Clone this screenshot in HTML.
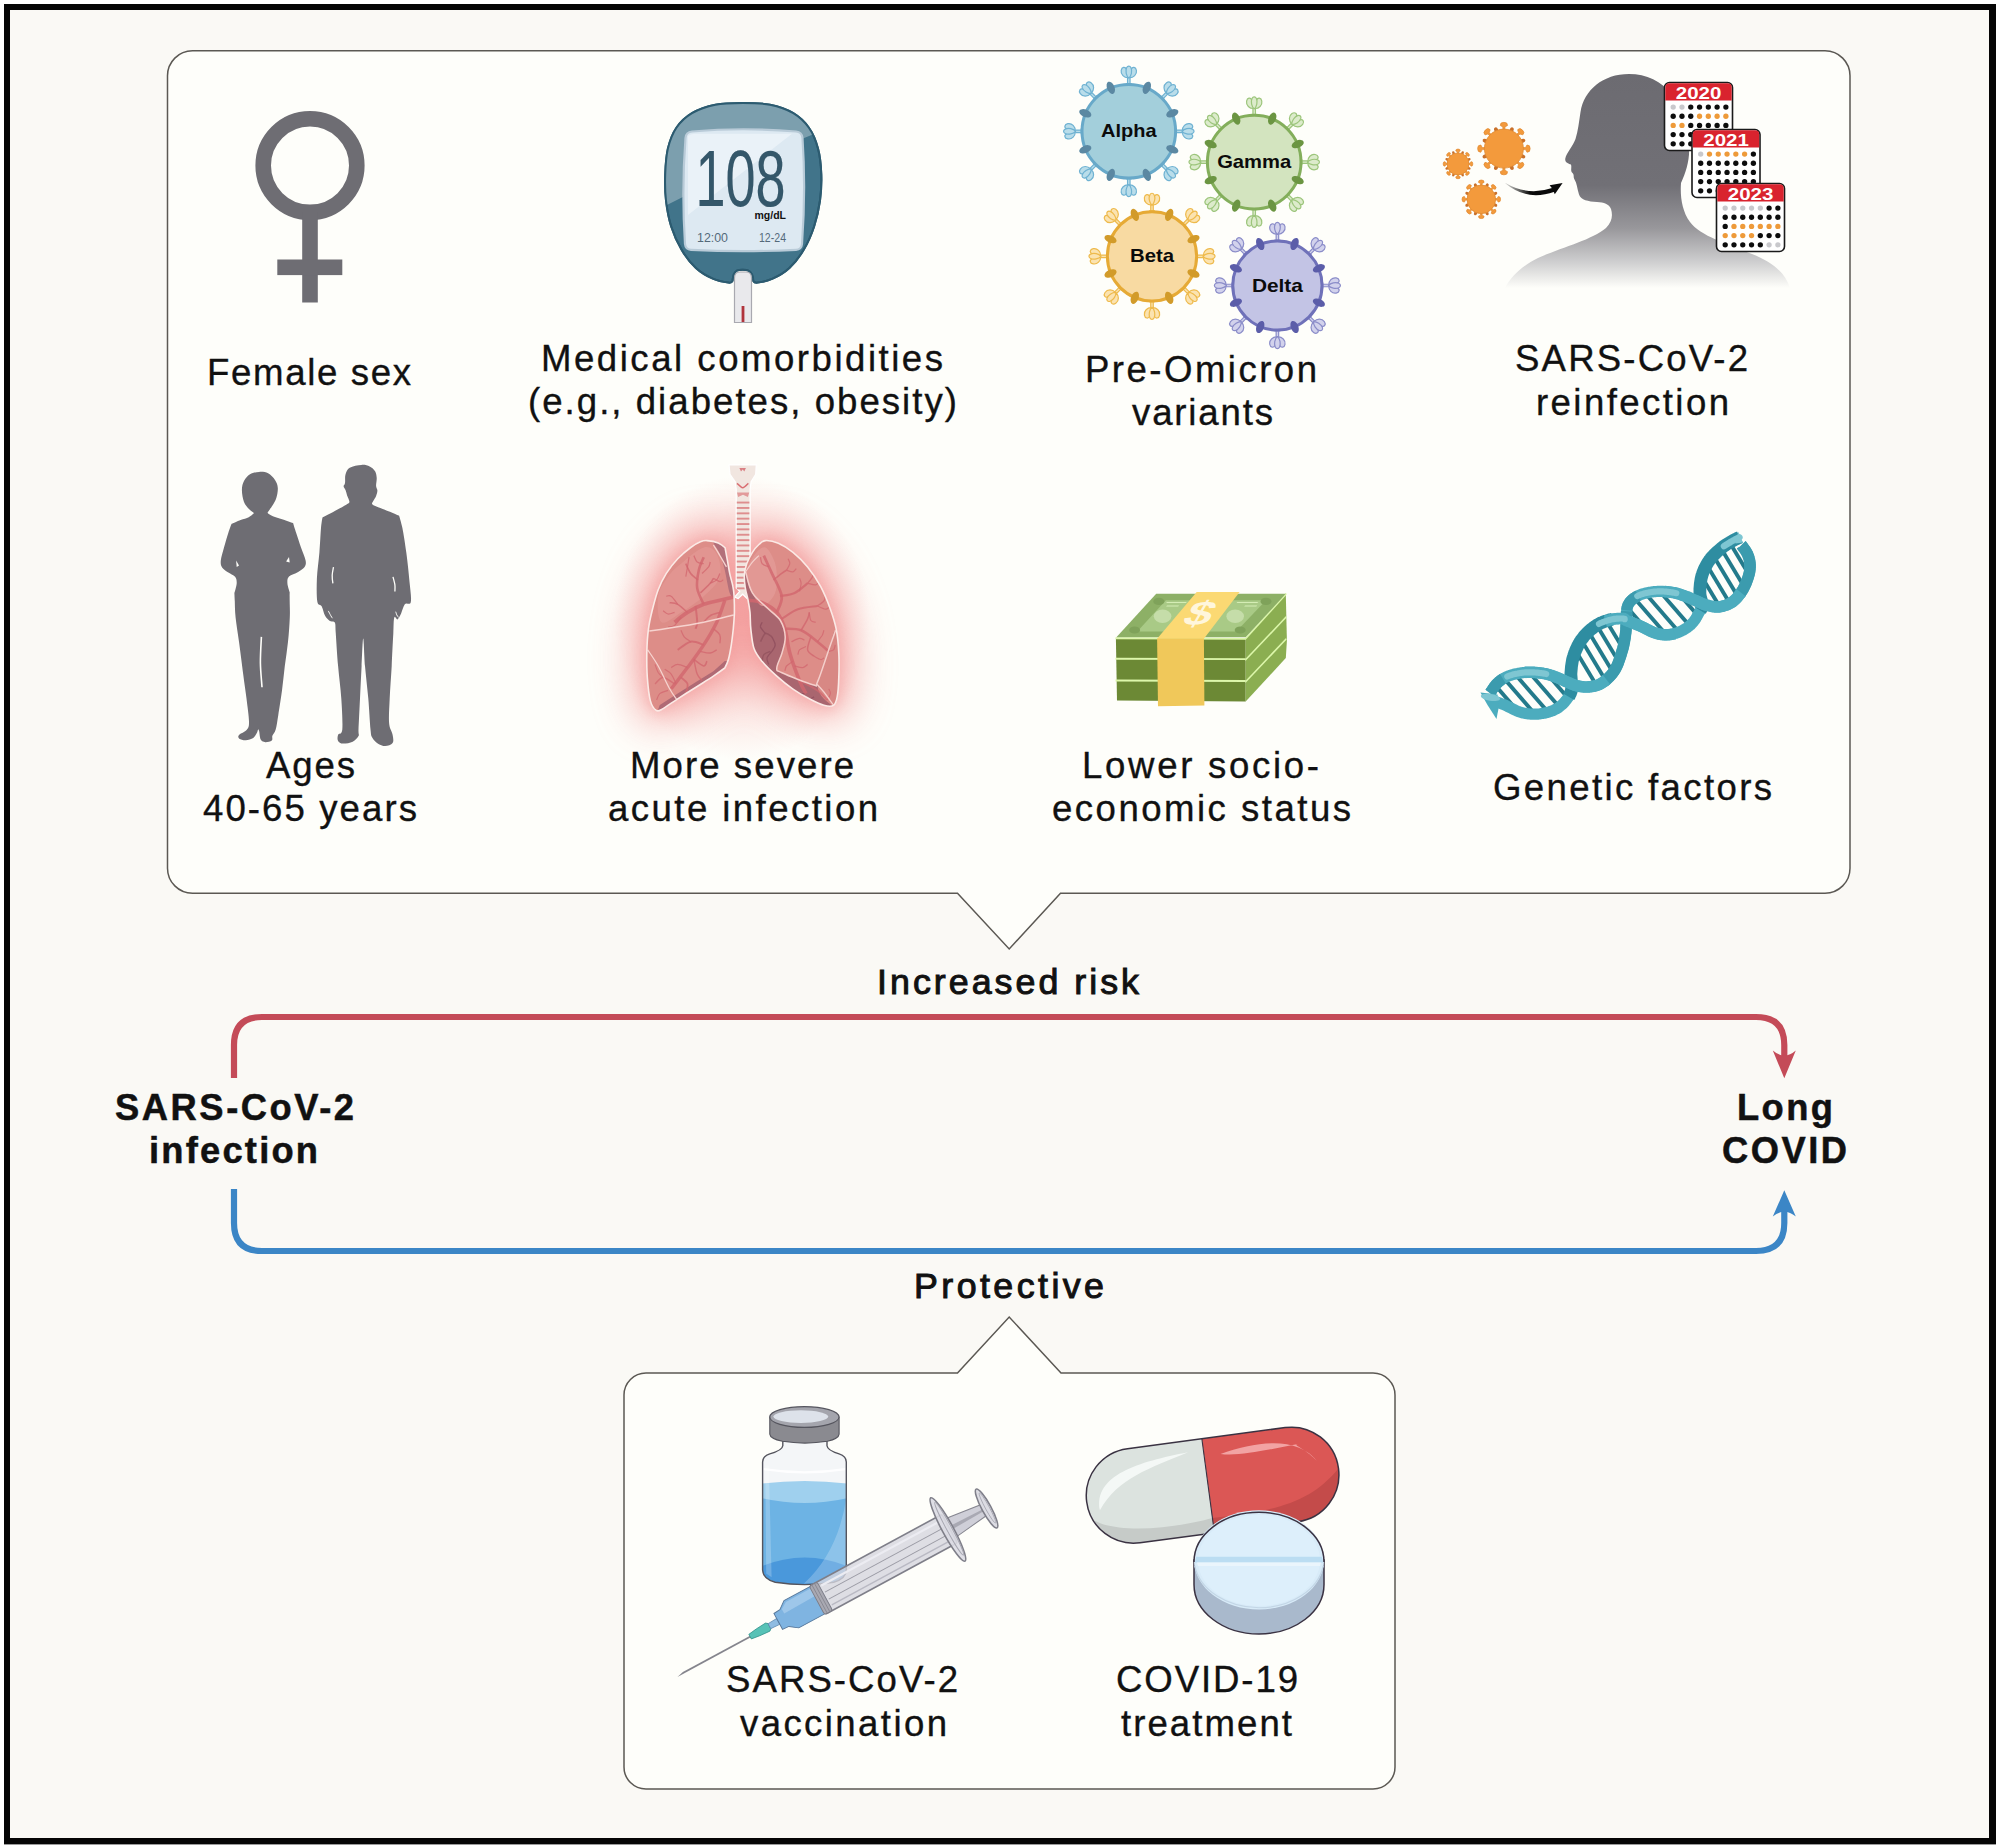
<!DOCTYPE html>
<html lang="en"><head><meta charset="utf-8"><title>Long COVID risk and protective factors</title>
<style>
html,body{margin:0;padding:0;background:#fff;}
body{width:2000px;height:1847px;overflow:hidden;}
svg{display:block;font-family:"Liberation Sans", sans-serif;}
text{white-space:pre;}
</style></head><body>
<svg width="2000" height="1847" viewBox="0 0 2000 1847">
<rect x="0" y="0" width="2000" height="1847" fill="#fff"/>
<rect x="4" y="4" width="1992" height="1840.4" fill="#050505"/>
<rect x="10" y="10" width="1979" height="1828" fill="#FAF9F5"/>
<path d="M192.5,50.8 H1825 A25,25 0 0 1 1850,75.8 V868.2 A25,25 0 0 1 1825,893.2 H1060.5 L1009.2,949 L957.5,893.2 H192.5 A25,25 0 0 1 167.5,868.2 V75.8 A25,25 0 0 1 192.5,50.8 Z" fill="#FEFEFA" stroke="#5b5853" stroke-width="1.5"/>
<path d="M646,1373 H957.5 L1009.2,1317 L1061,1373 H1373 A22,22 0 0 1 1395,1395 V1767 A22,22 0 0 1 1373,1789 H646 A22,22 0 0 1 624,1767 V1395 A22,22 0 0 1 646,1373 Z" fill="#FEFEFA" stroke="#5b5853" stroke-width="1.5"/>
<path d="M234,1078 V1045 Q234,1017 262,1017 H1756 Q1784.3,1017 1784.3,1045 V1060" fill="none" stroke="#C44B58" stroke-width="6.2"/>
<path d="M1784.3,1078.3 L1772.8,1050.5 Q1784.3,1060.5 1795.8,1050.5 Z" fill="#C44B58"/>
<path d="M234,1189 V1223 Q234,1251 262,1251 H1756 Q1784.3,1251 1784.3,1223 V1208" fill="none" stroke="#3B86C6" stroke-width="6.2"/>
<path d="M1784.3,1190.3 L1772.8,1216.5 Q1784.3,1207 1795.8,1216.5 Z" fill="#3B86C6"/>
<g id="female">
<circle cx="310" cy="165.6" r="46.8" fill="none" stroke="#6E6D73" stroke-width="15.6"/>
<rect x="302.2" y="212" width="15.6" height="90.5" fill="#6E6D73"/>
<rect x="277.3" y="259.5" width="65" height="15.6" fill="#6E6D73"/>
</g>
<g id="gluco">
<defs><clipPath id="gbody"><path d="M742.7,103.0 C751.8,103.0 761.5,103.0 770.0,104.7 C778.4,106.4 786.8,109.3 793.3,113.1 C799.8,117.0 804.8,121.8 808.9,127.7 C813.1,133.6 816.0,140.7 818.0,148.5 C820.1,156.3 821.0,165.8 821.3,174.5 C821.6,183.1 821.2,191.8 820.0,200.5 C818.8,209.1 816.8,218.2 814.1,226.5 C811.4,234.7 807.9,242.9 803.7,249.8 C799.6,256.8 794.6,263.2 789.4,268.0 C784.2,272.8 777.9,276.3 772.6,278.7 C767.2,281.1 760.8,282.2 757.6,282.6 C754.4,283.0 753.3,281.0 753.3,281.0 C753.3,281.0 752.8,276.3 752.0,274.5 C751.2,272.8 750.1,271.4 748.5,270.6 C747.0,269.8 744.6,269.7 742.7,269.7 C740.7,269.7 738.3,269.8 736.8,270.6 C735.3,271.4 734.5,272.8 733.8,274.5 C733.1,276.3 732.5,281.0 732.5,281.0 C732.5,281.0 731.7,283.0 728.4,282.6 C725.1,282.2 718.2,281.1 712.8,278.7 C707.4,276.3 701.1,272.8 695.9,268.0 C690.7,263.2 685.7,256.8 681.6,249.8 C677.5,242.9 673.8,234.7 671.2,226.5 C668.6,218.2 667.0,209.1 666.0,200.5 C665.0,191.8 664.9,183.1 665.2,174.5 C665.5,165.8 666.1,156.3 667.9,148.5 C669.8,140.7 672.4,133.6 676.4,127.7 C680.4,121.8 685.5,117.0 692.0,113.1 C698.5,109.3 706.9,106.4 715.4,104.7 C723.8,103.0 733.6,103.0 742.7,103.0 Z"/></clipPath></defs>
<path d="M742.7,103.0 C751.8,103.0 761.5,103.0 770.0,104.7 C778.4,106.4 786.8,109.3 793.3,113.1 C799.8,117.0 804.8,121.8 808.9,127.7 C813.1,133.6 816.0,140.7 818.0,148.5 C820.1,156.3 821.0,165.8 821.3,174.5 C821.6,183.1 821.2,191.8 820.0,200.5 C818.8,209.1 816.8,218.2 814.1,226.5 C811.4,234.7 807.9,242.9 803.7,249.8 C799.6,256.8 794.6,263.2 789.4,268.0 C784.2,272.8 777.9,276.3 772.6,278.7 C767.2,281.1 760.8,282.2 757.6,282.6 C754.4,283.0 753.3,281.0 753.3,281.0 C753.3,281.0 752.8,276.3 752.0,274.5 C751.2,272.8 750.1,271.4 748.5,270.6 C747.0,269.8 744.6,269.7 742.7,269.7 C740.7,269.7 738.3,269.8 736.8,270.6 C735.3,271.4 734.5,272.8 733.8,274.5 C733.1,276.3 732.5,281.0 732.5,281.0 C732.5,281.0 731.7,283.0 728.4,282.6 C725.1,282.2 718.2,281.1 712.8,278.7 C707.4,276.3 701.1,272.8 695.9,268.0 C690.7,263.2 685.7,256.8 681.6,249.8 C677.5,242.9 673.8,234.7 671.2,226.5 C668.6,218.2 667.0,209.1 666.0,200.5 C665.0,191.8 664.9,183.1 665.2,174.5 C665.5,165.8 666.1,156.3 667.9,148.5 C669.8,140.7 672.4,133.6 676.4,127.7 C680.4,121.8 685.5,117.0 692.0,113.1 C698.5,109.3 706.9,106.4 715.4,104.7 C723.8,103.0 733.6,103.0 742.7,103.0 Z" fill="#41748A" stroke="#2C5B70" stroke-width="2"/>
<g clip-path="url(#gbody)"><path d="M660,100 H830 V128 C800,138 740,168 663,207 Z" fill="#7C9FAE"/></g>
<path d="M742.7,103.0 C751.8,103.0 761.5,103.0 770.0,104.7 C778.4,106.4 786.8,109.3 793.3,113.1 C799.8,117.0 804.8,121.8 808.9,127.7 C813.1,133.6 816.0,140.7 818.0,148.5 C820.1,156.3 821.0,165.8 821.3,174.5 C821.6,183.1 821.2,191.8 820.0,200.5 C818.8,209.1 816.8,218.2 814.1,226.5 C811.4,234.7 807.9,242.9 803.7,249.8 C799.6,256.8 794.6,263.2 789.4,268.0 C784.2,272.8 777.9,276.3 772.6,278.7 C767.2,281.1 760.8,282.2 757.6,282.6 C754.4,283.0 753.3,281.0 753.3,281.0 C753.3,281.0 752.8,276.3 752.0,274.5 C751.2,272.8 750.1,271.4 748.5,270.6 C747.0,269.8 744.6,269.7 742.7,269.7 C740.7,269.7 738.3,269.8 736.8,270.6 C735.3,271.4 734.5,272.8 733.8,274.5 C733.1,276.3 732.5,281.0 732.5,281.0 C732.5,281.0 731.7,283.0 728.4,282.6 C725.1,282.2 718.2,281.1 712.8,278.7 C707.4,276.3 701.1,272.8 695.9,268.0 C690.7,263.2 685.7,256.8 681.6,249.8 C677.5,242.9 673.8,234.7 671.2,226.5 C668.6,218.2 667.0,209.1 666.0,200.5 C665.0,191.8 664.9,183.1 665.2,174.5 C665.5,165.8 666.1,156.3 667.9,148.5 C669.8,140.7 672.4,133.6 676.4,127.7 C680.4,121.8 685.5,117.0 692.0,113.1 C698.5,109.3 706.9,106.4 715.4,104.7 C723.8,103.0 733.6,103.0 742.7,103.0 Z" fill="none" stroke="#2C5B70" stroke-width="2"/>
<path d="M734.5,278 Q734.5,272 740,272 H746 Q751.5,272 751.5,278 V322.5 H734.5 Z" fill="#E9E9EC" stroke="#A9A9B0" stroke-width="1.2"/>
<rect x="741.6" y="306" width="2.8" height="16" fill="#B0343C"/>
<path d="M692,131.5 Q743,127 796,131.5 Q802,132 802.5,138 Q806,190 802,244 Q801.5,249.5 796,249.8 Q743,252.5 691,249.8 Q685.5,249.5 685,244 Q681.5,190 685.5,138 Q686,132 692,131.5 Z" fill="#DDE9F2" stroke="#B9CBD8" stroke-width="2.2"/>
<path d="M688,136 Q690,134 694,133.8 L792,133.8 L688,215 Z" fill="#EEF4F9" opacity="0.75"/>
<text x="695.5" y="205.5" font-size="79" fill="#34576A" textLength="90" lengthAdjust="spacingAndGlyphs" stroke="#2B4A5A" stroke-width="0.2">108</text>
<text x="754.5" y="219" font-size="10.5" font-weight="bold" fill="#111" textLength="31.5" lengthAdjust="spacingAndGlyphs">mg/dL</text>
<text x="697" y="241.5" font-size="13" fill="#54697a" textLength="31" lengthAdjust="spacingAndGlyphs">12:00</text>
<text x="759" y="241.5" font-size="13" fill="#54697a" textLength="27" lengthAdjust="spacingAndGlyphs">12-24</text>
</g>
<g id="viruses">
<g transform="translate(1128.8,131.3) rotate(0) translate(0,-46.8)" fill="#B9DDEA" stroke="#6FB2D2" stroke-width="1.2" stroke-linejoin="round"><path d="M-1.25,1.5 L-1.25,-8 L1.25,-8 L1.25,1.5 Z"/><path d="M-3,-0.6 L3,-0.6" stroke-width="1.6"/><path d="M-0.6,-6.8 C-4.5,-6.6 -8.4,-10 -7.6,-14.2 C-7,-17.6 -3.6,-18.2 -2.4,-15.2 C-1.6,-12.6 -1,-9.4 -0.6,-6.8 Z"/><path d="M0.6,-6.8 C4.5,-6.6 8.4,-10 7.6,-14.2 C7,-17.6 3.6,-18.2 2.4,-15.2 C1.6,-12.6 1,-9.4 0.6,-6.8 Z"/><path d="M0,-6.4 C-2.6,-8.6 -3.6,-13.6 -2.2,-16.8 C-1.2,-19 1.2,-19 2.2,-16.8 C3.6,-13.6 2.6,-8.6 0,-6.4 Z"/></g>
<g transform="translate(1128.8,131.3) rotate(45) translate(0,-46.8)" fill="#B9DDEA" stroke="#6FB2D2" stroke-width="1.2" stroke-linejoin="round"><path d="M-1.25,1.5 L-1.25,-8 L1.25,-8 L1.25,1.5 Z"/><path d="M-3,-0.6 L3,-0.6" stroke-width="1.6"/><path d="M-0.6,-6.8 C-4.5,-6.6 -8.4,-10 -7.6,-14.2 C-7,-17.6 -3.6,-18.2 -2.4,-15.2 C-1.6,-12.6 -1,-9.4 -0.6,-6.8 Z"/><path d="M0.6,-6.8 C4.5,-6.6 8.4,-10 7.6,-14.2 C7,-17.6 3.6,-18.2 2.4,-15.2 C1.6,-12.6 1,-9.4 0.6,-6.8 Z"/><path d="M0,-6.4 C-2.6,-8.6 -3.6,-13.6 -2.2,-16.8 C-1.2,-19 1.2,-19 2.2,-16.8 C3.6,-13.6 2.6,-8.6 0,-6.4 Z"/></g>
<g transform="translate(1128.8,131.3) rotate(90) translate(0,-46.8)" fill="#B9DDEA" stroke="#6FB2D2" stroke-width="1.2" stroke-linejoin="round"><path d="M-1.25,1.5 L-1.25,-8 L1.25,-8 L1.25,1.5 Z"/><path d="M-3,-0.6 L3,-0.6" stroke-width="1.6"/><path d="M-0.6,-6.8 C-4.5,-6.6 -8.4,-10 -7.6,-14.2 C-7,-17.6 -3.6,-18.2 -2.4,-15.2 C-1.6,-12.6 -1,-9.4 -0.6,-6.8 Z"/><path d="M0.6,-6.8 C4.5,-6.6 8.4,-10 7.6,-14.2 C7,-17.6 3.6,-18.2 2.4,-15.2 C1.6,-12.6 1,-9.4 0.6,-6.8 Z"/><path d="M0,-6.4 C-2.6,-8.6 -3.6,-13.6 -2.2,-16.8 C-1.2,-19 1.2,-19 2.2,-16.8 C3.6,-13.6 2.6,-8.6 0,-6.4 Z"/></g>
<g transform="translate(1128.8,131.3) rotate(135) translate(0,-46.8)" fill="#B9DDEA" stroke="#6FB2D2" stroke-width="1.2" stroke-linejoin="round"><path d="M-1.25,1.5 L-1.25,-8 L1.25,-8 L1.25,1.5 Z"/><path d="M-3,-0.6 L3,-0.6" stroke-width="1.6"/><path d="M-0.6,-6.8 C-4.5,-6.6 -8.4,-10 -7.6,-14.2 C-7,-17.6 -3.6,-18.2 -2.4,-15.2 C-1.6,-12.6 -1,-9.4 -0.6,-6.8 Z"/><path d="M0.6,-6.8 C4.5,-6.6 8.4,-10 7.6,-14.2 C7,-17.6 3.6,-18.2 2.4,-15.2 C1.6,-12.6 1,-9.4 0.6,-6.8 Z"/><path d="M0,-6.4 C-2.6,-8.6 -3.6,-13.6 -2.2,-16.8 C-1.2,-19 1.2,-19 2.2,-16.8 C3.6,-13.6 2.6,-8.6 0,-6.4 Z"/></g>
<g transform="translate(1128.8,131.3) rotate(180) translate(0,-46.8)" fill="#B9DDEA" stroke="#6FB2D2" stroke-width="1.2" stroke-linejoin="round"><path d="M-1.25,1.5 L-1.25,-8 L1.25,-8 L1.25,1.5 Z"/><path d="M-3,-0.6 L3,-0.6" stroke-width="1.6"/><path d="M-0.6,-6.8 C-4.5,-6.6 -8.4,-10 -7.6,-14.2 C-7,-17.6 -3.6,-18.2 -2.4,-15.2 C-1.6,-12.6 -1,-9.4 -0.6,-6.8 Z"/><path d="M0.6,-6.8 C4.5,-6.6 8.4,-10 7.6,-14.2 C7,-17.6 3.6,-18.2 2.4,-15.2 C1.6,-12.6 1,-9.4 0.6,-6.8 Z"/><path d="M0,-6.4 C-2.6,-8.6 -3.6,-13.6 -2.2,-16.8 C-1.2,-19 1.2,-19 2.2,-16.8 C3.6,-13.6 2.6,-8.6 0,-6.4 Z"/></g>
<g transform="translate(1128.8,131.3) rotate(225) translate(0,-46.8)" fill="#B9DDEA" stroke="#6FB2D2" stroke-width="1.2" stroke-linejoin="round"><path d="M-1.25,1.5 L-1.25,-8 L1.25,-8 L1.25,1.5 Z"/><path d="M-3,-0.6 L3,-0.6" stroke-width="1.6"/><path d="M-0.6,-6.8 C-4.5,-6.6 -8.4,-10 -7.6,-14.2 C-7,-17.6 -3.6,-18.2 -2.4,-15.2 C-1.6,-12.6 -1,-9.4 -0.6,-6.8 Z"/><path d="M0.6,-6.8 C4.5,-6.6 8.4,-10 7.6,-14.2 C7,-17.6 3.6,-18.2 2.4,-15.2 C1.6,-12.6 1,-9.4 0.6,-6.8 Z"/><path d="M0,-6.4 C-2.6,-8.6 -3.6,-13.6 -2.2,-16.8 C-1.2,-19 1.2,-19 2.2,-16.8 C3.6,-13.6 2.6,-8.6 0,-6.4 Z"/></g>
<g transform="translate(1128.8,131.3) rotate(270) translate(0,-46.8)" fill="#B9DDEA" stroke="#6FB2D2" stroke-width="1.2" stroke-linejoin="round"><path d="M-1.25,1.5 L-1.25,-8 L1.25,-8 L1.25,1.5 Z"/><path d="M-3,-0.6 L3,-0.6" stroke-width="1.6"/><path d="M-0.6,-6.8 C-4.5,-6.6 -8.4,-10 -7.6,-14.2 C-7,-17.6 -3.6,-18.2 -2.4,-15.2 C-1.6,-12.6 -1,-9.4 -0.6,-6.8 Z"/><path d="M0.6,-6.8 C4.5,-6.6 8.4,-10 7.6,-14.2 C7,-17.6 3.6,-18.2 2.4,-15.2 C1.6,-12.6 1,-9.4 0.6,-6.8 Z"/><path d="M0,-6.4 C-2.6,-8.6 -3.6,-13.6 -2.2,-16.8 C-1.2,-19 1.2,-19 2.2,-16.8 C3.6,-13.6 2.6,-8.6 0,-6.4 Z"/></g>
<g transform="translate(1128.8,131.3) rotate(315) translate(0,-46.8)" fill="#B9DDEA" stroke="#6FB2D2" stroke-width="1.2" stroke-linejoin="round"><path d="M-1.25,1.5 L-1.25,-8 L1.25,-8 L1.25,1.5 Z"/><path d="M-3,-0.6 L3,-0.6" stroke-width="1.6"/><path d="M-0.6,-6.8 C-4.5,-6.6 -8.4,-10 -7.6,-14.2 C-7,-17.6 -3.6,-18.2 -2.4,-15.2 C-1.6,-12.6 -1,-9.4 -0.6,-6.8 Z"/><path d="M0.6,-6.8 C4.5,-6.6 8.4,-10 7.6,-14.2 C7,-17.6 3.6,-18.2 2.4,-15.2 C1.6,-12.6 1,-9.4 0.6,-6.8 Z"/><path d="M0,-6.4 C-2.6,-8.6 -3.6,-13.6 -2.2,-16.8 C-1.2,-19 1.2,-19 2.2,-16.8 C3.6,-13.6 2.6,-8.6 0,-6.4 Z"/></g>
<circle cx="1128.8" cy="131.3" r="46.8" fill="#A3CFDB" stroke="#68A9C9" stroke-width="3"/>
<ellipse cx="0" cy="-47.099999999999994" rx="3.7" ry="6.4" fill="#5B88A2" transform="translate(1128.8,131.3) rotate(22.5)"/>
<ellipse cx="0" cy="-47.099999999999994" rx="3.7" ry="6.4" fill="#5B88A2" transform="translate(1128.8,131.3) rotate(67.5)"/>
<ellipse cx="0" cy="-47.099999999999994" rx="3.7" ry="6.4" fill="#5B88A2" transform="translate(1128.8,131.3) rotate(112.5)"/>
<ellipse cx="0" cy="-47.099999999999994" rx="3.7" ry="6.4" fill="#5B88A2" transform="translate(1128.8,131.3) rotate(157.5)"/>
<ellipse cx="0" cy="-47.099999999999994" rx="3.7" ry="6.4" fill="#5B88A2" transform="translate(1128.8,131.3) rotate(202.5)"/>
<ellipse cx="0" cy="-47.099999999999994" rx="3.7" ry="6.4" fill="#5B88A2" transform="translate(1128.8,131.3) rotate(247.5)"/>
<ellipse cx="0" cy="-47.099999999999994" rx="3.7" ry="6.4" fill="#5B88A2" transform="translate(1128.8,131.3) rotate(292.5)"/>
<ellipse cx="0" cy="-47.099999999999994" rx="3.7" ry="6.4" fill="#5B88A2" transform="translate(1128.8,131.3) rotate(337.5)"/>
<text x="1101.0" y="137.4" font-size="18.6" font-weight="bold" fill="#0b0b0b" textLength="55.5" lengthAdjust="spacingAndGlyphs">Alpha</text>
<g transform="translate(1254.2,162.1) rotate(0) translate(0,-46.8)" fill="#DCEBCB" stroke="#9CC57B" stroke-width="1.2" stroke-linejoin="round"><path d="M-1.25,1.5 L-1.25,-8 L1.25,-8 L1.25,1.5 Z"/><path d="M-3,-0.6 L3,-0.6" stroke-width="1.6"/><path d="M-0.6,-6.8 C-4.5,-6.6 -8.4,-10 -7.6,-14.2 C-7,-17.6 -3.6,-18.2 -2.4,-15.2 C-1.6,-12.6 -1,-9.4 -0.6,-6.8 Z"/><path d="M0.6,-6.8 C4.5,-6.6 8.4,-10 7.6,-14.2 C7,-17.6 3.6,-18.2 2.4,-15.2 C1.6,-12.6 1,-9.4 0.6,-6.8 Z"/><path d="M0,-6.4 C-2.6,-8.6 -3.6,-13.6 -2.2,-16.8 C-1.2,-19 1.2,-19 2.2,-16.8 C3.6,-13.6 2.6,-8.6 0,-6.4 Z"/></g>
<g transform="translate(1254.2,162.1) rotate(45) translate(0,-46.8)" fill="#DCEBCB" stroke="#9CC57B" stroke-width="1.2" stroke-linejoin="round"><path d="M-1.25,1.5 L-1.25,-8 L1.25,-8 L1.25,1.5 Z"/><path d="M-3,-0.6 L3,-0.6" stroke-width="1.6"/><path d="M-0.6,-6.8 C-4.5,-6.6 -8.4,-10 -7.6,-14.2 C-7,-17.6 -3.6,-18.2 -2.4,-15.2 C-1.6,-12.6 -1,-9.4 -0.6,-6.8 Z"/><path d="M0.6,-6.8 C4.5,-6.6 8.4,-10 7.6,-14.2 C7,-17.6 3.6,-18.2 2.4,-15.2 C1.6,-12.6 1,-9.4 0.6,-6.8 Z"/><path d="M0,-6.4 C-2.6,-8.6 -3.6,-13.6 -2.2,-16.8 C-1.2,-19 1.2,-19 2.2,-16.8 C3.6,-13.6 2.6,-8.6 0,-6.4 Z"/></g>
<g transform="translate(1254.2,162.1) rotate(90) translate(0,-46.8)" fill="#DCEBCB" stroke="#9CC57B" stroke-width="1.2" stroke-linejoin="round"><path d="M-1.25,1.5 L-1.25,-8 L1.25,-8 L1.25,1.5 Z"/><path d="M-3,-0.6 L3,-0.6" stroke-width="1.6"/><path d="M-0.6,-6.8 C-4.5,-6.6 -8.4,-10 -7.6,-14.2 C-7,-17.6 -3.6,-18.2 -2.4,-15.2 C-1.6,-12.6 -1,-9.4 -0.6,-6.8 Z"/><path d="M0.6,-6.8 C4.5,-6.6 8.4,-10 7.6,-14.2 C7,-17.6 3.6,-18.2 2.4,-15.2 C1.6,-12.6 1,-9.4 0.6,-6.8 Z"/><path d="M0,-6.4 C-2.6,-8.6 -3.6,-13.6 -2.2,-16.8 C-1.2,-19 1.2,-19 2.2,-16.8 C3.6,-13.6 2.6,-8.6 0,-6.4 Z"/></g>
<g transform="translate(1254.2,162.1) rotate(135) translate(0,-46.8)" fill="#DCEBCB" stroke="#9CC57B" stroke-width="1.2" stroke-linejoin="round"><path d="M-1.25,1.5 L-1.25,-8 L1.25,-8 L1.25,1.5 Z"/><path d="M-3,-0.6 L3,-0.6" stroke-width="1.6"/><path d="M-0.6,-6.8 C-4.5,-6.6 -8.4,-10 -7.6,-14.2 C-7,-17.6 -3.6,-18.2 -2.4,-15.2 C-1.6,-12.6 -1,-9.4 -0.6,-6.8 Z"/><path d="M0.6,-6.8 C4.5,-6.6 8.4,-10 7.6,-14.2 C7,-17.6 3.6,-18.2 2.4,-15.2 C1.6,-12.6 1,-9.4 0.6,-6.8 Z"/><path d="M0,-6.4 C-2.6,-8.6 -3.6,-13.6 -2.2,-16.8 C-1.2,-19 1.2,-19 2.2,-16.8 C3.6,-13.6 2.6,-8.6 0,-6.4 Z"/></g>
<g transform="translate(1254.2,162.1) rotate(180) translate(0,-46.8)" fill="#DCEBCB" stroke="#9CC57B" stroke-width="1.2" stroke-linejoin="round"><path d="M-1.25,1.5 L-1.25,-8 L1.25,-8 L1.25,1.5 Z"/><path d="M-3,-0.6 L3,-0.6" stroke-width="1.6"/><path d="M-0.6,-6.8 C-4.5,-6.6 -8.4,-10 -7.6,-14.2 C-7,-17.6 -3.6,-18.2 -2.4,-15.2 C-1.6,-12.6 -1,-9.4 -0.6,-6.8 Z"/><path d="M0.6,-6.8 C4.5,-6.6 8.4,-10 7.6,-14.2 C7,-17.6 3.6,-18.2 2.4,-15.2 C1.6,-12.6 1,-9.4 0.6,-6.8 Z"/><path d="M0,-6.4 C-2.6,-8.6 -3.6,-13.6 -2.2,-16.8 C-1.2,-19 1.2,-19 2.2,-16.8 C3.6,-13.6 2.6,-8.6 0,-6.4 Z"/></g>
<g transform="translate(1254.2,162.1) rotate(225) translate(0,-46.8)" fill="#DCEBCB" stroke="#9CC57B" stroke-width="1.2" stroke-linejoin="round"><path d="M-1.25,1.5 L-1.25,-8 L1.25,-8 L1.25,1.5 Z"/><path d="M-3,-0.6 L3,-0.6" stroke-width="1.6"/><path d="M-0.6,-6.8 C-4.5,-6.6 -8.4,-10 -7.6,-14.2 C-7,-17.6 -3.6,-18.2 -2.4,-15.2 C-1.6,-12.6 -1,-9.4 -0.6,-6.8 Z"/><path d="M0.6,-6.8 C4.5,-6.6 8.4,-10 7.6,-14.2 C7,-17.6 3.6,-18.2 2.4,-15.2 C1.6,-12.6 1,-9.4 0.6,-6.8 Z"/><path d="M0,-6.4 C-2.6,-8.6 -3.6,-13.6 -2.2,-16.8 C-1.2,-19 1.2,-19 2.2,-16.8 C3.6,-13.6 2.6,-8.6 0,-6.4 Z"/></g>
<g transform="translate(1254.2,162.1) rotate(270) translate(0,-46.8)" fill="#DCEBCB" stroke="#9CC57B" stroke-width="1.2" stroke-linejoin="round"><path d="M-1.25,1.5 L-1.25,-8 L1.25,-8 L1.25,1.5 Z"/><path d="M-3,-0.6 L3,-0.6" stroke-width="1.6"/><path d="M-0.6,-6.8 C-4.5,-6.6 -8.4,-10 -7.6,-14.2 C-7,-17.6 -3.6,-18.2 -2.4,-15.2 C-1.6,-12.6 -1,-9.4 -0.6,-6.8 Z"/><path d="M0.6,-6.8 C4.5,-6.6 8.4,-10 7.6,-14.2 C7,-17.6 3.6,-18.2 2.4,-15.2 C1.6,-12.6 1,-9.4 0.6,-6.8 Z"/><path d="M0,-6.4 C-2.6,-8.6 -3.6,-13.6 -2.2,-16.8 C-1.2,-19 1.2,-19 2.2,-16.8 C3.6,-13.6 2.6,-8.6 0,-6.4 Z"/></g>
<g transform="translate(1254.2,162.1) rotate(315) translate(0,-46.8)" fill="#DCEBCB" stroke="#9CC57B" stroke-width="1.2" stroke-linejoin="round"><path d="M-1.25,1.5 L-1.25,-8 L1.25,-8 L1.25,1.5 Z"/><path d="M-3,-0.6 L3,-0.6" stroke-width="1.6"/><path d="M-0.6,-6.8 C-4.5,-6.6 -8.4,-10 -7.6,-14.2 C-7,-17.6 -3.6,-18.2 -2.4,-15.2 C-1.6,-12.6 -1,-9.4 -0.6,-6.8 Z"/><path d="M0.6,-6.8 C4.5,-6.6 8.4,-10 7.6,-14.2 C7,-17.6 3.6,-18.2 2.4,-15.2 C1.6,-12.6 1,-9.4 0.6,-6.8 Z"/><path d="M0,-6.4 C-2.6,-8.6 -3.6,-13.6 -2.2,-16.8 C-1.2,-19 1.2,-19 2.2,-16.8 C3.6,-13.6 2.6,-8.6 0,-6.4 Z"/></g>
<circle cx="1254.2" cy="162.1" r="46.8" fill="#D3E4BF" stroke="#83AE5B" stroke-width="3"/>
<ellipse cx="0" cy="-47.099999999999994" rx="3.7" ry="6.4" fill="#6B9542" transform="translate(1254.2,162.1) rotate(22.5)"/>
<ellipse cx="0" cy="-47.099999999999994" rx="3.7" ry="6.4" fill="#6B9542" transform="translate(1254.2,162.1) rotate(67.5)"/>
<ellipse cx="0" cy="-47.099999999999994" rx="3.7" ry="6.4" fill="#6B9542" transform="translate(1254.2,162.1) rotate(112.5)"/>
<ellipse cx="0" cy="-47.099999999999994" rx="3.7" ry="6.4" fill="#6B9542" transform="translate(1254.2,162.1) rotate(157.5)"/>
<ellipse cx="0" cy="-47.099999999999994" rx="3.7" ry="6.4" fill="#6B9542" transform="translate(1254.2,162.1) rotate(202.5)"/>
<ellipse cx="0" cy="-47.099999999999994" rx="3.7" ry="6.4" fill="#6B9542" transform="translate(1254.2,162.1) rotate(247.5)"/>
<ellipse cx="0" cy="-47.099999999999994" rx="3.7" ry="6.4" fill="#6B9542" transform="translate(1254.2,162.1) rotate(292.5)"/>
<ellipse cx="0" cy="-47.099999999999994" rx="3.7" ry="6.4" fill="#6B9542" transform="translate(1254.2,162.1) rotate(337.5)"/>
<text x="1217.2" y="168.3" font-size="18.6" font-weight="bold" fill="#0b0b0b" textLength="74" lengthAdjust="spacingAndGlyphs">Gamma</text>
<g transform="translate(1152.0,256.3) rotate(0) translate(0,-44.6)" fill="#FBE3B0" stroke="#EEBA4C" stroke-width="1.2" stroke-linejoin="round"><path d="M-1.25,1.5 L-1.25,-8 L1.25,-8 L1.25,1.5 Z"/><path d="M-3,-0.6 L3,-0.6" stroke-width="1.6"/><path d="M-0.6,-6.8 C-4.5,-6.6 -8.4,-10 -7.6,-14.2 C-7,-17.6 -3.6,-18.2 -2.4,-15.2 C-1.6,-12.6 -1,-9.4 -0.6,-6.8 Z"/><path d="M0.6,-6.8 C4.5,-6.6 8.4,-10 7.6,-14.2 C7,-17.6 3.6,-18.2 2.4,-15.2 C1.6,-12.6 1,-9.4 0.6,-6.8 Z"/><path d="M0,-6.4 C-2.6,-8.6 -3.6,-13.6 -2.2,-16.8 C-1.2,-19 1.2,-19 2.2,-16.8 C3.6,-13.6 2.6,-8.6 0,-6.4 Z"/></g>
<g transform="translate(1152.0,256.3) rotate(45) translate(0,-44.6)" fill="#FBE3B0" stroke="#EEBA4C" stroke-width="1.2" stroke-linejoin="round"><path d="M-1.25,1.5 L-1.25,-8 L1.25,-8 L1.25,1.5 Z"/><path d="M-3,-0.6 L3,-0.6" stroke-width="1.6"/><path d="M-0.6,-6.8 C-4.5,-6.6 -8.4,-10 -7.6,-14.2 C-7,-17.6 -3.6,-18.2 -2.4,-15.2 C-1.6,-12.6 -1,-9.4 -0.6,-6.8 Z"/><path d="M0.6,-6.8 C4.5,-6.6 8.4,-10 7.6,-14.2 C7,-17.6 3.6,-18.2 2.4,-15.2 C1.6,-12.6 1,-9.4 0.6,-6.8 Z"/><path d="M0,-6.4 C-2.6,-8.6 -3.6,-13.6 -2.2,-16.8 C-1.2,-19 1.2,-19 2.2,-16.8 C3.6,-13.6 2.6,-8.6 0,-6.4 Z"/></g>
<g transform="translate(1152.0,256.3) rotate(90) translate(0,-44.6)" fill="#FBE3B0" stroke="#EEBA4C" stroke-width="1.2" stroke-linejoin="round"><path d="M-1.25,1.5 L-1.25,-8 L1.25,-8 L1.25,1.5 Z"/><path d="M-3,-0.6 L3,-0.6" stroke-width="1.6"/><path d="M-0.6,-6.8 C-4.5,-6.6 -8.4,-10 -7.6,-14.2 C-7,-17.6 -3.6,-18.2 -2.4,-15.2 C-1.6,-12.6 -1,-9.4 -0.6,-6.8 Z"/><path d="M0.6,-6.8 C4.5,-6.6 8.4,-10 7.6,-14.2 C7,-17.6 3.6,-18.2 2.4,-15.2 C1.6,-12.6 1,-9.4 0.6,-6.8 Z"/><path d="M0,-6.4 C-2.6,-8.6 -3.6,-13.6 -2.2,-16.8 C-1.2,-19 1.2,-19 2.2,-16.8 C3.6,-13.6 2.6,-8.6 0,-6.4 Z"/></g>
<g transform="translate(1152.0,256.3) rotate(135) translate(0,-44.6)" fill="#FBE3B0" stroke="#EEBA4C" stroke-width="1.2" stroke-linejoin="round"><path d="M-1.25,1.5 L-1.25,-8 L1.25,-8 L1.25,1.5 Z"/><path d="M-3,-0.6 L3,-0.6" stroke-width="1.6"/><path d="M-0.6,-6.8 C-4.5,-6.6 -8.4,-10 -7.6,-14.2 C-7,-17.6 -3.6,-18.2 -2.4,-15.2 C-1.6,-12.6 -1,-9.4 -0.6,-6.8 Z"/><path d="M0.6,-6.8 C4.5,-6.6 8.4,-10 7.6,-14.2 C7,-17.6 3.6,-18.2 2.4,-15.2 C1.6,-12.6 1,-9.4 0.6,-6.8 Z"/><path d="M0,-6.4 C-2.6,-8.6 -3.6,-13.6 -2.2,-16.8 C-1.2,-19 1.2,-19 2.2,-16.8 C3.6,-13.6 2.6,-8.6 0,-6.4 Z"/></g>
<g transform="translate(1152.0,256.3) rotate(180) translate(0,-44.6)" fill="#FBE3B0" stroke="#EEBA4C" stroke-width="1.2" stroke-linejoin="round"><path d="M-1.25,1.5 L-1.25,-8 L1.25,-8 L1.25,1.5 Z"/><path d="M-3,-0.6 L3,-0.6" stroke-width="1.6"/><path d="M-0.6,-6.8 C-4.5,-6.6 -8.4,-10 -7.6,-14.2 C-7,-17.6 -3.6,-18.2 -2.4,-15.2 C-1.6,-12.6 -1,-9.4 -0.6,-6.8 Z"/><path d="M0.6,-6.8 C4.5,-6.6 8.4,-10 7.6,-14.2 C7,-17.6 3.6,-18.2 2.4,-15.2 C1.6,-12.6 1,-9.4 0.6,-6.8 Z"/><path d="M0,-6.4 C-2.6,-8.6 -3.6,-13.6 -2.2,-16.8 C-1.2,-19 1.2,-19 2.2,-16.8 C3.6,-13.6 2.6,-8.6 0,-6.4 Z"/></g>
<g transform="translate(1152.0,256.3) rotate(225) translate(0,-44.6)" fill="#FBE3B0" stroke="#EEBA4C" stroke-width="1.2" stroke-linejoin="round"><path d="M-1.25,1.5 L-1.25,-8 L1.25,-8 L1.25,1.5 Z"/><path d="M-3,-0.6 L3,-0.6" stroke-width="1.6"/><path d="M-0.6,-6.8 C-4.5,-6.6 -8.4,-10 -7.6,-14.2 C-7,-17.6 -3.6,-18.2 -2.4,-15.2 C-1.6,-12.6 -1,-9.4 -0.6,-6.8 Z"/><path d="M0.6,-6.8 C4.5,-6.6 8.4,-10 7.6,-14.2 C7,-17.6 3.6,-18.2 2.4,-15.2 C1.6,-12.6 1,-9.4 0.6,-6.8 Z"/><path d="M0,-6.4 C-2.6,-8.6 -3.6,-13.6 -2.2,-16.8 C-1.2,-19 1.2,-19 2.2,-16.8 C3.6,-13.6 2.6,-8.6 0,-6.4 Z"/></g>
<g transform="translate(1152.0,256.3) rotate(270) translate(0,-44.6)" fill="#FBE3B0" stroke="#EEBA4C" stroke-width="1.2" stroke-linejoin="round"><path d="M-1.25,1.5 L-1.25,-8 L1.25,-8 L1.25,1.5 Z"/><path d="M-3,-0.6 L3,-0.6" stroke-width="1.6"/><path d="M-0.6,-6.8 C-4.5,-6.6 -8.4,-10 -7.6,-14.2 C-7,-17.6 -3.6,-18.2 -2.4,-15.2 C-1.6,-12.6 -1,-9.4 -0.6,-6.8 Z"/><path d="M0.6,-6.8 C4.5,-6.6 8.4,-10 7.6,-14.2 C7,-17.6 3.6,-18.2 2.4,-15.2 C1.6,-12.6 1,-9.4 0.6,-6.8 Z"/><path d="M0,-6.4 C-2.6,-8.6 -3.6,-13.6 -2.2,-16.8 C-1.2,-19 1.2,-19 2.2,-16.8 C3.6,-13.6 2.6,-8.6 0,-6.4 Z"/></g>
<g transform="translate(1152.0,256.3) rotate(315) translate(0,-44.6)" fill="#FBE3B0" stroke="#EEBA4C" stroke-width="1.2" stroke-linejoin="round"><path d="M-1.25,1.5 L-1.25,-8 L1.25,-8 L1.25,1.5 Z"/><path d="M-3,-0.6 L3,-0.6" stroke-width="1.6"/><path d="M-0.6,-6.8 C-4.5,-6.6 -8.4,-10 -7.6,-14.2 C-7,-17.6 -3.6,-18.2 -2.4,-15.2 C-1.6,-12.6 -1,-9.4 -0.6,-6.8 Z"/><path d="M0.6,-6.8 C4.5,-6.6 8.4,-10 7.6,-14.2 C7,-17.6 3.6,-18.2 2.4,-15.2 C1.6,-12.6 1,-9.4 0.6,-6.8 Z"/><path d="M0,-6.4 C-2.6,-8.6 -3.6,-13.6 -2.2,-16.8 C-1.2,-19 1.2,-19 2.2,-16.8 C3.6,-13.6 2.6,-8.6 0,-6.4 Z"/></g>
<circle cx="1152.0" cy="256.3" r="44.6" fill="#F8DAA2" stroke="#E6AA36" stroke-width="3"/>
<ellipse cx="0" cy="-44.9" rx="3.7" ry="6.4" fill="#D29B2A" transform="translate(1152.0,256.3) rotate(22.5)"/>
<ellipse cx="0" cy="-44.9" rx="3.7" ry="6.4" fill="#D29B2A" transform="translate(1152.0,256.3) rotate(67.5)"/>
<ellipse cx="0" cy="-44.9" rx="3.7" ry="6.4" fill="#D29B2A" transform="translate(1152.0,256.3) rotate(112.5)"/>
<ellipse cx="0" cy="-44.9" rx="3.7" ry="6.4" fill="#D29B2A" transform="translate(1152.0,256.3) rotate(157.5)"/>
<ellipse cx="0" cy="-44.9" rx="3.7" ry="6.4" fill="#D29B2A" transform="translate(1152.0,256.3) rotate(202.5)"/>
<ellipse cx="0" cy="-44.9" rx="3.7" ry="6.4" fill="#D29B2A" transform="translate(1152.0,256.3) rotate(247.5)"/>
<ellipse cx="0" cy="-44.9" rx="3.7" ry="6.4" fill="#D29B2A" transform="translate(1152.0,256.3) rotate(292.5)"/>
<ellipse cx="0" cy="-44.9" rx="3.7" ry="6.4" fill="#D29B2A" transform="translate(1152.0,256.3) rotate(337.5)"/>
<text x="1130.0" y="262.4" font-size="18.6" font-weight="bold" fill="#0b0b0b" textLength="44" lengthAdjust="spacingAndGlyphs">Beta</text>
<g transform="translate(1277.4,285.5) rotate(0) translate(0,-44.6)" fill="#D2D2EC" stroke="#8B8DC9" stroke-width="1.2" stroke-linejoin="round"><path d="M-1.25,1.5 L-1.25,-8 L1.25,-8 L1.25,1.5 Z"/><path d="M-3,-0.6 L3,-0.6" stroke-width="1.6"/><path d="M-0.6,-6.8 C-4.5,-6.6 -8.4,-10 -7.6,-14.2 C-7,-17.6 -3.6,-18.2 -2.4,-15.2 C-1.6,-12.6 -1,-9.4 -0.6,-6.8 Z"/><path d="M0.6,-6.8 C4.5,-6.6 8.4,-10 7.6,-14.2 C7,-17.6 3.6,-18.2 2.4,-15.2 C1.6,-12.6 1,-9.4 0.6,-6.8 Z"/><path d="M0,-6.4 C-2.6,-8.6 -3.6,-13.6 -2.2,-16.8 C-1.2,-19 1.2,-19 2.2,-16.8 C3.6,-13.6 2.6,-8.6 0,-6.4 Z"/></g>
<g transform="translate(1277.4,285.5) rotate(45) translate(0,-44.6)" fill="#D2D2EC" stroke="#8B8DC9" stroke-width="1.2" stroke-linejoin="round"><path d="M-1.25,1.5 L-1.25,-8 L1.25,-8 L1.25,1.5 Z"/><path d="M-3,-0.6 L3,-0.6" stroke-width="1.6"/><path d="M-0.6,-6.8 C-4.5,-6.6 -8.4,-10 -7.6,-14.2 C-7,-17.6 -3.6,-18.2 -2.4,-15.2 C-1.6,-12.6 -1,-9.4 -0.6,-6.8 Z"/><path d="M0.6,-6.8 C4.5,-6.6 8.4,-10 7.6,-14.2 C7,-17.6 3.6,-18.2 2.4,-15.2 C1.6,-12.6 1,-9.4 0.6,-6.8 Z"/><path d="M0,-6.4 C-2.6,-8.6 -3.6,-13.6 -2.2,-16.8 C-1.2,-19 1.2,-19 2.2,-16.8 C3.6,-13.6 2.6,-8.6 0,-6.4 Z"/></g>
<g transform="translate(1277.4,285.5) rotate(90) translate(0,-44.6)" fill="#D2D2EC" stroke="#8B8DC9" stroke-width="1.2" stroke-linejoin="round"><path d="M-1.25,1.5 L-1.25,-8 L1.25,-8 L1.25,1.5 Z"/><path d="M-3,-0.6 L3,-0.6" stroke-width="1.6"/><path d="M-0.6,-6.8 C-4.5,-6.6 -8.4,-10 -7.6,-14.2 C-7,-17.6 -3.6,-18.2 -2.4,-15.2 C-1.6,-12.6 -1,-9.4 -0.6,-6.8 Z"/><path d="M0.6,-6.8 C4.5,-6.6 8.4,-10 7.6,-14.2 C7,-17.6 3.6,-18.2 2.4,-15.2 C1.6,-12.6 1,-9.4 0.6,-6.8 Z"/><path d="M0,-6.4 C-2.6,-8.6 -3.6,-13.6 -2.2,-16.8 C-1.2,-19 1.2,-19 2.2,-16.8 C3.6,-13.6 2.6,-8.6 0,-6.4 Z"/></g>
<g transform="translate(1277.4,285.5) rotate(135) translate(0,-44.6)" fill="#D2D2EC" stroke="#8B8DC9" stroke-width="1.2" stroke-linejoin="round"><path d="M-1.25,1.5 L-1.25,-8 L1.25,-8 L1.25,1.5 Z"/><path d="M-3,-0.6 L3,-0.6" stroke-width="1.6"/><path d="M-0.6,-6.8 C-4.5,-6.6 -8.4,-10 -7.6,-14.2 C-7,-17.6 -3.6,-18.2 -2.4,-15.2 C-1.6,-12.6 -1,-9.4 -0.6,-6.8 Z"/><path d="M0.6,-6.8 C4.5,-6.6 8.4,-10 7.6,-14.2 C7,-17.6 3.6,-18.2 2.4,-15.2 C1.6,-12.6 1,-9.4 0.6,-6.8 Z"/><path d="M0,-6.4 C-2.6,-8.6 -3.6,-13.6 -2.2,-16.8 C-1.2,-19 1.2,-19 2.2,-16.8 C3.6,-13.6 2.6,-8.6 0,-6.4 Z"/></g>
<g transform="translate(1277.4,285.5) rotate(180) translate(0,-44.6)" fill="#D2D2EC" stroke="#8B8DC9" stroke-width="1.2" stroke-linejoin="round"><path d="M-1.25,1.5 L-1.25,-8 L1.25,-8 L1.25,1.5 Z"/><path d="M-3,-0.6 L3,-0.6" stroke-width="1.6"/><path d="M-0.6,-6.8 C-4.5,-6.6 -8.4,-10 -7.6,-14.2 C-7,-17.6 -3.6,-18.2 -2.4,-15.2 C-1.6,-12.6 -1,-9.4 -0.6,-6.8 Z"/><path d="M0.6,-6.8 C4.5,-6.6 8.4,-10 7.6,-14.2 C7,-17.6 3.6,-18.2 2.4,-15.2 C1.6,-12.6 1,-9.4 0.6,-6.8 Z"/><path d="M0,-6.4 C-2.6,-8.6 -3.6,-13.6 -2.2,-16.8 C-1.2,-19 1.2,-19 2.2,-16.8 C3.6,-13.6 2.6,-8.6 0,-6.4 Z"/></g>
<g transform="translate(1277.4,285.5) rotate(225) translate(0,-44.6)" fill="#D2D2EC" stroke="#8B8DC9" stroke-width="1.2" stroke-linejoin="round"><path d="M-1.25,1.5 L-1.25,-8 L1.25,-8 L1.25,1.5 Z"/><path d="M-3,-0.6 L3,-0.6" stroke-width="1.6"/><path d="M-0.6,-6.8 C-4.5,-6.6 -8.4,-10 -7.6,-14.2 C-7,-17.6 -3.6,-18.2 -2.4,-15.2 C-1.6,-12.6 -1,-9.4 -0.6,-6.8 Z"/><path d="M0.6,-6.8 C4.5,-6.6 8.4,-10 7.6,-14.2 C7,-17.6 3.6,-18.2 2.4,-15.2 C1.6,-12.6 1,-9.4 0.6,-6.8 Z"/><path d="M0,-6.4 C-2.6,-8.6 -3.6,-13.6 -2.2,-16.8 C-1.2,-19 1.2,-19 2.2,-16.8 C3.6,-13.6 2.6,-8.6 0,-6.4 Z"/></g>
<g transform="translate(1277.4,285.5) rotate(270) translate(0,-44.6)" fill="#D2D2EC" stroke="#8B8DC9" stroke-width="1.2" stroke-linejoin="round"><path d="M-1.25,1.5 L-1.25,-8 L1.25,-8 L1.25,1.5 Z"/><path d="M-3,-0.6 L3,-0.6" stroke-width="1.6"/><path d="M-0.6,-6.8 C-4.5,-6.6 -8.4,-10 -7.6,-14.2 C-7,-17.6 -3.6,-18.2 -2.4,-15.2 C-1.6,-12.6 -1,-9.4 -0.6,-6.8 Z"/><path d="M0.6,-6.8 C4.5,-6.6 8.4,-10 7.6,-14.2 C7,-17.6 3.6,-18.2 2.4,-15.2 C1.6,-12.6 1,-9.4 0.6,-6.8 Z"/><path d="M0,-6.4 C-2.6,-8.6 -3.6,-13.6 -2.2,-16.8 C-1.2,-19 1.2,-19 2.2,-16.8 C3.6,-13.6 2.6,-8.6 0,-6.4 Z"/></g>
<g transform="translate(1277.4,285.5) rotate(315) translate(0,-44.6)" fill="#D2D2EC" stroke="#8B8DC9" stroke-width="1.2" stroke-linejoin="round"><path d="M-1.25,1.5 L-1.25,-8 L1.25,-8 L1.25,1.5 Z"/><path d="M-3,-0.6 L3,-0.6" stroke-width="1.6"/><path d="M-0.6,-6.8 C-4.5,-6.6 -8.4,-10 -7.6,-14.2 C-7,-17.6 -3.6,-18.2 -2.4,-15.2 C-1.6,-12.6 -1,-9.4 -0.6,-6.8 Z"/><path d="M0.6,-6.8 C4.5,-6.6 8.4,-10 7.6,-14.2 C7,-17.6 3.6,-18.2 2.4,-15.2 C1.6,-12.6 1,-9.4 0.6,-6.8 Z"/><path d="M0,-6.4 C-2.6,-8.6 -3.6,-13.6 -2.2,-16.8 C-1.2,-19 1.2,-19 2.2,-16.8 C3.6,-13.6 2.6,-8.6 0,-6.4 Z"/></g>
<circle cx="1277.4" cy="285.5" r="44.6" fill="#C3C4E5" stroke="#6F71B9" stroke-width="3"/>
<ellipse cx="0" cy="-44.9" rx="3.7" ry="6.4" fill="#5B5DA9" transform="translate(1277.4,285.5) rotate(22.5)"/>
<ellipse cx="0" cy="-44.9" rx="3.7" ry="6.4" fill="#5B5DA9" transform="translate(1277.4,285.5) rotate(67.5)"/>
<ellipse cx="0" cy="-44.9" rx="3.7" ry="6.4" fill="#5B5DA9" transform="translate(1277.4,285.5) rotate(112.5)"/>
<ellipse cx="0" cy="-44.9" rx="3.7" ry="6.4" fill="#5B5DA9" transform="translate(1277.4,285.5) rotate(157.5)"/>
<ellipse cx="0" cy="-44.9" rx="3.7" ry="6.4" fill="#5B5DA9" transform="translate(1277.4,285.5) rotate(202.5)"/>
<ellipse cx="0" cy="-44.9" rx="3.7" ry="6.4" fill="#5B5DA9" transform="translate(1277.4,285.5) rotate(247.5)"/>
<ellipse cx="0" cy="-44.9" rx="3.7" ry="6.4" fill="#5B5DA9" transform="translate(1277.4,285.5) rotate(292.5)"/>
<ellipse cx="0" cy="-44.9" rx="3.7" ry="6.4" fill="#5B5DA9" transform="translate(1277.4,285.5) rotate(337.5)"/>
<text x="1251.9" y="291.6" font-size="18.6" font-weight="bold" fill="#0b0b0b" textLength="51" lengthAdjust="spacingAndGlyphs">Delta</text>
</g>
<g id="person">
<defs><linearGradient id="pgrad" x1="0" y1="0" x2="0" y2="1" gradientUnits="objectBoundingBox">
<stop offset="0" stop-color="#6C6B71"/><stop offset="0.52" stop-color="#717076"/><stop offset="0.72" stop-color="#98979b"/><stop offset="0.88" stop-color="#cfcfd0"/><stop offset="1" stop-color="#FEFEFA"/></linearGradient></defs>
<path d="M1629,74 C1603,74 1584,90 1580.5,112 C1579,122 1578,131 1575.5,139 C1573,146 1566.5,153 1565.3,158.5 C1564.6,162 1568,163.5 1571,164.5 C1572,168 1570,170.5 1572.5,173 C1574.5,175 1573,177 1574.5,179.5 C1577,183 1577,188 1579,194.5 C1581,200 1588,201.5 1597,202 C1604,202.5 1609,204 1611,209 C1613,216 1612,222 1606,228 C1592,240 1560,248 1538,258 C1522,266 1511,276 1505,288 L1790,288 C1785,272 1772,262 1752,254 C1728,244 1700,236 1690,222 C1682,211 1680,196 1681,183 C1686,172 1690,160 1689,146 C1689,104 1664,74 1629,74 Z" fill="url(#pgrad)"/>
<g transform="translate(1503.9,148.6) rotate(0) translate(0,-19.20)"><path d="M-1.01,0.6 L-1.01,-2.46 L-3.62,-3.87 Q-3.80,-7.17 0,-7.03 Q3.80,-7.17 3.62,-3.87 L1.01,-2.46 L1.01,0.6 Z" fill="#F39A3C" stroke="#E08A32" stroke-width="0.7" stroke-linejoin="round"/></g>
<g transform="translate(1503.9,148.6) rotate(45) translate(0,-19.20)"><path d="M-1.01,0.6 L-1.01,-2.46 L-3.62,-3.87 Q-3.80,-7.17 0,-7.03 Q3.80,-7.17 3.62,-3.87 L1.01,-2.46 L1.01,0.6 Z" fill="#F39A3C" stroke="#E08A32" stroke-width="0.7" stroke-linejoin="round"/></g>
<g transform="translate(1503.9,148.6) rotate(90) translate(0,-19.20)"><path d="M-1.01,0.6 L-1.01,-2.46 L-3.62,-3.87 Q-3.80,-7.17 0,-7.03 Q3.80,-7.17 3.62,-3.87 L1.01,-2.46 L1.01,0.6 Z" fill="#F39A3C" stroke="#E08A32" stroke-width="0.7" stroke-linejoin="round"/></g>
<g transform="translate(1503.9,148.6) rotate(135) translate(0,-19.20)"><path d="M-1.01,0.6 L-1.01,-2.46 L-3.62,-3.87 Q-3.80,-7.17 0,-7.03 Q3.80,-7.17 3.62,-3.87 L1.01,-2.46 L1.01,0.6 Z" fill="#F39A3C" stroke="#E08A32" stroke-width="0.7" stroke-linejoin="round"/></g>
<g transform="translate(1503.9,148.6) rotate(180) translate(0,-19.20)"><path d="M-1.01,0.6 L-1.01,-2.46 L-3.62,-3.87 Q-3.80,-7.17 0,-7.03 Q3.80,-7.17 3.62,-3.87 L1.01,-2.46 L1.01,0.6 Z" fill="#F39A3C" stroke="#E08A32" stroke-width="0.7" stroke-linejoin="round"/></g>
<g transform="translate(1503.9,148.6) rotate(225) translate(0,-19.20)"><path d="M-1.01,0.6 L-1.01,-2.46 L-3.62,-3.87 Q-3.80,-7.17 0,-7.03 Q3.80,-7.17 3.62,-3.87 L1.01,-2.46 L1.01,0.6 Z" fill="#F39A3C" stroke="#E08A32" stroke-width="0.7" stroke-linejoin="round"/></g>
<g transform="translate(1503.9,148.6) rotate(270) translate(0,-19.20)"><path d="M-1.01,0.6 L-1.01,-2.46 L-3.62,-3.87 Q-3.80,-7.17 0,-7.03 Q3.80,-7.17 3.62,-3.87 L1.01,-2.46 L1.01,0.6 Z" fill="#F39A3C" stroke="#E08A32" stroke-width="0.7" stroke-linejoin="round"/></g>
<g transform="translate(1503.9,148.6) rotate(315) translate(0,-19.20)"><path d="M-1.01,0.6 L-1.01,-2.46 L-3.62,-3.87 Q-3.80,-7.17 0,-7.03 Q3.80,-7.17 3.62,-3.87 L1.01,-2.46 L1.01,0.6 Z" fill="#F39A3C" stroke="#E08A32" stroke-width="0.7" stroke-linejoin="round"/></g>
<ellipse cx="0" cy="-20.10" rx="1.96" ry="2.85" fill="#C9702A" transform="translate(1503.9,148.6) rotate(22.5)"/>
<ellipse cx="0" cy="-20.10" rx="1.96" ry="2.85" fill="#C9702A" transform="translate(1503.9,148.6) rotate(67.5)"/>
<ellipse cx="0" cy="-20.10" rx="1.96" ry="2.85" fill="#C9702A" transform="translate(1503.9,148.6) rotate(112.5)"/>
<ellipse cx="0" cy="-20.10" rx="1.96" ry="2.85" fill="#C9702A" transform="translate(1503.9,148.6) rotate(157.5)"/>
<ellipse cx="0" cy="-20.10" rx="1.96" ry="2.85" fill="#C9702A" transform="translate(1503.9,148.6) rotate(202.5)"/>
<ellipse cx="0" cy="-20.10" rx="1.96" ry="2.85" fill="#C9702A" transform="translate(1503.9,148.6) rotate(247.5)"/>
<ellipse cx="0" cy="-20.10" rx="1.96" ry="2.85" fill="#C9702A" transform="translate(1503.9,148.6) rotate(292.5)"/>
<ellipse cx="0" cy="-20.10" rx="1.96" ry="2.85" fill="#C9702A" transform="translate(1503.9,148.6) rotate(337.5)"/>
<circle cx="1503.9" cy="148.6" r="19.5" fill="#F39A3C" stroke="#E08A32" stroke-width="0.8"/>
<g transform="translate(1458.0,163.9) rotate(0) translate(0,-10.70)"><path d="M-0.63,0.6 L-0.63,-1.45 L-2.26,-2.28 Q-2.37,-4.22 0,-4.14 Q2.37,-4.22 2.26,-2.28 L0.63,-1.45 L0.63,0.6 Z" fill="#F39A3C" stroke="#E08A32" stroke-width="0.7" stroke-linejoin="round"/></g>
<g transform="translate(1458.0,163.9) rotate(45) translate(0,-10.70)"><path d="M-0.63,0.6 L-0.63,-1.45 L-2.26,-2.28 Q-2.37,-4.22 0,-4.14 Q2.37,-4.22 2.26,-2.28 L0.63,-1.45 L0.63,0.6 Z" fill="#F39A3C" stroke="#E08A32" stroke-width="0.7" stroke-linejoin="round"/></g>
<g transform="translate(1458.0,163.9) rotate(90) translate(0,-10.70)"><path d="M-0.63,0.6 L-0.63,-1.45 L-2.26,-2.28 Q-2.37,-4.22 0,-4.14 Q2.37,-4.22 2.26,-2.28 L0.63,-1.45 L0.63,0.6 Z" fill="#F39A3C" stroke="#E08A32" stroke-width="0.7" stroke-linejoin="round"/></g>
<g transform="translate(1458.0,163.9) rotate(135) translate(0,-10.70)"><path d="M-0.63,0.6 L-0.63,-1.45 L-2.26,-2.28 Q-2.37,-4.22 0,-4.14 Q2.37,-4.22 2.26,-2.28 L0.63,-1.45 L0.63,0.6 Z" fill="#F39A3C" stroke="#E08A32" stroke-width="0.7" stroke-linejoin="round"/></g>
<g transform="translate(1458.0,163.9) rotate(180) translate(0,-10.70)"><path d="M-0.63,0.6 L-0.63,-1.45 L-2.26,-2.28 Q-2.37,-4.22 0,-4.14 Q2.37,-4.22 2.26,-2.28 L0.63,-1.45 L0.63,0.6 Z" fill="#F39A3C" stroke="#E08A32" stroke-width="0.7" stroke-linejoin="round"/></g>
<g transform="translate(1458.0,163.9) rotate(225) translate(0,-10.70)"><path d="M-0.63,0.6 L-0.63,-1.45 L-2.26,-2.28 Q-2.37,-4.22 0,-4.14 Q2.37,-4.22 2.26,-2.28 L0.63,-1.45 L0.63,0.6 Z" fill="#F39A3C" stroke="#E08A32" stroke-width="0.7" stroke-linejoin="round"/></g>
<g transform="translate(1458.0,163.9) rotate(270) translate(0,-10.70)"><path d="M-0.63,0.6 L-0.63,-1.45 L-2.26,-2.28 Q-2.37,-4.22 0,-4.14 Q2.37,-4.22 2.26,-2.28 L0.63,-1.45 L0.63,0.6 Z" fill="#F39A3C" stroke="#E08A32" stroke-width="0.7" stroke-linejoin="round"/></g>
<g transform="translate(1458.0,163.9) rotate(315) translate(0,-10.70)"><path d="M-0.63,0.6 L-0.63,-1.45 L-2.26,-2.28 Q-2.37,-4.22 0,-4.14 Q2.37,-4.22 2.26,-2.28 L0.63,-1.45 L0.63,0.6 Z" fill="#F39A3C" stroke="#E08A32" stroke-width="0.7" stroke-linejoin="round"/></g>
<ellipse cx="0" cy="-11.60" rx="1.32" ry="2.00" fill="#C9702A" transform="translate(1458.0,163.9) rotate(22.5)"/>
<ellipse cx="0" cy="-11.60" rx="1.32" ry="2.00" fill="#C9702A" transform="translate(1458.0,163.9) rotate(67.5)"/>
<ellipse cx="0" cy="-11.60" rx="1.32" ry="2.00" fill="#C9702A" transform="translate(1458.0,163.9) rotate(112.5)"/>
<ellipse cx="0" cy="-11.60" rx="1.32" ry="2.00" fill="#C9702A" transform="translate(1458.0,163.9) rotate(157.5)"/>
<ellipse cx="0" cy="-11.60" rx="1.32" ry="2.00" fill="#C9702A" transform="translate(1458.0,163.9) rotate(202.5)"/>
<ellipse cx="0" cy="-11.60" rx="1.32" ry="2.00" fill="#C9702A" transform="translate(1458.0,163.9) rotate(247.5)"/>
<ellipse cx="0" cy="-11.60" rx="1.32" ry="2.00" fill="#C9702A" transform="translate(1458.0,163.9) rotate(292.5)"/>
<ellipse cx="0" cy="-11.60" rx="1.32" ry="2.00" fill="#C9702A" transform="translate(1458.0,163.9) rotate(337.5)"/>
<circle cx="1458.0" cy="163.9" r="11.0" fill="#F39A3C" stroke="#E08A32" stroke-width="0.8"/>
<g transform="translate(1481.3,199.3) rotate(0) translate(0,-14.00)"><path d="M-0.78,0.6 L-0.78,-1.84 L-2.79,-2.89 Q-2.93,-5.37 0,-5.26 Q2.93,-5.37 2.79,-2.89 L0.78,-1.84 L0.78,0.6 Z" fill="#F39A3C" stroke="#E08A32" stroke-width="0.7" stroke-linejoin="round"/></g>
<g transform="translate(1481.3,199.3) rotate(45) translate(0,-14.00)"><path d="M-0.78,0.6 L-0.78,-1.84 L-2.79,-2.89 Q-2.93,-5.37 0,-5.26 Q2.93,-5.37 2.79,-2.89 L0.78,-1.84 L0.78,0.6 Z" fill="#F39A3C" stroke="#E08A32" stroke-width="0.7" stroke-linejoin="round"/></g>
<g transform="translate(1481.3,199.3) rotate(90) translate(0,-14.00)"><path d="M-0.78,0.6 L-0.78,-1.84 L-2.79,-2.89 Q-2.93,-5.37 0,-5.26 Q2.93,-5.37 2.79,-2.89 L0.78,-1.84 L0.78,0.6 Z" fill="#F39A3C" stroke="#E08A32" stroke-width="0.7" stroke-linejoin="round"/></g>
<g transform="translate(1481.3,199.3) rotate(135) translate(0,-14.00)"><path d="M-0.78,0.6 L-0.78,-1.84 L-2.79,-2.89 Q-2.93,-5.37 0,-5.26 Q2.93,-5.37 2.79,-2.89 L0.78,-1.84 L0.78,0.6 Z" fill="#F39A3C" stroke="#E08A32" stroke-width="0.7" stroke-linejoin="round"/></g>
<g transform="translate(1481.3,199.3) rotate(180) translate(0,-14.00)"><path d="M-0.78,0.6 L-0.78,-1.84 L-2.79,-2.89 Q-2.93,-5.37 0,-5.26 Q2.93,-5.37 2.79,-2.89 L0.78,-1.84 L0.78,0.6 Z" fill="#F39A3C" stroke="#E08A32" stroke-width="0.7" stroke-linejoin="round"/></g>
<g transform="translate(1481.3,199.3) rotate(225) translate(0,-14.00)"><path d="M-0.78,0.6 L-0.78,-1.84 L-2.79,-2.89 Q-2.93,-5.37 0,-5.26 Q2.93,-5.37 2.79,-2.89 L0.78,-1.84 L0.78,0.6 Z" fill="#F39A3C" stroke="#E08A32" stroke-width="0.7" stroke-linejoin="round"/></g>
<g transform="translate(1481.3,199.3) rotate(270) translate(0,-14.00)"><path d="M-0.78,0.6 L-0.78,-1.84 L-2.79,-2.89 Q-2.93,-5.37 0,-5.26 Q2.93,-5.37 2.79,-2.89 L0.78,-1.84 L0.78,0.6 Z" fill="#F39A3C" stroke="#E08A32" stroke-width="0.7" stroke-linejoin="round"/></g>
<g transform="translate(1481.3,199.3) rotate(315) translate(0,-14.00)"><path d="M-0.78,0.6 L-0.78,-1.84 L-2.79,-2.89 Q-2.93,-5.37 0,-5.26 Q2.93,-5.37 2.79,-2.89 L0.78,-1.84 L0.78,0.6 Z" fill="#F39A3C" stroke="#E08A32" stroke-width="0.7" stroke-linejoin="round"/></g>
<ellipse cx="0" cy="-14.90" rx="1.57" ry="2.33" fill="#C9702A" transform="translate(1481.3,199.3) rotate(22.5)"/>
<ellipse cx="0" cy="-14.90" rx="1.57" ry="2.33" fill="#C9702A" transform="translate(1481.3,199.3) rotate(67.5)"/>
<ellipse cx="0" cy="-14.90" rx="1.57" ry="2.33" fill="#C9702A" transform="translate(1481.3,199.3) rotate(112.5)"/>
<ellipse cx="0" cy="-14.90" rx="1.57" ry="2.33" fill="#C9702A" transform="translate(1481.3,199.3) rotate(157.5)"/>
<ellipse cx="0" cy="-14.90" rx="1.57" ry="2.33" fill="#C9702A" transform="translate(1481.3,199.3) rotate(202.5)"/>
<ellipse cx="0" cy="-14.90" rx="1.57" ry="2.33" fill="#C9702A" transform="translate(1481.3,199.3) rotate(247.5)"/>
<ellipse cx="0" cy="-14.90" rx="1.57" ry="2.33" fill="#C9702A" transform="translate(1481.3,199.3) rotate(292.5)"/>
<ellipse cx="0" cy="-14.90" rx="1.57" ry="2.33" fill="#C9702A" transform="translate(1481.3,199.3) rotate(337.5)"/>
<circle cx="1481.3" cy="199.3" r="14.3" fill="#F39A3C" stroke="#E08A32" stroke-width="0.8"/>
<defs><linearGradient id="arrg" x1="1505" y1="0" x2="1530" y2="0" gradientUnits="userSpaceOnUse"><stop offset="0" stop-color="#0a0a0a" stop-opacity="0.15"/><stop offset="1" stop-color="#0a0a0a"/></linearGradient></defs>
<path d="M1505.5,183 Q1528,196.5 1553,187.8 L1554.5,191.8 Q1527,201.5 1505.5,183.6 Z" fill="url(#arrg)"/>
<path d="M1562.6,183 L1549.6,185.2 Q1553.6,189 1554.8,194.2 Z" fill="#0a0a0a"/>
<rect x="1664.5" y="82.5" width="68" height="68" rx="5" fill="#fff" stroke="#1a1a1a" stroke-width="1.6"/>
<path d="M1665.3,100.5 V87.5 Q1665.3,83.3 1669.5,83.3 H1727.5 Q1731.7,83.3 1731.7,87.5 V100.5 Z" fill="#D9232E"/>
<text x="1675.8" y="98.5" font-size="17.2" font-weight="bold" fill="#fff" textLength="45.6" lengthAdjust="spacingAndGlyphs">2020</text>
<circle cx="1673.20" cy="107.10" r="2.65" fill="#C8C8CC"/>
<circle cx="1681.98" cy="107.10" r="2.65" fill="#C8C8CC"/>
<circle cx="1690.76" cy="107.10" r="2.65" fill="#0d0d0d"/>
<circle cx="1699.54" cy="107.10" r="2.65" fill="#0d0d0d"/>
<circle cx="1708.32" cy="107.10" r="2.65" fill="#0d0d0d"/>
<circle cx="1717.10" cy="107.10" r="2.65" fill="#0d0d0d"/>
<circle cx="1725.88" cy="107.10" r="2.65" fill="#0d0d0d"/>
<circle cx="1673.20" cy="116.27" r="2.65" fill="#0d0d0d"/>
<circle cx="1681.98" cy="116.27" r="2.65" fill="#0d0d0d"/>
<circle cx="1690.76" cy="116.27" r="2.65" fill="#0d0d0d"/>
<circle cx="1699.54" cy="116.27" r="2.65" fill="#EE9A3A"/>
<circle cx="1708.32" cy="116.27" r="2.65" fill="#EE9A3A"/>
<circle cx="1717.10" cy="116.27" r="2.65" fill="#EE9A3A"/>
<circle cx="1725.88" cy="116.27" r="2.65" fill="#EE9A3A"/>
<circle cx="1673.20" cy="125.44" r="2.65" fill="#EE9A3A"/>
<circle cx="1681.98" cy="125.44" r="2.65" fill="#EE9A3A"/>
<circle cx="1690.76" cy="125.44" r="2.65" fill="#0d0d0d"/>
<circle cx="1699.54" cy="125.44" r="2.65" fill="#0d0d0d"/>
<circle cx="1708.32" cy="125.44" r="2.65" fill="#0d0d0d"/>
<circle cx="1717.10" cy="125.44" r="2.65" fill="#0d0d0d"/>
<circle cx="1725.88" cy="125.44" r="2.65" fill="#0d0d0d"/>
<circle cx="1673.20" cy="134.61" r="2.65" fill="#0d0d0d"/>
<circle cx="1681.98" cy="134.61" r="2.65" fill="#0d0d0d"/>
<circle cx="1690.76" cy="134.61" r="2.65" fill="#0d0d0d"/>
<circle cx="1699.54" cy="134.61" r="2.65" fill="#0d0d0d"/>
<circle cx="1708.32" cy="134.61" r="2.65" fill="#0d0d0d"/>
<circle cx="1717.10" cy="134.61" r="2.65" fill="#0d0d0d"/>
<circle cx="1725.88" cy="134.61" r="2.65" fill="#0d0d0d"/>
<circle cx="1673.20" cy="143.78" r="2.65" fill="#0d0d0d"/>
<circle cx="1681.98" cy="143.78" r="2.65" fill="#0d0d0d"/>
<circle cx="1690.76" cy="143.78" r="2.65" fill="#0d0d0d"/>
<circle cx="1699.54" cy="143.78" r="2.65" fill="#0d0d0d"/>
<circle cx="1708.32" cy="143.78" r="2.65" fill="#0d0d0d"/>
<circle cx="1717.10" cy="143.78" r="2.65" fill="#0d0d0d"/>
<circle cx="1725.88" cy="143.78" r="2.65" fill="#0d0d0d"/>
<rect x="1692" y="129.5" width="68" height="68" rx="5" fill="#fff" stroke="#1a1a1a" stroke-width="1.6"/>
<path d="M1692.8,147.5 V134.5 Q1692.8,130.3 1697,130.3 H1755 Q1759.2,130.3 1759.2,134.5 V147.5 Z" fill="#D9232E"/>
<text x="1703.3" y="145.5" font-size="17.2" font-weight="bold" fill="#fff" textLength="45.6" lengthAdjust="spacingAndGlyphs">2021</text>
<circle cx="1700.70" cy="154.10" r="2.65" fill="#C8C8CC"/>
<circle cx="1709.48" cy="154.10" r="2.65" fill="#EE9A3A"/>
<circle cx="1718.26" cy="154.10" r="2.65" fill="#EE9A3A"/>
<circle cx="1727.04" cy="154.10" r="2.65" fill="#EE9A3A"/>
<circle cx="1735.82" cy="154.10" r="2.65" fill="#EE9A3A"/>
<circle cx="1744.60" cy="154.10" r="2.65" fill="#EE9A3A"/>
<circle cx="1753.38" cy="154.10" r="2.65" fill="#0d0d0d"/>
<circle cx="1700.70" cy="163.27" r="2.65" fill="#0d0d0d"/>
<circle cx="1709.48" cy="163.27" r="2.65" fill="#0d0d0d"/>
<circle cx="1718.26" cy="163.27" r="2.65" fill="#0d0d0d"/>
<circle cx="1727.04" cy="163.27" r="2.65" fill="#0d0d0d"/>
<circle cx="1735.82" cy="163.27" r="2.65" fill="#0d0d0d"/>
<circle cx="1744.60" cy="163.27" r="2.65" fill="#0d0d0d"/>
<circle cx="1753.38" cy="163.27" r="2.65" fill="#0d0d0d"/>
<circle cx="1700.70" cy="172.44" r="2.65" fill="#0d0d0d"/>
<circle cx="1709.48" cy="172.44" r="2.65" fill="#0d0d0d"/>
<circle cx="1718.26" cy="172.44" r="2.65" fill="#0d0d0d"/>
<circle cx="1727.04" cy="172.44" r="2.65" fill="#0d0d0d"/>
<circle cx="1735.82" cy="172.44" r="2.65" fill="#0d0d0d"/>
<circle cx="1744.60" cy="172.44" r="2.65" fill="#0d0d0d"/>
<circle cx="1753.38" cy="172.44" r="2.65" fill="#0d0d0d"/>
<circle cx="1700.70" cy="181.61" r="2.65" fill="#0d0d0d"/>
<circle cx="1709.48" cy="181.61" r="2.65" fill="#0d0d0d"/>
<circle cx="1718.26" cy="181.61" r="2.65" fill="#0d0d0d"/>
<circle cx="1727.04" cy="181.61" r="2.65" fill="#0d0d0d"/>
<circle cx="1735.82" cy="181.61" r="2.65" fill="#0d0d0d"/>
<circle cx="1744.60" cy="181.61" r="2.65" fill="#0d0d0d"/>
<circle cx="1753.38" cy="181.61" r="2.65" fill="#0d0d0d"/>
<circle cx="1700.70" cy="190.78" r="2.65" fill="#0d0d0d"/>
<circle cx="1709.48" cy="190.78" r="2.65" fill="#0d0d0d"/>
<circle cx="1718.26" cy="190.78" r="2.65" fill="#0d0d0d"/>
<circle cx="1727.04" cy="190.78" r="2.65" fill="#0d0d0d"/>
<circle cx="1735.82" cy="190.78" r="2.65" fill="#0d0d0d"/>
<circle cx="1744.60" cy="190.78" r="2.65" fill="#0d0d0d"/>
<circle cx="1753.38" cy="190.78" r="2.65" fill="#0d0d0d"/>
<rect x="1716.5" y="183.5" width="68" height="68" rx="5" fill="#fff" stroke="#1a1a1a" stroke-width="1.6"/>
<path d="M1717.3,201.5 V188.5 Q1717.3,184.3 1721.5,184.3 H1779.5 Q1783.7,184.3 1783.7,188.5 V201.5 Z" fill="#D9232E"/>
<text x="1727.8" y="199.5" font-size="17.2" font-weight="bold" fill="#fff" textLength="45.6" lengthAdjust="spacingAndGlyphs">2023</text>
<circle cx="1725.20" cy="208.10" r="2.65" fill="#C8C8CC"/>
<circle cx="1733.98" cy="208.10" r="2.65" fill="#C8C8CC"/>
<circle cx="1742.76" cy="208.10" r="2.65" fill="#C8C8CC"/>
<circle cx="1751.54" cy="208.10" r="2.65" fill="#C8C8CC"/>
<circle cx="1760.32" cy="208.10" r="2.65" fill="#C8C8CC"/>
<circle cx="1769.10" cy="208.10" r="2.65" fill="#0d0d0d"/>
<circle cx="1777.88" cy="208.10" r="2.65" fill="#0d0d0d"/>
<circle cx="1725.20" cy="217.27" r="2.65" fill="#0d0d0d"/>
<circle cx="1733.98" cy="217.27" r="2.65" fill="#0d0d0d"/>
<circle cx="1742.76" cy="217.27" r="2.65" fill="#0d0d0d"/>
<circle cx="1751.54" cy="217.27" r="2.65" fill="#0d0d0d"/>
<circle cx="1760.32" cy="217.27" r="2.65" fill="#0d0d0d"/>
<circle cx="1769.10" cy="217.27" r="2.65" fill="#0d0d0d"/>
<circle cx="1777.88" cy="217.27" r="2.65" fill="#0d0d0d"/>
<circle cx="1725.20" cy="226.44" r="2.65" fill="#0d0d0d"/>
<circle cx="1733.98" cy="226.44" r="2.65" fill="#EE9A3A"/>
<circle cx="1742.76" cy="226.44" r="2.65" fill="#EE9A3A"/>
<circle cx="1751.54" cy="226.44" r="2.65" fill="#EE9A3A"/>
<circle cx="1760.32" cy="226.44" r="2.65" fill="#EE9A3A"/>
<circle cx="1769.10" cy="226.44" r="2.65" fill="#EE9A3A"/>
<circle cx="1777.88" cy="226.44" r="2.65" fill="#EE9A3A"/>
<circle cx="1725.20" cy="235.61" r="2.65" fill="#EE9A3A"/>
<circle cx="1733.98" cy="235.61" r="2.65" fill="#EE9A3A"/>
<circle cx="1742.76" cy="235.61" r="2.65" fill="#EE9A3A"/>
<circle cx="1751.54" cy="235.61" r="2.65" fill="#EE9A3A"/>
<circle cx="1760.32" cy="235.61" r="2.65" fill="#0d0d0d"/>
<circle cx="1769.10" cy="235.61" r="2.65" fill="#0d0d0d"/>
<circle cx="1777.88" cy="235.61" r="2.65" fill="#0d0d0d"/>
<circle cx="1725.20" cy="244.78" r="2.65" fill="#0d0d0d"/>
<circle cx="1733.98" cy="244.78" r="2.65" fill="#0d0d0d"/>
<circle cx="1742.76" cy="244.78" r="2.65" fill="#0d0d0d"/>
<circle cx="1751.54" cy="244.78" r="2.65" fill="#0d0d0d"/>
<circle cx="1760.32" cy="244.78" r="2.65" fill="#0d0d0d"/>
<circle cx="1769.10" cy="244.78" r="2.65" fill="#C8C8CC"/>
<circle cx="1777.88" cy="244.78" r="2.65" fill="#C8C8CC"/>
</g>
<g id="people">
<path d="M259.0,471.9 C262.0,471.7 265.4,471.8 268.1,473.2 C270.7,474.5 273.4,477.5 275.0,480.0 C276.7,482.5 277.6,485.0 277.8,488.0 C278.0,491.0 277.2,495.2 276.3,498.0 C275.5,500.9 274.0,502.9 272.8,505.0 C271.5,507.2 269.5,509.6 268.7,511.0 C267.9,512.4 267.0,512.5 268.1,513.5 C269.1,514.5 272.3,516.0 275.0,517.0 C277.8,518.1 281.5,519.0 284.5,520.0 C287.5,521.0 293.1,523.1 293.1,523.1 C293.1,523.1 294.8,528.9 296.2,533.0 C297.5,537.0 299.5,543.0 301.0,547.6 C302.6,552.2 305.0,557.3 305.6,560.6 C306.2,563.8 305.8,565.2 304.6,567.1 C303.4,569.0 300.7,570.4 298.1,571.9 C295.5,573.5 290.8,574.6 289.0,576.5 C287.2,578.4 287.3,580.7 287.4,583.3 C287.5,585.9 289.7,592.2 289.7,592.2 C289.7,592.2 289.6,597.0 289.7,601.2 C289.7,605.4 290.1,610.6 289.8,617.4 C289.5,624.2 288.9,633.7 288.0,641.8 C287.2,649.9 285.8,658.0 284.8,666.1 C283.8,674.3 283.1,682.4 282.0,690.5 C280.9,698.6 279.3,708.4 278.3,714.9 C277.2,721.4 276.7,726.0 275.7,729.5 C274.7,732.9 273.1,733.8 272.4,735.7 C271.8,737.5 273.0,739.4 271.8,740.5 C270.6,741.6 267.1,742.3 265.3,742.2 C263.5,742.0 261.8,741.4 260.7,739.6 C259.7,737.7 259.6,732.8 259.1,731.1 C258.7,729.4 258.5,729.2 258.1,729.5 C257.8,729.8 257.7,731.6 256.8,733.1 C256.0,734.5 255.1,736.7 253.3,737.9 C251.4,739.1 248.1,740.1 245.8,740.2 C243.5,740.3 240.4,739.6 239.3,738.7 C238.2,737.9 237.7,736.5 239.0,735.0 C240.2,733.5 245.1,732.1 246.8,729.8 C248.5,727.5 249.1,726.6 249.0,721.4 C249.0,716.2 247.4,706.5 246.5,698.6 C245.5,690.8 244.4,683.7 243.2,674.3 C242.0,664.8 240.3,651.3 239.0,641.8 C237.7,632.3 236.3,624.2 235.6,617.4 C234.9,610.6 234.9,605.2 234.8,601.2 C234.6,597.1 234.4,593.1 234.4,593.1 C234.4,593.1 236.6,586.0 236.7,583.3 C236.8,580.6 236.5,578.7 235.1,576.8 C233.6,575.0 230.1,573.8 227.9,572.3 C225.8,570.7 223.3,569.3 222.1,567.4 C220.9,565.4 220.5,563.9 220.8,560.6 C221.1,557.3 222.8,552.2 224.0,547.6 C225.3,543.0 227.0,536.9 228.3,533.0 C229.5,529.0 231.5,524.0 231.5,524.0 C231.5,524.0 237.7,521.3 240.6,520.1 C243.5,519.0 246.7,518.2 248.7,517.2 C250.8,516.2 252.2,514.9 252.9,514.1 C253.7,513.3 254.1,513.4 253.4,512.5 C252.8,511.6 250.6,510.7 249.0,508.9 C247.5,507.2 245.2,505.1 244.0,501.9 C242.8,498.8 241.9,493.4 241.9,489.9 C241.9,486.4 242.7,483.6 244.0,481.0 C245.4,478.4 247.5,475.8 250.0,474.3 C252.5,472.8 256.0,472.1 259.0,471.9 Z" fill="#6E6D73"/>
<path d="M361.4,464.9 C364.8,464.7 367.5,465.3 369.7,466.4 C372.0,467.4 373.9,469.3 375.1,471.2 C376.2,473.1 376.5,475.3 376.7,477.7 C376.9,480.2 376.0,483.7 376.1,485.9 C376.2,488.0 377.4,488.7 377.4,490.4 C377.4,492.1 376.8,494.1 376.1,495.9 C375.4,497.7 373.8,499.9 373.1,501.3 C372.5,502.6 371.6,503.2 372.2,504.0 C372.7,504.9 373.7,505.5 376.4,506.6 C379.1,507.8 384.6,509.7 388.4,511.2 C392.2,512.7 399.1,515.7 399.1,515.7 C399.1,515.7 401.2,522.0 402.4,528.1 C403.6,534.2 405.1,543.5 406.3,552.5 C407.5,561.4 408.8,573.4 409.5,581.7 C410.3,589.9 411.6,598.3 410.8,602.0 C410.1,605.7 406.6,602.2 405.0,604.1 C403.3,606.0 402.3,610.8 401.1,613.4 C399.8,615.9 398.6,618.7 397.5,619.4 C396.4,620.0 395.0,615.0 394.3,617.4 C393.5,619.8 393.7,625.5 393.3,633.7 C392.8,641.8 392.2,655.3 391.7,666.1 C391.1,677.0 390.1,689.2 389.7,698.6 C389.3,708.1 388.6,717.0 389.1,723.0 C389.5,729.0 392.0,731.3 392.6,734.7 C393.2,738.0 393.9,741.2 392.6,743.1 C391.4,745.0 387.6,746.0 385.2,746.1 C382.7,746.1 379.8,744.9 377.7,743.5 C375.5,742.0 373.4,739.9 372.2,737.6 C371.0,735.3 371.2,736.0 370.5,729.5 C369.9,723.0 369.2,709.2 368.3,698.6 C367.3,688.1 365.9,676.2 365.0,666.1 C364.2,656.1 363.8,638.5 363.2,638.5 C362.7,638.5 362.1,656.1 361.6,666.1 C361.1,676.2 360.5,688.1 360.0,698.6 C359.5,709.2 358.8,723.3 358.5,729.5 C358.3,735.7 359.5,734.0 358.5,736.0 C357.5,738.0 355.3,740.4 352.7,741.7 C350.1,742.9 345.4,743.7 342.9,743.6 C340.5,743.5 338.9,742.3 338.1,740.9 C337.2,739.4 337.4,736.6 338.1,734.7 C338.8,732.8 341.7,735.5 342.3,729.5 C342.8,723.5 342.0,709.2 341.3,698.6 C340.6,688.1 339.0,677.0 338.1,666.1 C337.1,655.3 336.3,640.9 335.8,633.7 C335.2,626.4 335.8,624.7 334.8,622.6 C333.8,620.5 331.6,622.1 329.9,621.0 C328.3,619.9 326.4,618.2 325.1,615.8 C323.7,613.4 323.1,608.8 321.8,606.4 C320.5,604.0 318.1,606.2 317.3,601.5 C316.5,596.8 316.6,586.6 316.9,578.4 C317.3,570.3 318.7,560.8 319.4,552.5 C320.1,544.1 320.5,533.9 321.0,528.1 C321.5,522.3 322.5,517.5 322.5,517.5 C322.5,517.5 330.9,513.2 334.8,511.0 C338.8,508.9 343.7,506.2 346.2,504.7 C348.6,503.2 349.3,503.6 349.4,502.1 C349.6,500.6 347.8,497.6 347.1,495.6 C346.5,493.6 346.1,491.7 345.5,490.1 C344.9,488.5 343.7,487.4 343.6,486.2 C343.5,485.0 344.7,484.9 345.0,482.9 C345.4,481.0 344.7,477.0 345.5,474.5 C346.3,471.9 347.1,469.3 349.7,467.7 C352.4,466.1 358.1,465.1 361.4,464.9 Z" fill="#6E6D73"/>
<path d="M236.1,560.6 L239.0,565.4 L236.7,567.1 Z" fill="#FEFEFA"/>
<path d="M289.0,557.0 L289.7,562.5 L286.1,561.4 Z" fill="#FEFEFA"/>
<path d="M261.4,636.9 C261.2,641.2 260.3,654.5 260.4,662.9 C260.5,671.3 261.8,683.2 262.0,687.3" fill="none" stroke="#FEFEFA" stroke-width="1.6"/>
<path d="M333.5,567.1 C333.3,568.4 332.3,572.5 332.2,575.2 C332.1,577.9 332.7,582.0 332.9,583.3" fill="none" stroke="#FEFEFA" stroke-width="1.3"/>
<path d="M393.0,576.8 C393.3,578.2 394.6,582.5 394.9,584.9 C395.2,587.4 394.9,590.3 394.9,591.4" fill="none" stroke="#FEFEFA" stroke-width="1.3"/>
<path d="M328.3,610.9 C328.7,611.7 330.2,614.6 330.9,615.8 C331.6,617.0 332.1,617.8 332.4,618.2" fill="none" stroke="#FEFEFA" stroke-width="1.0"/>
<path d="M395.7,611.7 C395.9,612.3 396.4,614.0 396.8,615.0 C397.3,615.9 398.2,617.0 398.5,617.4" fill="none" stroke="#FEFEFA" stroke-width="1.0"/>
</g>
<g id="lungs">
<defs><filter id="lglow" x="-40%" y="-40%" width="180%" height="180%"><feGaussianBlur stdDeviation="20"/></filter><filter id="lglow2" x="-40%" y="-40%" width="180%" height="180%"><feGaussianBlur stdDeviation="7"/></filter><clipPath id="clipL"><path d="M706.9,540.6 C709.9,540.8 715.3,541.7 718.3,542.9 C721.3,544.1 725.1,547.8 725.1,547.8 C725.1,547.8 726.6,556.2 727.4,560.4 C728.2,564.7 728.8,569.1 729.7,573.4 C730.6,577.8 732.2,582.6 732.9,586.4 C733.7,590.2 733.8,591.8 734.1,596.2 C734.3,600.5 734.5,607.0 734.4,612.4 C734.3,617.8 733.8,623.2 733.3,628.7 C732.7,634.1 732.1,639.8 731.3,644.9 C730.5,650.0 729.5,655.7 728.4,659.5 C727.3,663.4 724.8,668.0 724.8,668.0 C724.8,668.0 718.3,672.8 713.4,676.1 C708.6,679.3 701.5,683.7 695.6,687.5 C689.6,691.2 683.1,695.3 677.7,698.8 C672.3,702.3 666.7,706.6 663.1,708.6 C659.5,710.5 658.4,711.8 656.3,710.5 C654.2,709.2 651.9,706.5 650.4,700.9 C648.9,695.4 647.9,685.4 647.3,677.4 C646.7,669.4 646.7,661.1 646.8,653.0 C647.0,644.9 647.5,636.0 648.5,628.7 C649.4,621.3 650.9,615.7 652.5,609.2 C654.2,602.7 655.9,595.6 658.2,589.7 C660.5,583.7 663.1,578.6 666.3,573.4 C669.6,568.3 673.6,563.2 677.7,558.8 C681.8,554.5 686.9,550.3 690.7,547.5 C694.5,544.6 697.7,542.9 700.4,541.8 C703.2,540.6 704.0,540.4 706.9,540.6 Z"/></clipPath><clipPath id="clipR"><path d="M765.4,540.6 C768.7,540.4 773.8,541.3 778.4,543.2 C783.0,545.2 788.1,548.4 793.0,552.3 C797.9,556.3 803.0,561.3 807.6,566.9 C812.2,572.6 816.8,579.4 820.6,586.4 C824.4,593.5 827.8,602.1 830.4,609.2 C832.9,616.2 834.7,621.3 836.1,628.7 C837.5,636.0 838.4,644.9 838.8,653.0 C839.3,661.1 839.1,670.1 838.8,677.4 C838.6,684.7 838.1,692.2 837.2,696.9 C836.3,701.5 835.8,703.9 833.6,705.3 C831.4,706.7 827.9,706.4 823.9,705.3 C819.8,704.2 814.4,701.5 809.3,698.8 C804.1,696.1 798.4,692.9 793.0,689.1 C787.6,685.3 781.9,680.7 776.8,676.1 C771.6,671.5 766.0,666.1 762.2,661.5 C758.4,656.9 755.9,653.9 754.0,648.5 C752.1,643.0 751.5,634.7 750.8,628.7 C750.1,622.6 750.5,617.3 750.0,612.4 C749.5,607.5 748.7,603.5 747.9,599.4 C747.1,595.4 745.9,592.1 745.3,588.1 C744.7,584.0 744.1,579.1 744.3,575.1 C744.5,571.0 745.4,567.5 746.7,563.7 C748.1,559.9 750.4,555.5 752.4,552.3 C754.4,549.1 756.7,546.5 758.9,544.5 C761.1,542.6 762.2,540.8 765.4,540.6 Z"/></clipPath></defs>
<defs><radialGradient id="lrad" cx="0.5" cy="0.5" r="0.5"><stop offset="0" stop-color="#F29090" stop-opacity="0.42"/><stop offset="0.55" stop-color="#F29090" stop-opacity="0.26"/><stop offset="1" stop-color="#F29090" stop-opacity="0"/></radialGradient></defs>
<ellipse cx="742" cy="618" rx="128" ry="142" fill="url(#lrad)"/>
<g filter="url(#lglow)" opacity="0.62"><path d="M706.9,540.6 C709.9,540.8 715.3,541.7 718.3,542.9 C721.3,544.1 725.1,547.8 725.1,547.8 C725.1,547.8 726.6,556.2 727.4,560.4 C728.2,564.7 728.8,569.1 729.7,573.4 C730.6,577.8 732.2,582.6 732.9,586.4 C733.7,590.2 733.8,591.8 734.1,596.2 C734.3,600.5 734.5,607.0 734.4,612.4 C734.3,617.8 733.8,623.2 733.3,628.7 C732.7,634.1 732.1,639.8 731.3,644.9 C730.5,650.0 729.5,655.7 728.4,659.5 C727.3,663.4 724.8,668.0 724.8,668.0 C724.8,668.0 718.3,672.8 713.4,676.1 C708.6,679.3 701.5,683.7 695.6,687.5 C689.6,691.2 683.1,695.3 677.7,698.8 C672.3,702.3 666.7,706.6 663.1,708.6 C659.5,710.5 658.4,711.8 656.3,710.5 C654.2,709.2 651.9,706.5 650.4,700.9 C648.9,695.4 647.9,685.4 647.3,677.4 C646.7,669.4 646.7,661.1 646.8,653.0 C647.0,644.9 647.5,636.0 648.5,628.7 C649.4,621.3 650.9,615.7 652.5,609.2 C654.2,602.7 655.9,595.6 658.2,589.7 C660.5,583.7 663.1,578.6 666.3,573.4 C669.6,568.3 673.6,563.2 677.7,558.8 C681.8,554.5 686.9,550.3 690.7,547.5 C694.5,544.6 697.7,542.9 700.4,541.8 C703.2,540.6 704.0,540.4 706.9,540.6 Z" fill="#F28888" stroke="#F28888" stroke-width="30"/><path d="M765.4,540.6 C768.7,540.4 773.8,541.3 778.4,543.2 C783.0,545.2 788.1,548.4 793.0,552.3 C797.9,556.3 803.0,561.3 807.6,566.9 C812.2,572.6 816.8,579.4 820.6,586.4 C824.4,593.5 827.8,602.1 830.4,609.2 C832.9,616.2 834.7,621.3 836.1,628.7 C837.5,636.0 838.4,644.9 838.8,653.0 C839.3,661.1 839.1,670.1 838.8,677.4 C838.6,684.7 838.1,692.2 837.2,696.9 C836.3,701.5 835.8,703.9 833.6,705.3 C831.4,706.7 827.9,706.4 823.9,705.3 C819.8,704.2 814.4,701.5 809.3,698.8 C804.1,696.1 798.4,692.9 793.0,689.1 C787.6,685.3 781.9,680.7 776.8,676.1 C771.6,671.5 766.0,666.1 762.2,661.5 C758.4,656.9 755.9,653.9 754.0,648.5 C752.1,643.0 751.5,634.7 750.8,628.7 C750.1,622.6 750.5,617.3 750.0,612.4 C749.5,607.5 748.7,603.5 747.9,599.4 C747.1,595.4 745.9,592.1 745.3,588.1 C744.7,584.0 744.1,579.1 744.3,575.1 C744.5,571.0 745.4,567.5 746.7,563.7 C748.1,559.9 750.4,555.5 752.4,552.3 C754.4,549.1 756.7,546.5 758.9,544.5 C761.1,542.6 762.2,540.8 765.4,540.6 Z" fill="#F28888" stroke="#F28888" stroke-width="30"/><rect x="728" y="540" width="30" height="130" fill="#F28C8C"/></g>
<g filter="url(#lglow2)" opacity="0.32"><path d="M706.9,540.6 C709.9,540.8 715.3,541.7 718.3,542.9 C721.3,544.1 725.1,547.8 725.1,547.8 C725.1,547.8 726.6,556.2 727.4,560.4 C728.2,564.7 728.8,569.1 729.7,573.4 C730.6,577.8 732.2,582.6 732.9,586.4 C733.7,590.2 733.8,591.8 734.1,596.2 C734.3,600.5 734.5,607.0 734.4,612.4 C734.3,617.8 733.8,623.2 733.3,628.7 C732.7,634.1 732.1,639.8 731.3,644.9 C730.5,650.0 729.5,655.7 728.4,659.5 C727.3,663.4 724.8,668.0 724.8,668.0 C724.8,668.0 718.3,672.8 713.4,676.1 C708.6,679.3 701.5,683.7 695.6,687.5 C689.6,691.2 683.1,695.3 677.7,698.8 C672.3,702.3 666.7,706.6 663.1,708.6 C659.5,710.5 658.4,711.8 656.3,710.5 C654.2,709.2 651.9,706.5 650.4,700.9 C648.9,695.4 647.9,685.4 647.3,677.4 C646.7,669.4 646.7,661.1 646.8,653.0 C647.0,644.9 647.5,636.0 648.5,628.7 C649.4,621.3 650.9,615.7 652.5,609.2 C654.2,602.7 655.9,595.6 658.2,589.7 C660.5,583.7 663.1,578.6 666.3,573.4 C669.6,568.3 673.6,563.2 677.7,558.8 C681.8,554.5 686.9,550.3 690.7,547.5 C694.5,544.6 697.7,542.9 700.4,541.8 C703.2,540.6 704.0,540.4 706.9,540.6 Z" fill="#F08A8A" stroke="#F08A8A" stroke-width="5"/><path d="M765.4,540.6 C768.7,540.4 773.8,541.3 778.4,543.2 C783.0,545.2 788.1,548.4 793.0,552.3 C797.9,556.3 803.0,561.3 807.6,566.9 C812.2,572.6 816.8,579.4 820.6,586.4 C824.4,593.5 827.8,602.1 830.4,609.2 C832.9,616.2 834.7,621.3 836.1,628.7 C837.5,636.0 838.4,644.9 838.8,653.0 C839.3,661.1 839.1,670.1 838.8,677.4 C838.6,684.7 838.1,692.2 837.2,696.9 C836.3,701.5 835.8,703.9 833.6,705.3 C831.4,706.7 827.9,706.4 823.9,705.3 C819.8,704.2 814.4,701.5 809.3,698.8 C804.1,696.1 798.4,692.9 793.0,689.1 C787.6,685.3 781.9,680.7 776.8,676.1 C771.6,671.5 766.0,666.1 762.2,661.5 C758.4,656.9 755.9,653.9 754.0,648.5 C752.1,643.0 751.5,634.7 750.8,628.7 C750.1,622.6 750.5,617.3 750.0,612.4 C749.5,607.5 748.7,603.5 747.9,599.4 C747.1,595.4 745.9,592.1 745.3,588.1 C744.7,584.0 744.1,579.1 744.3,575.1 C744.5,571.0 745.4,567.5 746.7,563.7 C748.1,559.9 750.4,555.5 752.4,552.3 C754.4,549.1 756.7,546.5 758.9,544.5 C761.1,542.6 762.2,540.8 765.4,540.6 Z" fill="#F08A8A" stroke="#F08A8A" stroke-width="5"/></g>
<path d="M729.0,464.9 L756.3,464.9 L755.7,474.4 L751.1,481.8 L750.1,489.0 L750.1,588.1 L746.2,593.9 L748.8,597.0 L747.2,598.6 L742.7,594.2 L738.1,598.6 L734.6,597.0 L739.7,591.3 L736.2,588.1 L736.2,489.0 L735.2,481.8 L730.0,474.4 Z" fill="#F1E6E0" stroke="#fff" stroke-width="1.2"/>
<path d="M737.0,483.3 C737.9,484.0 740.8,487.7 742.7,487.7 C744.6,487.7 747.4,484.0 748.4,483.3" fill="none" stroke="#D96E72" stroke-width="1.6"/>
<path d="M739.4,467.9 L745.9,467.9 L744.3,471.4 L742.7,469.5 L741.0,471.4 Z" fill="#D98084"/>
<path d="M737.0,492.6 L749.2,492.6 L747.9,497.1 L743.0,494.8 L738.1,497.1 Z" fill="#E29A9A"/>
<rect x="736.8" y="501.6" width="12.6" height="1.9" fill="#DE8E8E"/>
<rect x="736.8" y="507.0" width="12.6" height="1.9" fill="#DE8E8E"/>
<rect x="736.8" y="512.4" width="12.6" height="1.9" fill="#DE8E8E"/>
<rect x="736.8" y="517.7" width="12.6" height="1.9" fill="#DE8E8E"/>
<rect x="736.8" y="523.1" width="12.6" height="1.9" fill="#DE8E8E"/>
<rect x="736.8" y="528.4" width="12.6" height="1.9" fill="#DE8E8E"/>
<rect x="736.8" y="533.8" width="12.6" height="1.9" fill="#DE8E8E"/>
<rect x="736.8" y="539.2" width="12.6" height="1.9" fill="#DE8E8E"/>
<rect x="736.8" y="544.5" width="12.6" height="1.9" fill="#DE8E8E"/>
<rect x="736.8" y="549.9" width="12.6" height="1.9" fill="#DE8E8E"/>
<rect x="736.8" y="555.2" width="12.6" height="1.9" fill="#DE8E8E"/>
<rect x="736.8" y="560.6" width="12.6" height="1.9" fill="#DE8E8E"/>
<rect x="736.8" y="566.0" width="12.6" height="1.9" fill="#DE8E8E"/>
<rect x="736.8" y="571.3" width="12.6" height="1.9" fill="#DE8E8E"/>
<rect x="736.8" y="576.7" width="12.6" height="1.9" fill="#DE8E8E"/>
<rect x="736.8" y="582.0" width="12.6" height="1.9" fill="#DE8E8E"/>
<rect x="736.8" y="587.4" width="12.6" height="1.9" fill="#DE8E8E"/>
<path d="M706.9,540.6 C709.9,540.8 715.3,541.7 718.3,542.9 C721.3,544.1 725.1,547.8 725.1,547.8 C725.1,547.8 726.6,556.2 727.4,560.4 C728.2,564.7 728.8,569.1 729.7,573.4 C730.6,577.8 732.2,582.6 732.9,586.4 C733.7,590.2 733.8,591.8 734.1,596.2 C734.3,600.5 734.5,607.0 734.4,612.4 C734.3,617.8 733.8,623.2 733.3,628.7 C732.7,634.1 732.1,639.8 731.3,644.9 C730.5,650.0 729.5,655.7 728.4,659.5 C727.3,663.4 724.8,668.0 724.8,668.0 C724.8,668.0 718.3,672.8 713.4,676.1 C708.6,679.3 701.5,683.7 695.6,687.5 C689.6,691.2 683.1,695.3 677.7,698.8 C672.3,702.3 666.7,706.6 663.1,708.6 C659.5,710.5 658.4,711.8 656.3,710.5 C654.2,709.2 651.9,706.5 650.4,700.9 C648.9,695.4 647.9,685.4 647.3,677.4 C646.7,669.4 646.7,661.1 646.8,653.0 C647.0,644.9 647.5,636.0 648.5,628.7 C649.4,621.3 650.9,615.7 652.5,609.2 C654.2,602.7 655.9,595.6 658.2,589.7 C660.5,583.7 663.1,578.6 666.3,573.4 C669.6,568.3 673.6,563.2 677.7,558.8 C681.8,554.5 686.9,550.3 690.7,547.5 C694.5,544.6 697.7,542.9 700.4,541.8 C703.2,540.6 704.0,540.4 706.9,540.6 Z" fill="#DD8D88"/>
<g clip-path="url(#clipL)">
<path d="M724.8,661.1 L736.2,661.1 L736.2,726.1 L651.7,726.1 L659.8,705.0 L677.7,693.6 L695.6,682.3 L713.4,671.2 Z" fill="#B06A74"/>
<path d="M713.4,541.8 C714.5,540.4 723.5,540.5 726.4,545.8 C729.4,551.1 729.9,565.0 731.3,573.4 C732.7,581.8 734.8,592.9 734.6,596.2 C734.3,599.4 731.3,597.3 729.7,592.9 C728.1,588.6 726.4,576.7 724.8,570.2 C723.2,563.7 721.8,558.7 719.9,553.9 C718.0,549.2 712.4,543.1 713.4,541.8 Z" fill="#B3707A"/>
<path d="M681.0,563.7 C686.9,558.8 697.7,549.1 703.7,547.5 C709.6,545.8 714.0,549.1 716.7,553.9 C719.4,558.8 722.1,569.6 719.9,576.7 C717.8,583.7 710.2,590.2 703.7,596.2 C697.2,602.1 688.0,608.1 681.0,612.4 C673.9,616.7 665.3,624.9 661.5,622.2 C657.7,619.5 657.1,603.8 658.2,596.2 C659.3,588.6 664.2,582.1 668.0,576.7 C671.7,571.3 675.0,568.6 681.0,563.7 Z" fill="#E39894" opacity="0.75"/>
<path d="M733.7,597.0 C731.4,597.5 724.9,599.0 719.9,600.2 C714.9,601.5 709.1,602.3 703.7,604.3 C698.3,606.3 692.3,609.4 687.5,612.4 C682.6,615.4 676.6,620.5 674.5,622.2" fill="none" stroke="#D2666E" stroke-width="3.6" opacity="0.8"/>
<path d="M724.8,600.2 C723.5,603.9 720.2,614.7 716.7,622.2 C713.2,629.6 708.6,637.3 703.7,644.9 C698.8,652.5 692.9,660.3 687.5,667.6 C682.0,674.9 673.9,685.2 671.2,688.8" fill="none" stroke="#D2666E" stroke-width="3.4" opacity="0.8"/>
<path d="M703.7,604.3 C702.6,601.6 698.0,593.7 697.2,588.1 C696.4,582.4 697.7,575.3 698.8,570.2 C699.9,565.0 702.9,559.4 703.7,557.2" fill="none" stroke="#D2666E" stroke-width="2.6" opacity="0.8"/>
<path d="M698.0,579.9 C696.8,578.9 692.7,576.1 690.7,573.4 C688.7,570.7 686.6,565.3 685.8,563.7" fill="none" stroke="#D2666E" stroke-width="1.6" opacity="0.8"/>
<path d="M700.4,592.9 C702.1,591.3 708.0,585.6 710.2,583.2 C712.4,580.7 712.9,579.1 713.4,578.3" fill="none" stroke="#D2666E" stroke-width="1.6" opacity="0.8"/>
<path d="M695.6,605.9 C695.8,608.6 697.2,618.4 697.2,622.2 C697.2,626.0 695.8,627.6 695.6,628.7" fill="none" stroke="#D2666E" stroke-width="2.0" opacity="0.8"/>
<path d="M687.5,612.4 C685.8,611.1 680.7,605.9 677.7,604.3 C674.7,602.7 670.9,602.9 669.6,602.7" fill="none" stroke="#D2666E" stroke-width="1.5" opacity="0.8"/>
<path d="M703.7,644.9 C701.5,644.4 695.0,640.8 690.7,641.7 C686.4,642.5 679.9,648.4 677.7,649.8" fill="none" stroke="#D2666E" stroke-width="2.0" opacity="0.8"/>
<path d="M693.9,659.5 C695.6,660.6 701.5,665.7 703.7,666.0 C705.9,666.3 706.4,662.0 706.9,661.1" fill="none" stroke="#D2666E" stroke-width="1.5" opacity="0.8"/>
<path d="M681.0,677.4 C682.0,678.5 686.6,681.2 687.5,683.9 C688.3,686.6 686.1,692.0 685.8,693.6" fill="none" stroke="#D2666E" stroke-width="1.8" opacity="0.8"/>
<path d="M674.5,683.9 C672.6,682.8 666.3,677.4 663.1,677.4 C659.8,677.4 656.3,682.8 655.0,683.9" fill="none" stroke="#D2666E" stroke-width="1.5" opacity="0.7"/>
<path d="M703.7,563.7 C702.6,563.4 698.8,563.4 697.2,562.1 C695.6,560.7 694.5,556.7 693.9,555.6" fill="none" stroke="#D2666E" stroke-width="1.3" opacity="0.75"/>
<path d="M702.1,573.4 C703.2,572.4 707.2,568.8 708.6,566.9 C709.9,565.0 709.9,562.9 710.2,562.1" fill="none" stroke="#D2666E" stroke-width="1.3" opacity="0.75"/>
<path d="M710.2,583.2 C711.3,582.6 715.1,581.6 716.7,579.9 C718.3,578.3 719.4,574.5 719.9,573.4" fill="none" stroke="#D2666E" stroke-width="1.3" opacity="0.75"/>
<path d="M713.4,578.3 C714.5,578.9 718.3,581.3 719.9,581.6 C721.6,581.8 722.6,580.2 723.2,579.9" fill="none" stroke="#D2666E" stroke-width="1.2" opacity="0.75"/>
<path d="M677.7,604.3 C676.6,602.9 673.1,597.5 671.2,596.2 C669.3,594.8 667.1,596.2 666.3,596.2" fill="none" stroke="#D2666E" stroke-width="1.2" opacity="0.75"/>
<path d="M674.5,612.4 C673.4,612.7 669.9,614.3 668.0,614.0 C666.1,613.8 663.9,611.3 663.1,610.8" fill="none" stroke="#D2666E" stroke-width="1.2" opacity="0.75"/>
<path d="M681.0,617.3 C679.9,618.6 676.6,623.8 674.5,625.4 C672.3,627.0 669.0,626.8 668.0,627.0" fill="none" stroke="#D2666E" stroke-width="1.2" opacity="0.75"/>
<path d="M713.4,628.7 C714.5,629.7 718.9,632.7 719.9,635.2 C721.0,637.6 719.9,641.9 719.9,643.3" fill="none" stroke="#D2666E" stroke-width="1.4" opacity="0.75"/>
<path d="M690.7,641.7 C689.6,640.8 685.8,638.7 684.2,636.8 C682.6,634.9 681.5,631.4 681.0,630.3" fill="none" stroke="#D2666E" stroke-width="1.3" opacity="0.75"/>
<path d="M700.4,651.4 C702.1,651.7 707.5,653.3 710.2,653.0 C712.9,652.8 715.6,650.3 716.7,649.8" fill="none" stroke="#D2666E" stroke-width="1.4" opacity="0.75"/>
<path d="M687.5,667.6 C685.8,667.1 680.4,664.4 677.7,664.4 C675.0,664.4 672.3,667.1 671.2,667.6" fill="none" stroke="#D2666E" stroke-width="1.3" opacity="0.75"/>
<path d="M693.9,659.5 C694.5,662.0 695.8,670.6 697.2,674.1 C698.5,677.7 701.3,679.5 702.1,680.6" fill="none" stroke="#D2666E" stroke-width="1.4" opacity="0.75"/>
<path d="M668.0,690.4 C666.6,690.9 661.7,692.0 659.8,693.6 C657.9,695.2 657.1,699.0 656.6,700.1" fill="none" stroke="#D2666E" stroke-width="1.2" opacity="0.75"/>
<path d="M676.1,683.9 C675.3,682.3 673.1,676.6 671.2,674.1 C669.3,671.7 665.8,670.1 664.7,669.3" fill="none" stroke="#D2666E" stroke-width="1.2" opacity="0.75"/>
<path d="M663.1,677.4 C662.3,676.6 659.6,674.7 658.2,672.5 C656.9,670.3 655.5,665.7 655.0,664.4" fill="none" stroke="#D2666E" stroke-width="1.1" opacity="0.75"/>
<path d="M685.8,693.6 C687.2,693.9 691.8,695.8 693.9,695.2 C696.1,694.7 698.0,691.2 698.8,690.4" fill="none" stroke="#D2666E" stroke-width="1.2" opacity="0.75"/>
<path d="M689.1,557.2 C688.8,558.8 688.0,563.7 687.5,566.9 C686.9,570.2 686.1,575.1 685.8,576.7" fill="none" stroke="#D2666E" stroke-width="1.2" opacity="0.75"/>
<path d="M703.7,622.2 C704.8,621.1 707.5,617.3 710.2,615.7 C712.9,614.0 718.3,613.0 719.9,612.4" fill="none" stroke="#D2666E" stroke-width="1.6" opacity="0.75"/>
<path d="M649.3,631.1 C652.9,630.6 662.1,629.3 671.2,627.8 C680.3,626.4 693.3,624.3 703.7,622.2 C714.1,620.0 728.7,616.1 733.7,614.9" fill="none" stroke="#F6D3CF" stroke-width="1.5"/>
<path d="M647.7,649.8 C649.4,652.5 654.6,659.5 658.2,666.0 C661.9,672.5 666.3,682.9 669.6,688.8 C672.8,694.6 676.4,698.9 677.7,700.9" fill="none" stroke="#F6D3CF" stroke-width="1.3"/>
<path d="M713.4,545.0 C714.5,546.8 717.8,551.9 719.9,555.6 C722.1,559.2 725.3,565.0 726.4,566.9" fill="none" stroke="#F6D3CF" stroke-width="1.3"/>
</g>
<path d="M706.9,540.6 C709.9,540.8 715.3,541.7 718.3,542.9 C721.3,544.1 725.1,547.8 725.1,547.8 C725.1,547.8 726.6,556.2 727.4,560.4 C728.2,564.7 728.8,569.1 729.7,573.4 C730.6,577.8 732.2,582.6 732.9,586.4 C733.7,590.2 733.8,591.8 734.1,596.2 C734.3,600.5 734.5,607.0 734.4,612.4 C734.3,617.8 733.8,623.2 733.3,628.7 C732.7,634.1 732.1,639.8 731.3,644.9 C730.5,650.0 729.5,655.7 728.4,659.5 C727.3,663.4 724.8,668.0 724.8,668.0 C724.8,668.0 718.3,672.8 713.4,676.1 C708.6,679.3 701.5,683.7 695.6,687.5 C689.6,691.2 683.1,695.3 677.7,698.8 C672.3,702.3 666.7,706.6 663.1,708.6 C659.5,710.5 658.4,711.8 656.3,710.5 C654.2,709.2 651.9,706.5 650.4,700.9 C648.9,695.4 647.9,685.4 647.3,677.4 C646.7,669.4 646.7,661.1 646.8,653.0 C647.0,644.9 647.5,636.0 648.5,628.7 C649.4,621.3 650.9,615.7 652.5,609.2 C654.2,602.7 655.9,595.6 658.2,589.7 C660.5,583.7 663.1,578.6 666.3,573.4 C669.6,568.3 673.6,563.2 677.7,558.8 C681.8,554.5 686.9,550.3 690.7,547.5 C694.5,544.6 697.7,542.9 700.4,541.8 C703.2,540.6 704.0,540.4 706.9,540.6 Z" fill="none" stroke="#FBEAE6" stroke-width="1.6"/>
<path d="M765.4,540.6 C768.7,540.4 773.8,541.3 778.4,543.2 C783.0,545.2 788.1,548.4 793.0,552.3 C797.9,556.3 803.0,561.3 807.6,566.9 C812.2,572.6 816.8,579.4 820.6,586.4 C824.4,593.5 827.8,602.1 830.4,609.2 C832.9,616.2 834.7,621.3 836.1,628.7 C837.5,636.0 838.4,644.9 838.8,653.0 C839.3,661.1 839.1,670.1 838.8,677.4 C838.6,684.7 838.1,692.2 837.2,696.9 C836.3,701.5 835.8,703.9 833.6,705.3 C831.4,706.7 827.9,706.4 823.9,705.3 C819.8,704.2 814.4,701.5 809.3,698.8 C804.1,696.1 798.4,692.9 793.0,689.1 C787.6,685.3 781.9,680.7 776.8,676.1 C771.6,671.5 766.0,666.1 762.2,661.5 C758.4,656.9 755.9,653.9 754.0,648.5 C752.1,643.0 751.5,634.7 750.8,628.7 C750.1,622.6 750.5,617.3 750.0,612.4 C749.5,607.5 748.7,603.5 747.9,599.4 C747.1,595.4 745.9,592.1 745.3,588.1 C744.7,584.0 744.1,579.1 744.3,575.1 C744.5,571.0 745.4,567.5 746.7,563.7 C748.1,559.9 750.4,555.5 752.4,552.3 C754.4,549.1 756.7,546.5 758.9,544.5 C761.1,542.6 762.2,540.8 765.4,540.6 Z" fill="#A9666F"/>
<g clip-path="url(#clipR)">
<path d="M742.7,541.0 C760.1,535.8 832.0,526.3 849.9,541.0 C867.7,555.6 852.2,613.8 849.9,628.7 C847.5,643.5 838.8,627.6 835.6,630.3 C832.3,633.0 833.4,636.4 830.4,644.9 C827.4,653.4 820.6,674.8 817.7,681.4 C814.8,688.1 818.8,686.1 812.8,684.7 C806.9,683.3 788.0,675.6 782.0,672.8 C776.0,670.0 776.8,671.3 776.8,668.0 C776.8,664.7 780.6,658.2 782.0,653.0 C783.4,647.8 785.5,642.2 785.2,636.8 C785.0,631.4 783.1,625.1 780.4,620.5 C777.6,615.9 773.3,613.8 768.7,609.2 C764.0,604.6 756.3,599.2 752.4,592.9 C748.6,586.7 747.2,580.5 745.6,571.8 C744.0,563.2 725.3,546.1 742.7,541.0 Z" fill="#DD8D88"/>
<path d="M835.6,630.3 C838.8,627.6 847.5,615.4 849.9,628.7 C852.2,641.9 852.6,696.9 849.9,709.9 C847.2,722.9 839.0,710.7 833.6,706.6 C828.2,702.6 817.9,695.8 817.4,685.5 C816.8,675.2 827.3,654.1 830.4,644.9 C833.4,635.7 832.3,633.0 835.6,630.3 Z" fill="#D88884"/>
<path d="M746.7,573.4 C747.0,567.2 750.9,559.9 754.0,555.6 C757.2,551.2 761.9,546.1 765.4,547.5 C768.9,548.8 773.3,557.7 775.2,563.7 C777.0,569.6 777.0,577.8 776.8,583.2 C776.5,588.6 776.0,592.4 773.5,596.2 C771.1,600.0 765.7,606.5 762.2,605.9 C758.6,605.4 755.0,598.3 752.4,592.9 C749.8,587.5 746.5,579.7 746.7,573.4 Z" fill="#E39B97" opacity="0.8"/>
<path d="M748.4,600.2 C750.7,600.6 757.4,600.6 762.2,602.7 C766.9,604.7 773.0,608.1 776.8,612.4 C780.6,616.7 782.7,621.9 784.9,628.7 C787.1,635.4 787.3,644.4 789.8,653.0 C792.2,661.7 796.8,673.9 799.5,680.6 C802.2,687.4 804.9,691.5 806.0,693.6" fill="none" stroke="#D2666E" stroke-width="3.6" opacity="0.8"/>
<path d="M776.8,612.4 C777.6,609.7 782.5,602.7 781.7,596.2 C780.8,589.7 774.9,580.2 771.9,573.4 C768.9,566.7 765.1,558.5 763.8,555.6" fill="none" stroke="#D2666E" stroke-width="2.8" opacity="0.8"/>
<path d="M780.0,596.2 C782.5,595.6 790.0,595.1 794.6,592.9 C799.2,590.8 805.5,584.8 807.6,583.2" fill="none" stroke="#D2666E" stroke-width="2.2" opacity="0.8"/>
<path d="M773.5,579.9 C774.9,578.9 779.5,575.1 781.7,573.4 C783.8,571.8 785.7,570.7 786.5,570.2" fill="none" stroke="#D2666E" stroke-width="1.5" opacity="0.8"/>
<path d="M784.9,628.7 C787.6,628.9 795.7,628.1 801.1,630.3 C806.6,632.4 812.8,638.1 817.4,641.7 C822.0,645.2 826.9,649.8 828.8,651.4" fill="none" stroke="#D2666E" stroke-width="2.6" opacity="0.8"/>
<path d="M781.7,618.9 C784.4,617.3 791.9,611.3 797.9,609.2 C803.8,607.0 814.1,606.5 817.4,605.9" fill="none" stroke="#D2666E" stroke-width="2.0" opacity="0.8"/>
<path d="M801.1,630.3 C802.2,628.4 806.3,621.9 807.6,618.9 C809.0,615.9 809.0,613.5 809.3,612.4" fill="none" stroke="#D2666E" stroke-width="1.5" opacity="0.8"/>
<path d="M810.9,636.8 C810.3,638.9 807.1,646.5 807.6,649.8 C808.2,653.0 813.1,655.2 814.1,656.3" fill="none" stroke="#D2666E" stroke-width="1.5" opacity="0.8"/>
<path d="M799.5,680.6 C802.5,682.3 812.8,687.1 817.4,690.4 C822.0,693.6 825.5,698.5 827.1,700.1" fill="none" stroke="#D2666E" stroke-width="1.8" opacity="0.7"/>
<path d="M771.9,636.8 C770.8,636.2 767.3,632.7 765.4,633.5 C763.5,634.3 761.3,640.3 760.5,641.7" fill="none" stroke="#92525E" stroke-width="1.6" opacity="0.8"/>
<path d="M770.3,651.4 C769.2,651.9 765.1,653.0 763.8,654.6 C762.4,656.3 762.4,660.1 762.2,661.1" fill="none" stroke="#92525E" stroke-width="1.4" opacity="0.8"/>
<path d="M768.7,566.9 C767.6,566.4 763.5,565.3 762.2,563.7 C760.8,562.1 760.8,558.3 760.5,557.2" fill="none" stroke="#D2666E" stroke-width="1.3" opacity="0.75"/>
<path d="M786.5,570.2 C787.1,569.1 789.5,565.6 789.8,563.7 C790.0,561.8 788.4,559.6 788.1,558.8" fill="none" stroke="#D2666E" stroke-width="1.2" opacity="0.75"/>
<path d="M786.5,570.2 C787.6,570.5 791.4,572.1 793.0,571.8 C794.6,571.5 795.7,569.1 796.3,568.6" fill="none" stroke="#D2666E" stroke-width="1.2" opacity="0.75"/>
<path d="M807.6,583.2 C808.5,582.1 811.7,578.6 812.5,576.7 C813.3,574.8 812.5,572.6 812.5,571.8" fill="none" stroke="#D2666E" stroke-width="1.3" opacity="0.75"/>
<path d="M807.6,583.2 C809.0,583.5 813.9,585.1 815.8,584.8 C817.7,584.5 818.5,582.1 819.0,581.6" fill="none" stroke="#D2666E" stroke-width="1.2" opacity="0.75"/>
<path d="M799.5,591.3 C799.8,589.9 801.1,585.3 801.1,583.2 C801.1,581.0 799.8,579.1 799.5,578.3" fill="none" stroke="#D2666E" stroke-width="1.2" opacity="0.75"/>
<path d="M817.4,605.9 C818.5,605.1 822.5,602.7 823.9,601.0 C825.2,599.4 825.2,597.0 825.5,596.2" fill="none" stroke="#D2666E" stroke-width="1.2" opacity="0.75"/>
<path d="M817.4,605.9 C818.7,606.5 823.6,608.9 825.5,609.2 C827.4,609.4 828.2,607.8 828.8,607.5" fill="none" stroke="#D2666E" stroke-width="1.2" opacity="0.75"/>
<path d="M809.3,612.4 C809.5,613.8 809.8,618.9 810.9,620.5 C812.0,622.2 814.9,621.9 815.8,622.2" fill="none" stroke="#D2666E" stroke-width="1.2" opacity="0.75"/>
<path d="M828.8,651.4 C829.6,651.1 832.5,650.9 833.6,649.8 C834.7,648.7 835.0,645.7 835.2,644.9" fill="none" stroke="#D2666E" stroke-width="1.2" opacity="0.75"/>
<path d="M817.4,641.7 C818.2,640.6 821.2,637.0 822.3,635.2 C823.3,633.3 823.6,631.1 823.9,630.3" fill="none" stroke="#D2666E" stroke-width="1.2" opacity="0.75"/>
<path d="M814.1,656.3 C815.2,656.8 819.0,659.2 820.6,659.5 C822.3,659.8 823.3,658.2 823.9,657.9" fill="none" stroke="#D2666E" stroke-width="1.2" opacity="0.75"/>
<path d="M806.0,646.5 C804.9,647.1 800.9,648.4 799.5,649.8 C798.2,651.1 798.2,653.8 797.9,654.6" fill="none" stroke="#D2666E" stroke-width="1.2" opacity="0.75"/>
<path d="M794.6,666.0 C796.0,666.3 800.6,667.9 802.8,667.6 C804.9,667.4 806.8,664.9 807.6,664.4" fill="none" stroke="#D2666E" stroke-width="1.3" opacity="0.75"/>
<path d="M793.0,661.1 C791.9,662.0 787.9,664.4 786.5,666.0 C785.2,667.6 785.2,670.1 784.9,670.9" fill="none" stroke="#D2666E" stroke-width="1.2" opacity="0.75"/>
<path d="M827.1,700.1 C827.7,699.0 830.1,695.5 830.4,693.6 C830.6,691.7 829.0,689.6 828.8,688.8" fill="none" stroke="#D2666E" stroke-width="1.1" opacity="0.75"/>
<path d="M791.4,641.7 C792.8,641.1 797.4,638.7 799.5,638.4 C801.7,638.1 803.6,639.8 804.4,640.0" fill="none" stroke="#D2666E" stroke-width="1.4" opacity="0.75"/>
<path d="M765.4,633.5 C764.6,632.4 761.1,628.9 760.5,627.0 C760.0,625.1 761.9,623.0 762.2,622.2" fill="none" stroke="#8E4E5C" stroke-width="1.3" opacity="0.8"/>
<path d="M771.9,636.8 C772.4,638.1 775.2,642.5 775.2,644.9 C775.2,647.3 772.4,650.3 771.9,651.4" fill="none" stroke="#8E4E5C" stroke-width="1.4" opacity="0.8"/>
<path d="M771.9,651.4 C771.1,652.5 767.6,655.7 767.0,657.9 C766.5,660.1 768.4,663.3 768.7,664.4" fill="none" stroke="#8E4E5C" stroke-width="1.2" opacity="0.8"/>
<path d="M793.0,690.4 C793.8,690.9 796.0,693.1 797.9,693.6 C799.8,694.2 803.3,693.6 804.4,693.6" fill="none" stroke="#8E4E5C" stroke-width="1.2" opacity="0.8"/>
<path d="M801.1,698.5 C802.2,698.8 805.5,700.4 807.6,700.1 C809.8,699.9 813.1,697.4 814.1,696.9" fill="none" stroke="#8E4E5C" stroke-width="1.2" opacity="0.8"/>
<path d="M745.6,571.8 C746.7,575.3 748.6,586.7 752.4,592.9 C756.3,599.2 764.0,604.6 768.7,609.2 C773.3,613.8 777.6,615.9 780.4,620.5 C783.1,625.1 785.0,631.4 785.2,636.8 C785.5,642.2 783.4,647.8 782.0,653.0 C780.6,658.2 776.8,664.7 776.8,668.0 C776.8,671.3 776.0,670.0 782.0,672.8 C788.0,675.6 806.9,683.3 812.8,684.7 C818.8,686.1 814.8,688.1 817.7,681.4 C820.6,674.8 827.4,653.4 830.4,644.9 C833.4,636.4 834.7,632.7 835.6,630.3" fill="none" stroke="#F4CFCB" stroke-width="1.5"/>
<path d="M816.6,683.9 C817.8,685.2 821.0,688.4 823.9,692.0 C826.7,695.6 832.0,703.1 833.6,705.3" fill="none" stroke="#F4CFCB" stroke-width="1.3"/>
<path d="M745.6,571.8 C746.7,570.2 750.2,564.8 752.4,562.1 C754.6,559.4 757.8,556.7 758.9,555.6" fill="none" stroke="#F4CFCB" stroke-width="1.2"/>
</g>
<path d="M765.4,540.6 C768.7,540.4 773.8,541.3 778.4,543.2 C783.0,545.2 788.1,548.4 793.0,552.3 C797.9,556.3 803.0,561.3 807.6,566.9 C812.2,572.6 816.8,579.4 820.6,586.4 C824.4,593.5 827.8,602.1 830.4,609.2 C832.9,616.2 834.7,621.3 836.1,628.7 C837.5,636.0 838.4,644.9 838.8,653.0 C839.3,661.1 839.1,670.1 838.8,677.4 C838.6,684.7 838.1,692.2 837.2,696.9 C836.3,701.5 835.8,703.9 833.6,705.3 C831.4,706.7 827.9,706.4 823.9,705.3 C819.8,704.2 814.4,701.5 809.3,698.8 C804.1,696.1 798.4,692.9 793.0,689.1 C787.6,685.3 781.9,680.7 776.8,676.1 C771.6,671.5 766.0,666.1 762.2,661.5 C758.4,656.9 755.9,653.9 754.0,648.5 C752.1,643.0 751.5,634.7 750.8,628.7 C750.1,622.6 750.5,617.3 750.0,612.4 C749.5,607.5 748.7,603.5 747.9,599.4 C747.1,595.4 745.9,592.1 745.3,588.1 C744.7,584.0 744.1,579.1 744.3,575.1 C744.5,571.0 745.4,567.5 746.7,563.7 C748.1,559.9 750.4,555.5 752.4,552.3 C754.4,549.1 756.7,546.5 758.9,544.5 C761.1,542.6 762.2,540.8 765.4,540.6 Z" fill="none" stroke="#FBEAE6" stroke-width="1.6"/>
</g>
<g id="cash">
<path d="M1115.9,638.2 L1245.7,638.2 L1245.7,701.5 L1117.0,700.4 Z" fill="#6C8935"/>
<path d="M1245.7,638.2 L1285.8,593.7 L1286.9,640.4 L1285.8,658.0 L1245.7,701.5 Z" fill="#8BAE51"/>
<path d="M1115.5,637.3 L1245.7,638.0 L1245.7,639.7 L1115.5,639.3 Z" fill="#DDF7AB"/>
<path d="M1115.5,657.7 L1245.7,658.3 L1245.7,660.1 L1115.5,659.7 Z" fill="#DDF7AB"/>
<path d="M1115.5,679.5 L1245.7,680.1 L1245.7,681.9 L1115.5,681.4 Z" fill="#DDF7AB"/>
<path d="M1245.3,638.0 L1286.0,592.8 L1286.7,594.5 L1245.5,640.0 Z" fill="#DDF7AB"/>
<path d="M1245.3,659.1 L1286.0,615.9 L1286.7,617.6 L1245.5,661.1 Z" fill="#DDF7AB"/>
<path d="M1245.3,680.9 L1286.0,637.9 L1286.7,639.6 L1245.5,682.9 Z" fill="#DDF7AB"/>
<path d="M1116.4,637.3 L1156.2,593.7 L1285.8,593.7 L1245.7,637.3 Z" fill="#8DB066"/>
<path d="M1137.3,631.6 L1165.9,600.3 L1266.0,600.3 L1236.3,631.6 Z" fill="#A9CA86"/>
<ellipse cx="1158.8" cy="601.4" rx="5.5" ry="3.6" fill="#7FA25A"/>
<ellipse cx="1134.6" cy="630.0" rx="5.5" ry="3.6" fill="#7FA25A"/>
<ellipse cx="1240.2" cy="630.0" rx="5.5" ry="3.6" fill="#7FA25A"/>
<ellipse cx="1266.0" cy="601.4" rx="5.5" ry="3.6" fill="#7FA25A"/>
<ellipse cx="1162.6" cy="616.2" rx="8.8" ry="6.8" fill="#C5DDA9"/>
<ellipse cx="1235.2" cy="616.2" rx="8.8" ry="6.8" fill="#C5DDA9"/>
<path d="M1167.0,601.9 L1186.8,601.9 L1185.9,603.0 L1166.1,603.0 Z" fill="#D5EDB5"/>
<path d="M1167.0,605.4 L1179.1,605.4 L1178.2,606.5 L1166.1,606.5 Z" fill="#D5EDB5"/>
<path d="M1237.4,601.9 L1258.3,601.9 L1257.4,603.0 L1236.5,603.0 Z" fill="#D5EDB5"/>
<path d="M1245.1,605.4 L1257.2,605.4 L1256.3,606.5 L1244.2,606.5 Z" fill="#D5EDB5"/>
<path d="M1157.1,638.8 L1196.7,592.0 L1239.6,592.0 L1203.9,638.8 Z" fill="#FBD973"/>
<path d="M1157.1,638.4 L1203.9,638.4 L1204.4,705.5 L1158.0,706.2 Z" fill="#F0C85A"/>
<text transform="translate(1200.3,613.1) skewX(-30) scale(1.28,0.9)" x="0" y="13.2" text-anchor="middle" font-size="38" font-weight="bold" fill="#FFF6DC">$</text>
</g>
<g id="dna">
<defs>
<clipPath id="lens0"><path d="M1490.0,693.1 L1490.3,692.7 L1490.6,692.2 L1491.0,691.6 L1491.4,690.9 L1491.9,690.2 L1492.4,689.4 L1492.9,688.6 L1493.5,687.8 L1494.0,687.0 L1494.6,686.2 L1495.3,685.4 L1495.9,684.6 L1496.5,683.9 L1497.2,683.3 L1497.9,682.7 L1498.5,682.1 L1499.2,681.5 L1499.9,680.9 L1500.6,680.4 L1501.4,679.8 L1502.1,679.3 L1502.9,678.8 L1503.7,678.3 L1504.5,677.8 L1505.4,677.3 L1506.3,676.9 L1507.3,676.5 L1508.2,676.1 L1509.3,675.7 L1510.4,675.3 L1511.5,675.0 L1512.7,674.6 L1513.9,674.3 L1515.1,674.0 L1516.4,673.7 L1517.7,673.5 L1518.9,673.2 L1520.2,673.0 L1521.5,672.8 L1522.8,672.7 L1524.0,672.5 L1525.2,672.4 L1526.5,672.3 L1527.7,672.3 L1529.0,672.3 L1530.2,672.3 L1531.5,672.3 L1532.8,672.3 L1534.0,672.4 L1535.3,672.5 L1536.5,672.6 L1537.7,672.7 L1538.9,672.8 L1540.0,673.0 L1541.2,673.1 L1542.2,673.3 L1543.3,673.4 L1544.3,673.6 L1545.3,673.8 L1546.2,674.0 L1547.1,674.2 L1548.0,674.4 L1548.9,674.7 L1549.8,674.9 L1550.6,675.2 L1551.5,675.5 L1552.3,675.7 L1553.2,676.0 L1554.1,676.4 L1555.0,676.7 L1555.9,677.0 L1556.8,677.4 L1557.8,677.8 L1558.7,678.2 L1559.7,678.6 L1560.6,679.0 L1561.6,679.5 L1562.5,679.9 L1563.4,680.3 L1564.4,680.8 L1565.2,681.2 L1566.1,681.6 L1566.9,681.9 L1567.7,682.3 L1568.5,682.6 L1569.2,682.9 L1569.9,683.2 L1570.6,683.5 L1571.2,683.8 L1571.9,684.1 L1572.5,684.3 L1573.1,684.6 L1573.7,684.8 L1574.3,685.1 L1575.0,685.3 L1575.7,685.5 L1571.8,687.1 L1571.7,688.2 L1571.6,689.2 L1571.4,690.2 L1571.2,691.2 L1570.9,692.0 L1570.6,692.9 L1570.3,693.7 L1569.9,694.5 L1569.5,695.3 L1569.1,696.0 L1568.7,696.7 L1568.2,697.4 L1567.7,698.1 L1567.2,698.9 L1566.6,699.6 L1566.0,700.3 L1565.4,701.0 L1564.8,701.8 L1564.2,702.5 L1563.5,703.2 L1562.8,704.0 L1562.0,704.7 L1561.2,705.4 L1560.4,706.1 L1559.6,706.7 L1558.7,707.4 L1557.9,708.0 L1556.9,708.6 L1556.0,709.1 L1555.0,709.6 L1554.0,710.1 L1552.9,710.6 L1551.7,711.0 L1550.6,711.4 L1549.4,711.8 L1548.1,712.2 L1546.9,712.5 L1545.6,712.9 L1544.3,713.1 L1543.0,713.4 L1541.7,713.6 L1540.5,713.8 L1539.2,714.0 L1538.0,714.1 L1536.8,714.1 L1535.6,714.2 L1534.4,714.2 L1533.1,714.2 L1531.9,714.2 L1530.7,714.1 L1529.5,714.0 L1528.3,713.8 L1527.1,713.7 L1525.9,713.5 L1524.6,713.2 L1523.4,713.0 L1522.2,712.7 L1521.0,712.4 L1519.8,712.0 L1518.5,711.6 L1517.3,711.1 L1516.0,710.5 L1514.8,709.9 L1513.5,709.3 L1512.2,708.7 L1511.0,708.1 L1509.8,707.5 L1508.5,706.8 L1507.4,706.3 L1506.2,705.7 L1505.1,705.2 L1504.0,704.7 L1502.9,704.3 L1501.8,703.9 L1500.8,703.5 L1499.7,703.1 L1498.6,702.7 L1497.6,702.4 L1496.6,702.0 L1495.6,701.7 L1494.7,701.4 L1493.8,701.1 L1493.1,700.9 L1492.4,700.7 L1491.8,700.5 L1491.2,700.3 Z"/></clipPath>
<clipPath id="lens1"><path d="M1576.4,685.7 L1577.1,685.8 L1577.9,686.0 L1578.7,686.2 L1579.5,686.3 L1580.3,686.5 L1581.1,686.6 L1582.0,686.7 L1582.8,686.8 L1583.7,686.9 L1584.6,687.0 L1585.5,687.0 L1586.3,687.0 L1587.2,687.0 L1588.1,686.9 L1589.0,686.9 L1589.9,686.8 L1590.8,686.7 L1591.7,686.5 L1592.6,686.4 L1593.5,686.2 L1594.4,686.1 L1595.3,685.8 L1596.2,685.6 L1597.2,685.3 L1598.1,685.0 L1599.0,684.6 L1599.9,684.2 L1600.8,683.7 L1601.7,683.1 L1602.7,682.5 L1603.6,681.9 L1604.6,681.1 L1605.5,680.4 L1606.5,679.6 L1607.5,678.7 L1608.4,677.8 L1609.4,676.9 L1610.3,675.9 L1611.2,674.9 L1612.1,673.9 L1612.9,672.8 L1613.7,671.7 L1614.5,670.5 L1615.2,669.4 L1615.9,668.1 L1616.5,666.8 L1617.2,665.4 L1617.8,664.0 L1618.4,662.5 L1618.9,661.0 L1619.4,659.6 L1619.9,658.1 L1620.4,656.6 L1620.9,655.1 L1621.3,653.7 L1621.7,652.3 L1622.1,651.0 L1622.5,649.7 L1622.9,648.4 L1623.2,647.1 L1623.5,645.9 L1623.8,644.6 L1624.0,643.4 L1624.3,642.1 L1624.5,640.9 L1624.7,639.7 L1624.9,638.5 L1625.1,637.4 L1625.2,636.2 L1625.4,635.1 L1625.5,634.0 L1625.7,632.9 L1625.8,631.9 L1625.9,630.9 L1626.0,629.9 L1626.0,629.0 L1626.0,628.1 L1626.1,627.2 L1626.1,626.2 L1626.1,625.3 L1626.2,624.4 L1626.2,623.5 L1626.3,622.5 L1626.3,621.5 L1626.4,620.5 L1626.4,620.5 L1625.8,620.2 L1625.4,620.0 L1625.1,619.8 L1624.9,619.6 L1624.8,619.4 L1624.7,619.2 L1624.7,619.1 L1624.6,619.0 L1624.6,618.8 L1624.5,618.8 L1624.3,618.7 L1624.0,618.6 L1623.7,618.6 L1623.2,618.5 L1622.6,618.5 L1621.9,618.5 L1621.1,618.5 L1620.3,618.5 L1619.4,618.5 L1618.5,618.6 L1617.5,618.6 L1616.5,618.7 L1615.5,618.8 L1614.5,618.9 L1613.4,619.1 L1612.4,619.3 L1611.4,619.5 L1610.4,619.7 L1609.4,620.0 L1608.4,620.3 L1607.4,620.6 L1606.4,620.9 L1605.3,621.2 L1604.3,621.6 L1603.2,622.0 L1602.2,622.4 L1601.1,622.8 L1600.1,623.3 L1599.0,623.9 L1598.0,624.4 L1597.0,625.0 L1596.0,625.7 L1595.0,626.4 L1593.9,627.1 L1592.9,627.9 L1591.9,628.7 L1590.8,629.6 L1589.8,630.4 L1588.8,631.4 L1587.8,632.3 L1586.8,633.3 L1585.9,634.3 L1584.9,635.3 L1584.0,636.3 L1583.2,637.4 L1582.4,638.4 L1581.6,639.5 L1580.8,640.6 L1580.1,641.8 L1579.4,642.9 L1578.7,644.1 L1578.1,645.3 L1577.4,646.6 L1576.9,647.8 L1576.3,649.1 L1575.7,650.3 L1575.2,651.6 L1574.7,652.8 L1574.3,654.0 L1573.9,655.2 L1573.5,656.5 L1573.1,657.7 L1572.8,658.9 L1572.5,660.1 L1572.3,661.3 L1572.1,662.5 L1571.9,663.7 L1571.7,665.0 L1571.5,666.2 L1571.4,667.4 L1571.3,668.6 L1571.2,669.8 L1571.1,671.0 L1571.0,672.2 L1570.9,673.5 L1570.9,674.7 L1571.0,676.0 L1571.1,677.3 L1571.2,678.6 L1571.3,679.8 L1571.4,681.1 L1571.6,682.4 L1571.7,683.6 L1571.7,684.8 L1571.8,686.0 Z"/></clipPath>
<clipPath id="lens2"><path d="M1626.4,620.5 L1626.5,619.4 L1626.5,618.3 L1626.5,617.2 L1626.6,616.0 L1626.6,614.9 L1626.6,613.7 L1626.6,612.5 L1626.7,611.3 L1626.8,610.2 L1626.9,609.0 L1627.1,607.9 L1627.4,606.9 L1627.7,605.9 L1628.0,605.0 L1628.5,604.1 L1629.0,603.3 L1629.5,602.5 L1630.1,601.7 L1630.8,601.0 L1631.5,600.3 L1632.2,599.6 L1633.0,599.0 L1633.8,598.3 L1634.6,597.8 L1635.5,597.2 L1636.4,596.7 L1637.3,596.1 L1638.2,595.6 L1639.3,595.2 L1640.3,594.7 L1641.4,594.3 L1642.6,594.0 L1643.8,593.6 L1645.1,593.3 L1646.3,593.0 L1647.6,592.7 L1648.9,592.4 L1650.2,592.2 L1651.5,592.0 L1652.8,591.8 L1654.0,591.7 L1655.2,591.6 L1656.5,591.5 L1657.7,591.4 L1659.0,591.4 L1660.2,591.4 L1661.5,591.4 L1662.8,591.4 L1664.0,591.5 L1665.3,591.6 L1666.5,591.7 L1667.7,591.8 L1668.9,592.0 L1670.0,592.1 L1671.2,592.3 L1672.2,592.4 L1673.3,592.6 L1674.3,592.8 L1675.3,593.0 L1676.3,593.2 L1677.2,593.5 L1678.1,593.7 L1679.0,594.0 L1679.9,594.3 L1680.7,594.6 L1681.6,594.9 L1682.5,595.2 L1683.3,595.5 L1684.1,595.8 L1685.0,596.1 L1685.8,596.4 L1686.7,596.7 L1687.5,597.0 L1688.3,597.3 L1689.1,597.7 L1689.9,598.0 L1690.7,598.4 L1691.5,598.7 L1692.2,599.1 L1693.0,599.4 L1693.8,599.8 L1694.5,600.1 L1695.3,600.4 L1696.0,600.7 L1696.8,601.1 L1697.5,601.4 L1698.2,601.7 L1698.9,602.1 L1699.6,602.4 L1700.3,602.7 L1701.0,603.0 L1701.7,603.4 L1702.5,603.7 L1703.2,604.0 L1703.9,604.3 L1704.7,604.5 L1705.4,604.8 L1706.2,605.0 L1707.1,605.2 L1707.9,605.5 L1702.0,604.2 L1702.0,605.0 L1701.9,605.7 L1701.8,606.4 L1701.7,607.1 L1701.5,607.7 L1701.3,608.3 L1701.1,608.8 L1700.9,609.4 L1700.6,610.0 L1700.3,610.5 L1700.0,611.1 L1699.7,611.6 L1699.3,612.2 L1699.0,612.8 L1698.6,613.5 L1698.2,614.2 L1697.8,614.9 L1697.4,615.6 L1697.0,616.4 L1696.6,617.1 L1696.1,617.9 L1695.7,618.7 L1695.2,619.4 L1694.7,620.2 L1694.1,620.9 L1693.6,621.6 L1693.0,622.4 L1692.4,623.0 L1691.8,623.7 L1691.1,624.3 L1690.5,625.0 L1689.7,625.6 L1689.0,626.2 L1688.2,626.8 L1687.4,627.4 L1686.6,627.9 L1685.8,628.5 L1685.0,629.0 L1684.2,629.5 L1683.3,630.0 L1682.5,630.5 L1681.6,630.9 L1680.7,631.3 L1679.9,631.7 L1679.0,632.1 L1678.1,632.4 L1677.2,632.8 L1676.3,633.1 L1675.4,633.4 L1674.5,633.6 L1673.6,633.9 L1672.6,634.1 L1671.7,634.3 L1670.8,634.4 L1669.8,634.6 L1668.9,634.7 L1668.0,634.7 L1667.1,634.8 L1666.2,634.8 L1665.3,634.8 L1664.4,634.8 L1663.5,634.7 L1662.6,634.6 L1661.7,634.5 L1660.8,634.4 L1659.9,634.2 L1659.0,634.1 L1658.1,633.8 L1657.2,633.6 L1656.2,633.3 L1655.2,633.0 L1654.3,632.7 L1653.3,632.3 L1652.3,631.9 L1651.2,631.4 L1650.2,631.0 L1649.2,630.4 L1648.1,629.9 L1647.1,629.4 L1646.0,628.8 L1645.0,628.3 L1643.9,627.7 L1642.9,627.2 L1641.8,626.7 L1640.8,626.2 L1639.7,625.8 L1638.6,625.3 L1637.5,624.9 L1636.4,624.4 L1635.2,624.0 L1634.0,623.5 L1632.9,623.1 L1631.8,622.6 L1630.7,622.2 L1629.7,621.8 L1628.7,621.5 L1627.9,621.1 L1627.1,620.8 L1626.4,620.5 Z"/></clipPath>
<clipPath id="lens3"><path d="M1708.8,605.7 L1709.7,605.9 L1710.6,606.1 L1711.5,606.3 L1712.4,606.5 L1713.3,606.7 L1714.3,606.8 L1715.2,606.9 L1716.2,607.0 L1717.1,607.0 L1718.1,607.0 L1719.0,606.9 L1720.0,606.7 L1720.9,606.6 L1721.9,606.4 L1722.9,606.1 L1723.9,605.8 L1724.9,605.5 L1726.0,605.2 L1727.0,604.8 L1728.0,604.4 L1728.9,603.9 L1729.9,603.4 L1730.8,602.9 L1731.7,602.4 L1732.6,601.8 L1733.4,601.1 L1734.3,600.4 L1735.1,599.7 L1735.9,598.9 L1736.7,598.1 L1737.4,597.2 L1738.2,596.3 L1738.9,595.4 L1739.6,594.5 L1740.3,593.5 L1741.0,592.6 L1741.6,591.6 L1742.2,590.7 L1742.8,589.7 L1743.4,588.7 L1743.9,587.7 L1744.4,586.7 L1744.9,585.6 L1745.4,584.6 L1745.9,583.5 L1746.3,582.4 L1746.7,581.3 L1747.1,580.3 L1747.5,579.2 L1747.9,578.2 L1748.2,577.2 L1748.5,576.2 L1748.7,575.2 L1749.0,574.4 L1749.2,573.5 L1749.4,572.6 L1749.6,571.8 L1749.7,571.0 L1749.8,570.2 L1749.9,569.5 L1750.0,568.7 L1750.0,567.9 L1750.1,567.2 L1750.1,566.4 L1750.1,565.7 L1750.1,565.0 L1750.0,564.2 L1750.0,563.4 L1749.9,562.7 L1749.8,561.9 L1749.7,561.2 L1749.5,560.4 L1749.4,559.7 L1749.2,559.0 L1749.0,558.2 L1748.8,557.5 L1748.6,556.8 L1748.3,556.1 L1748.0,555.4 L1747.8,554.7 L1747.5,554.0 L1747.1,553.3 L1746.7,552.6 L1746.3,551.8 L1745.8,551.1 L1745.4,550.4 L1744.8,549.6 L1744.3,548.9 L1743.8,548.2 L1743.3,547.6 L1742.9,546.9 L1742.5,546.4 L1742.1,545.9 L1741.8,545.4 L1741.5,545.1 L1739.4,537.4 L1739.1,537.6 L1738.8,537.7 L1738.5,537.9 L1738.1,538.0 L1737.6,538.2 L1737.2,538.4 L1736.7,538.7 L1736.2,538.9 L1735.6,539.2 L1735.0,539.5 L1734.5,539.8 L1733.9,540.1 L1733.2,540.5 L1732.6,540.8 L1731.9,541.2 L1731.2,541.6 L1730.5,542.0 L1729.8,542.5 L1729.0,542.9 L1728.2,543.4 L1727.4,543.9 L1726.6,544.4 L1725.7,545.0 L1724.9,545.5 L1724.0,546.1 L1723.2,546.7 L1722.4,547.4 L1721.5,548.0 L1720.7,548.7 L1719.9,549.5 L1719.0,550.2 L1718.1,551.0 L1717.2,551.8 L1716.3,552.6 L1715.4,553.5 L1714.5,554.4 L1713.6,555.3 L1712.8,556.2 L1711.9,557.1 L1711.1,558.0 L1710.4,559.0 L1709.6,559.9 L1709.0,560.9 L1708.3,561.9 L1707.6,563.0 L1707.0,564.0 L1706.4,565.1 L1705.8,566.2 L1705.2,567.3 L1704.7,568.4 L1704.1,569.5 L1703.7,570.7 L1703.2,571.8 L1702.8,572.9 L1702.4,574.1 L1702.0,575.2 L1701.7,576.4 L1701.4,577.6 L1701.1,578.9 L1700.9,580.1 L1700.7,581.4 L1700.5,582.6 L1700.3,583.9 L1700.2,585.2 L1700.1,586.4 L1700.0,587.7 L1699.9,588.9 L1699.9,590.0 L1699.9,591.2 L1699.9,592.2 L1699.9,593.3 L1700.0,594.3 L1700.1,595.3 L1700.3,596.3 L1700.5,597.3 L1700.8,598.2 L1701.0,599.2 L1701.3,600.1 L1701.5,600.9 L1701.7,601.8 L1701.8,602.6 L1701.9,603.4 Z"/></clipPath>
</defs>
<g clip-path="url(#lens0)" stroke="#237A8B" stroke-width="3.9">
<line x1="1471.6" y1="658.1" x2="1530.6" y2="726.0"/>
<line x1="1485.3" y1="656.9" x2="1544.3" y2="724.8"/>
<line x1="1499.0" y1="655.7" x2="1558.1" y2="723.6"/>
<line x1="1513.6" y1="654.4" x2="1572.6" y2="722.3"/>
<line x1="1529.0" y1="653.0" x2="1588.0" y2="721.0"/>
</g>
<g clip-path="url(#lens1)" stroke="#237A8B" stroke-width="3.9">
<line x1="1560.4" y1="625.2" x2="1606.7" y2="702.4"/>
<line x1="1569.3" y1="619.9" x2="1615.6" y2="697.0"/>
<line x1="1578.2" y1="614.5" x2="1624.6" y2="691.7"/>
<line x1="1587.1" y1="609.2" x2="1633.5" y2="686.3"/>
<line x1="1596.0" y1="603.8" x2="1642.4" y2="680.9"/>
</g>
<g clip-path="url(#lens2)" stroke="#237A8B" stroke-width="3.9">
<line x1="1607.5" y1="584.6" x2="1666.5" y2="652.5"/>
<line x1="1620.5" y1="582.2" x2="1679.6" y2="650.1"/>
<line x1="1633.6" y1="579.8" x2="1692.6" y2="647.7"/>
<line x1="1647.4" y1="577.2" x2="1706.5" y2="645.1"/>
<line x1="1662.1" y1="574.5" x2="1721.1" y2="642.4"/>
</g>
<g clip-path="url(#lens3)" stroke="#237A8B" stroke-width="3.9">
<line x1="1684.2" y1="547.5" x2="1730.5" y2="624.7"/>
<line x1="1693.1" y1="542.2" x2="1739.4" y2="619.3"/>
<line x1="1702.0" y1="536.8" x2="1748.3" y2="614.0"/>
<line x1="1710.9" y1="531.4" x2="1757.2" y2="608.6"/>
<line x1="1719.8" y1="526.1" x2="1766.2" y2="603.2"/>
</g>
<path d="M1491.2,700.3 L1491.8,700.5 L1492.4,700.7 L1493.1,700.9 L1493.8,701.1 L1494.7,701.4 L1495.6,701.7 L1496.6,702.0 L1497.6,702.4 L1498.6,702.7 L1499.7,703.1 L1500.8,703.5 L1501.8,703.9 L1502.9,704.3 L1504.0,704.7 L1505.1,705.2 L1506.2,705.7 L1507.4,706.3 L1508.5,706.8 L1509.8,707.5 L1511.0,708.1 L1512.2,708.7 L1513.5,709.3 L1514.8,709.9 L1516.0,710.5 L1517.3,711.1 L1518.5,711.6 L1519.8,712.0 L1521.0,712.4 L1522.2,712.7 L1523.4,713.0 L1524.6,713.2 L1525.9,713.5 L1527.1,713.7 L1528.3,713.8 L1529.5,714.0 L1530.7,714.1 L1531.9,714.2 L1533.1,714.2 L1534.4,714.2 L1535.6,714.2 L1536.8,714.1 L1538.0,714.1 L1539.2,714.0 L1540.5,713.8 L1541.7,713.6 L1543.0,713.4 L1544.3,713.1 L1545.6,712.9 L1546.9,712.5 L1548.1,712.2 L1549.4,711.8 L1550.6,711.4 L1551.7,711.0 L1552.9,710.6 L1554.0,710.1 L1555.0,709.6 L1556.0,709.1 L1556.9,708.6 L1557.9,708.0 L1558.7,707.4 L1559.6,706.7 L1560.4,706.1 L1561.2,705.4 L1562.0,704.7 L1562.8,704.0 L1563.5,703.2 L1564.2,702.5 L1564.8,701.8 L1565.4,701.0 L1566.0,700.3 L1566.6,699.6 L1567.2,698.9 L1567.7,698.1 L1568.2,697.4 L1568.7,696.7 L1569.1,696.0 L1569.5,695.3 L1569.9,694.5 L1570.3,693.7 L1570.6,692.9 L1570.9,692.0 L1571.2,691.2 L1571.4,690.2 L1571.6,689.2 L1571.7,688.2 L1571.8,687.1 L1571.8,686.0 L1571.7,684.8 L1571.7,683.6 L1571.6,682.4 L1571.4,681.1 L1571.3,679.8 L1571.2,678.6 L1571.1,677.3 L1571.0,676.0 L1570.9,674.7 L1570.9,673.5 L1571.0,672.2 L1571.1,671.0 L1571.2,669.8 L1571.3,668.6 L1571.4,667.4 L1571.5,666.2 L1571.7,665.0 L1571.9,663.7 L1572.1,662.5 L1572.3,661.3 L1572.5,660.1 L1572.8,658.9 L1573.1,657.7 L1573.5,656.5 L1573.9,655.2 L1574.3,654.0 L1574.7,652.8 L1575.2,651.6 L1575.7,650.3 L1576.3,649.1 L1576.9,647.8 L1577.4,646.6 L1578.1,645.3 L1578.7,644.1 L1579.4,642.9 L1580.1,641.8 L1580.8,640.6 L1581.6,639.5 L1582.4,638.4 L1583.2,637.4 L1584.0,636.3 L1584.9,635.3 L1585.9,634.3 L1586.8,633.3 L1587.8,632.3 L1588.8,631.4 L1589.8,630.4 L1590.8,629.6 L1591.9,628.7 L1592.9,627.9 L1593.9,627.1 L1595.0,626.4 L1596.0,625.7 L1597.0,625.0 L1598.0,624.4 L1599.0,623.9 L1600.1,623.3 L1601.1,622.8 L1602.2,622.4 L1603.2,622.0 L1604.3,621.6 L1605.3,621.2 L1606.4,620.9 L1607.4,620.6 L1608.4,620.3 L1609.4,620.0 L1610.4,619.7 L1611.4,619.5 L1612.4,619.3 L1613.4,619.1 L1614.5,618.9 L1615.5,618.8 L1616.5,618.7 L1617.5,618.6 L1618.5,618.6 L1619.4,618.5 L1620.3,618.5 L1621.1,618.5 L1621.9,618.5 L1622.6,618.5 L1623.2,618.5 L1623.7,618.6 L1624.0,618.6 L1624.3,618.7 L1624.5,618.8 L1624.6,618.8 L1624.6,619.0 L1624.7,619.1 L1624.7,619.2 L1624.8,619.4 L1624.9,619.6 L1625.1,619.8 L1625.4,620.0 L1625.8,620.2 L1626.4,620.5 L1627.1,620.8 L1627.9,621.1 L1628.7,621.5 L1629.7,621.8 L1630.7,622.2 L1631.8,622.6 L1632.9,623.1 L1634.0,623.5 L1635.2,624.0 L1636.4,624.4 L1637.5,624.9 L1638.6,625.3 L1639.7,625.8 L1640.8,626.2 L1641.8,626.7 L1642.9,627.2 L1643.9,627.7 L1645.0,628.3 L1646.0,628.8 L1647.1,629.4 L1648.1,629.9 L1649.2,630.4 L1650.2,631.0 L1651.2,631.4 L1652.3,631.9 L1653.3,632.3 L1654.3,632.7 L1655.2,633.0 L1656.2,633.3 L1657.2,633.6 L1658.1,633.8 L1659.0,634.1 L1659.9,634.2 L1660.8,634.4 L1661.7,634.5 L1662.6,634.6 L1663.5,634.7 L1664.4,634.8 L1665.3,634.8 L1666.2,634.8 L1667.1,634.8 L1668.0,634.7 L1668.9,634.7 L1669.8,634.6 L1670.8,634.4 L1671.7,634.3 L1672.6,634.1 L1673.6,633.9 L1674.5,633.6 L1675.4,633.4 L1676.3,633.1 L1677.2,632.8 L1678.1,632.4 L1679.0,632.1 L1679.9,631.7 L1680.7,631.3 L1681.6,630.9 L1682.5,630.5 L1683.3,630.0 L1684.2,629.5 L1685.0,629.0 L1685.8,628.5 L1686.6,627.9 L1687.4,627.4 L1688.2,626.8 L1689.0,626.2 L1689.7,625.6 L1690.5,625.0 L1691.1,624.3 L1691.8,623.7 L1692.4,623.0 L1693.0,622.4 L1693.6,621.6 L1694.1,620.9 L1694.7,620.2 L1695.2,619.4 L1695.7,618.7 L1696.1,617.9 L1696.6,617.1 L1697.0,616.4 L1697.4,615.6 L1697.8,614.9 L1698.2,614.2 L1698.6,613.5 L1699.0,612.8 L1699.3,612.2 L1699.7,611.6 L1700.0,611.1 L1700.3,610.5 L1700.6,610.0 L1700.9,609.4 L1701.1,608.8 L1701.3,608.3 L1701.5,607.7 L1701.7,607.1 L1701.8,606.4 L1701.9,605.7 L1702.0,605.0 L1702.0,604.2 L1701.9,603.4 L1701.8,602.6 L1701.7,601.8 L1701.5,600.9 L1701.3,600.1 L1701.0,599.2 L1700.8,598.2 L1700.5,597.3 L1700.3,596.3 L1700.1,595.3 L1700.0,594.3 L1699.9,593.3 L1699.9,592.2 L1699.9,591.2 L1699.9,590.0 L1699.9,588.9 L1700.0,587.7 L1700.1,586.4 L1700.2,585.2 L1700.3,583.9 L1700.5,582.6 L1700.7,581.4 L1700.9,580.1 L1701.1,578.9 L1701.4,577.6 L1701.7,576.4 L1702.0,575.2 L1702.4,574.1 L1702.8,572.9 L1703.2,571.8 L1703.7,570.7 L1704.1,569.5 L1704.7,568.4 L1705.2,567.3 L1705.8,566.2 L1706.4,565.1 L1707.0,564.0 L1707.6,563.0 L1708.3,561.9 L1709.0,560.9 L1709.6,559.9 L1710.4,559.0 L1711.1,558.0 L1711.9,557.1 L1712.8,556.2 L1713.6,555.3 L1714.5,554.4 L1715.4,553.5 L1716.3,552.6 L1717.2,551.8 L1718.1,551.0 L1719.0,550.2 L1719.9,549.5 L1720.7,548.7 L1721.5,548.0 L1722.4,547.4 L1723.2,546.7 L1724.0,546.1 L1724.9,545.5 L1725.7,545.0 L1726.6,544.4 L1727.4,543.9 L1728.2,543.4 L1729.0,542.9 L1729.8,542.5 L1730.5,542.0 L1731.2,541.6 L1731.9,541.2 L1732.6,540.8 L1733.2,540.5 L1733.9,540.1 L1734.5,539.8 L1735.0,539.5 L1735.6,539.2 L1736.2,538.9 L1736.7,538.7 L1737.2,538.4 L1737.6,538.2 L1738.1,538.0 L1738.5,537.9 L1738.8,537.7 L1739.1,537.6 L1739.4,537.4" fill="none" stroke="#4CACBE" stroke-width="11.2" stroke-linecap="butt" stroke-linejoin="round"/>
<path d="M1568.7,696.7 L1569.1,696.0 L1569.5,695.3 L1569.9,694.5 L1570.3,693.7 L1570.6,692.9 L1570.9,692.0 L1571.2,691.2 L1571.4,690.2 L1571.6,689.2 L1571.7,688.2 L1571.8,687.1 L1571.8,686.0 L1571.7,684.8 L1571.7,683.6 L1571.6,682.4 L1571.4,681.1 L1571.3,679.8 L1571.2,678.6 L1571.1,677.3 L1571.0,676.0 L1570.9,674.7 L1570.9,673.5 L1571.0,672.2 L1571.1,671.0 L1571.2,669.8 L1571.3,668.6 L1571.4,667.4 L1571.5,666.2 L1571.7,665.0 L1571.9,663.7 L1572.1,662.5 L1572.3,661.3 L1572.5,660.1 L1572.8,658.9 L1573.1,657.7 L1573.5,656.5 L1573.9,655.2 L1574.3,654.0 L1574.7,652.8 L1575.2,651.6 L1575.7,650.3 L1576.3,649.1 L1576.9,647.8 L1577.4,646.6 L1578.1,645.3 L1578.7,644.1 L1579.4,642.9 L1580.1,641.8 L1580.8,640.6 L1581.6,639.5 L1582.4,638.4 L1583.2,637.4 L1584.0,636.3 L1584.9,635.3 L1585.9,634.3 L1586.8,633.3 L1587.8,632.3 L1588.8,631.4 L1589.8,630.4 L1590.8,629.6 L1591.9,628.7 L1592.9,627.9 L1593.9,627.1 L1595.0,626.4 L1596.0,625.7 L1597.0,625.0 L1598.0,624.4 L1599.0,623.9 L1600.1,623.3 L1601.1,622.8 L1602.2,622.4 L1603.2,622.0 L1604.3,621.6 L1605.3,621.2 L1606.4,620.9 L1607.4,620.6 L1608.4,620.3 L1609.4,620.0 L1610.4,619.7 L1611.4,619.5 L1612.4,619.3" fill="none" stroke="#2E8DA1" stroke-width="12.799999999999999" stroke-linecap="butt" stroke-linejoin="round"/>
<path d="M1700.3,610.5 L1700.6,610.0 L1700.9,609.4 L1701.1,608.8 L1701.3,608.3 L1701.5,607.7 L1701.7,607.1 L1701.8,606.4 L1701.9,605.7 L1702.0,605.0 L1702.0,604.2 L1701.9,603.4 L1701.8,602.6 L1701.7,601.8 L1701.5,600.9 L1701.3,600.1 L1701.0,599.2 L1700.8,598.2 L1700.5,597.3 L1700.3,596.3 L1700.1,595.3 L1700.0,594.3 L1699.9,593.3 L1699.9,592.2 L1699.9,591.2 L1699.9,590.0 L1699.9,588.9 L1700.0,587.7 L1700.1,586.4 L1700.2,585.2 L1700.3,583.9 L1700.5,582.6 L1700.7,581.4 L1700.9,580.1 L1701.1,578.9 L1701.4,577.6 L1701.7,576.4 L1702.0,575.2 L1702.4,574.1 L1702.8,572.9 L1703.2,571.8 L1703.7,570.7 L1704.1,569.5 L1704.7,568.4 L1705.2,567.3 L1705.8,566.2 L1706.4,565.1 L1707.0,564.0 L1707.6,563.0 L1708.3,561.9 L1709.0,560.9 L1709.6,559.9 L1710.4,559.0 L1711.1,558.0 L1711.9,557.1 L1712.8,556.2 L1713.6,555.3 L1714.5,554.4 L1715.4,553.5 L1716.3,552.6 L1717.2,551.8 L1718.1,551.0 L1719.0,550.2 L1719.9,549.5 L1720.7,548.7 L1721.5,548.0 L1722.4,547.4 L1723.2,546.7 L1724.0,546.1 L1724.9,545.5 L1725.7,545.0 L1726.6,544.4 L1727.4,543.9 L1728.2,543.4 L1729.0,542.9 L1729.8,542.5 L1730.5,542.0 L1731.2,541.6 L1731.9,541.2 L1732.6,540.8 L1733.2,540.5 L1733.9,540.1 L1734.5,539.8 L1735.0,539.5 L1735.6,539.2 L1736.2,538.9 L1736.7,538.7 L1737.2,538.4 L1737.6,538.2 L1738.1,538.0 L1738.5,537.9 L1738.8,537.7 L1739.1,537.6 L1739.4,537.4" fill="none" stroke="#2E8DA1" stroke-width="12.799999999999999" stroke-linecap="butt" stroke-linejoin="round"/>
<path d="M1490.0,693.1 L1490.3,692.7 L1490.6,692.2 L1491.0,691.6 L1491.4,690.9 L1491.9,690.2 L1492.4,689.4 L1492.9,688.6 L1493.5,687.8 L1494.0,687.0 L1494.6,686.2 L1495.3,685.4 L1495.9,684.6 L1496.5,683.9 L1497.2,683.3 L1497.9,682.7 L1498.5,682.1 L1499.2,681.5 L1499.9,680.9 L1500.6,680.4 L1501.4,679.8 L1502.1,679.3 L1502.9,678.8 L1503.7,678.3 L1504.5,677.8 L1505.4,677.3 L1506.3,676.9 L1507.3,676.5 L1508.2,676.1 L1509.3,675.7 L1510.4,675.3 L1511.5,675.0 L1512.7,674.6 L1513.9,674.3 L1515.1,674.0 L1516.4,673.7 L1517.7,673.5 L1518.9,673.2 L1520.2,673.0 L1521.5,672.8 L1522.8,672.7 L1524.0,672.5 L1525.2,672.4 L1526.5,672.3 L1527.7,672.3 L1529.0,672.3 L1530.2,672.3 L1531.5,672.3 L1532.8,672.3 L1534.0,672.4 L1535.3,672.5 L1536.5,672.6 L1537.7,672.7 L1538.9,672.8 L1540.0,673.0 L1541.2,673.1 L1542.2,673.3 L1543.3,673.4 L1544.3,673.6 L1545.3,673.8 L1546.2,674.0 L1547.1,674.2 L1548.0,674.4 L1548.9,674.7 L1549.8,674.9 L1550.6,675.2 L1551.5,675.5 L1552.3,675.7 L1553.2,676.0 L1554.1,676.4 L1555.0,676.7 L1555.9,677.0 L1556.8,677.4 L1557.8,677.8 L1558.7,678.2 L1559.7,678.6 L1560.6,679.0 L1561.6,679.5 L1562.5,679.9 L1563.4,680.3 L1564.4,680.8 L1565.2,681.2 L1566.1,681.6 L1566.9,681.9 L1567.7,682.3 L1568.5,682.6 L1569.2,682.9 L1569.9,683.2 L1570.6,683.5 L1571.2,683.8 L1571.9,684.1 L1572.5,684.3 L1573.1,684.6 L1573.7,684.8 L1574.3,685.1 L1575.0,685.3 L1575.7,685.5 L1576.4,685.7 L1577.1,685.8 L1577.9,686.0 L1578.7,686.2 L1579.5,686.3 L1580.3,686.5 L1581.1,686.6 L1582.0,686.7 L1582.8,686.8 L1583.7,686.9 L1584.6,687.0 L1585.5,687.0 L1586.3,687.0 L1587.2,687.0 L1588.1,686.9 L1589.0,686.9 L1589.9,686.8 L1590.8,686.7 L1591.7,686.5 L1592.6,686.4 L1593.5,686.2 L1594.4,686.1 L1595.3,685.8 L1596.2,685.6 L1597.2,685.3 L1598.1,685.0 L1599.0,684.6 L1599.9,684.2 L1600.8,683.7 L1601.7,683.1 L1602.7,682.5 L1603.6,681.9 L1604.6,681.1 L1605.5,680.4 L1606.5,679.6 L1607.5,678.7 L1608.4,677.8 L1609.4,676.9 L1610.3,675.9 L1611.2,674.9 L1612.1,673.9 L1612.9,672.8 L1613.7,671.7 L1614.5,670.5 L1615.2,669.4 L1615.9,668.1 L1616.5,666.8 L1617.2,665.4 L1617.8,664.0 L1618.4,662.5 L1618.9,661.0 L1619.4,659.6 L1619.9,658.1 L1620.4,656.6 L1620.9,655.1 L1621.3,653.7 L1621.7,652.3 L1622.1,651.0 L1622.5,649.7 L1622.9,648.4 L1623.2,647.1 L1623.5,645.9 L1623.8,644.6 L1624.0,643.4 L1624.3,642.1 L1624.5,640.9 L1624.7,639.7 L1624.9,638.5 L1625.1,637.4 L1625.2,636.2 L1625.4,635.1 L1625.5,634.0 L1625.7,632.9 L1625.8,631.9 L1625.9,630.9 L1626.0,629.9 L1626.0,629.0 L1626.0,628.1 L1626.1,627.2 L1626.1,626.2 L1626.1,625.3 L1626.2,624.4 L1626.2,623.5 L1626.3,622.5 L1626.3,621.5 L1626.4,620.5 L1626.5,619.4 L1626.5,618.3 L1626.5,617.2 L1626.6,616.0 L1626.6,614.9 L1626.6,613.7 L1626.6,612.5 L1626.7,611.3 L1626.8,610.2 L1626.9,609.0 L1627.1,607.9 L1627.4,606.9 L1627.7,605.9 L1628.0,605.0 L1628.5,604.1 L1629.0,603.3 L1629.5,602.5 L1630.1,601.7 L1630.8,601.0 L1631.5,600.3 L1632.2,599.6 L1633.0,599.0 L1633.8,598.3 L1634.6,597.8 L1635.5,597.2 L1636.4,596.7 L1637.3,596.1 L1638.2,595.6 L1639.3,595.2 L1640.3,594.7 L1641.4,594.3 L1642.6,594.0 L1643.8,593.6 L1645.1,593.3 L1646.3,593.0 L1647.6,592.7 L1648.9,592.4 L1650.2,592.2 L1651.5,592.0 L1652.8,591.8 L1654.0,591.7 L1655.2,591.6 L1656.5,591.5 L1657.7,591.4 L1659.0,591.4 L1660.2,591.4 L1661.5,591.4 L1662.8,591.4 L1664.0,591.5 L1665.3,591.6 L1666.5,591.7 L1667.7,591.8 L1668.9,592.0 L1670.0,592.1 L1671.2,592.3 L1672.2,592.4 L1673.3,592.6 L1674.3,592.8 L1675.3,593.0 L1676.3,593.2 L1677.2,593.5 L1678.1,593.7 L1679.0,594.0 L1679.9,594.3 L1680.7,594.6 L1681.6,594.9 L1682.5,595.2 L1683.3,595.5 L1684.1,595.8 L1685.0,596.1 L1685.8,596.4 L1686.7,596.7 L1687.5,597.0 L1688.3,597.3 L1689.1,597.7 L1689.9,598.0 L1690.7,598.4 L1691.5,598.7 L1692.2,599.1 L1693.0,599.4 L1693.8,599.8 L1694.5,600.1 L1695.3,600.4 L1696.0,600.7 L1696.8,601.1 L1697.5,601.4 L1698.2,601.7 L1698.9,602.1 L1699.6,602.4 L1700.3,602.7 L1701.0,603.0 L1701.7,603.4 L1702.5,603.7 L1703.2,604.0 L1703.9,604.3 L1704.7,604.5 L1705.4,604.8 L1706.2,605.0 L1707.1,605.2 L1707.9,605.5 L1708.8,605.7 L1709.7,605.9 L1710.6,606.1 L1711.5,606.3 L1712.4,606.5 L1713.3,606.7 L1714.3,606.8 L1715.2,606.9 L1716.2,607.0 L1717.1,607.0 L1718.1,607.0 L1719.0,606.9 L1720.0,606.7 L1720.9,606.6 L1721.9,606.4 L1722.9,606.1 L1723.9,605.8 L1724.9,605.5 L1726.0,605.2 L1727.0,604.8 L1728.0,604.4 L1728.9,603.9 L1729.9,603.4 L1730.8,602.9 L1731.7,602.4 L1732.6,601.8 L1733.4,601.1 L1734.3,600.4 L1735.1,599.7 L1735.9,598.9 L1736.7,598.1 L1737.4,597.2 L1738.2,596.3 L1738.9,595.4 L1739.6,594.5 L1740.3,593.5 L1741.0,592.6 L1741.6,591.6 L1742.2,590.7 L1742.8,589.7 L1743.4,588.7 L1743.9,587.7 L1744.4,586.7 L1744.9,585.6 L1745.4,584.6 L1745.9,583.5 L1746.3,582.4 L1746.7,581.3 L1747.1,580.3 L1747.5,579.2 L1747.9,578.2 L1748.2,577.2 L1748.5,576.2 L1748.7,575.2 L1749.0,574.4 L1749.2,573.5 L1749.4,572.6 L1749.6,571.8 L1749.7,571.0 L1749.8,570.2 L1749.9,569.5 L1750.0,568.7 L1750.0,567.9 L1750.1,567.2 L1750.1,566.4 L1750.1,565.7 L1750.1,565.0 L1750.0,564.2 L1750.0,563.4 L1749.9,562.7 L1749.8,561.9 L1749.7,561.2 L1749.5,560.4 L1749.4,559.7 L1749.2,559.0 L1749.0,558.2 L1748.8,557.5 L1748.6,556.8 L1748.3,556.1 L1748.0,555.4 L1747.8,554.7 L1747.5,554.0 L1747.1,553.3 L1746.7,552.6 L1746.3,551.8 L1745.8,551.1 L1745.4,550.4 L1744.8,549.6 L1744.3,548.9 L1743.8,548.2 L1743.3,547.6 L1742.9,546.9 L1742.5,546.4 L1742.1,545.9 L1741.8,545.4 L1741.5,545.1" fill="none" stroke="#4CACBE" stroke-width="11.2" stroke-linecap="butt" stroke-linejoin="round"/>
<path d="M1490.0,693.1 L1490.3,692.7 L1490.6,692.2 L1491.0,691.6 L1491.4,690.9 L1491.9,690.2 L1492.4,689.4 L1492.9,688.6 L1493.5,687.8 L1494.0,687.0 L1494.6,686.2 L1495.3,685.4 L1495.9,684.6 L1496.5,683.9 L1497.2,683.3 L1497.9,682.7 L1498.5,682.1 L1499.2,681.5 L1499.9,680.9 L1500.6,680.4 L1501.4,679.8 L1502.1,679.3 L1502.9,678.8" fill="none" stroke="#3B9BAE" stroke-width="11.2" stroke-linecap="butt" stroke-linejoin="round"/>
<path d="M1604.6,681.1 L1605.5,680.4 L1606.5,679.6 L1607.5,678.7 L1608.4,677.8 L1609.4,676.9 L1610.3,675.9 L1611.2,674.9 L1612.1,673.9 L1612.9,672.8 L1613.7,671.7 L1614.5,670.5 L1615.2,669.4 L1615.9,668.1 L1616.5,666.8 L1617.2,665.4 L1617.8,664.0 L1618.4,662.5 L1618.9,661.0 L1619.4,659.6 L1619.9,658.1 L1620.4,656.6 L1620.9,655.1 L1621.3,653.7 L1621.7,652.3 L1622.1,651.0 L1622.5,649.7 L1622.9,648.4 L1623.2,647.1 L1623.5,645.9 L1623.8,644.6 L1624.0,643.4 L1624.3,642.1 L1624.5,640.9 L1624.7,639.7 L1624.9,638.5 L1625.1,637.4 L1625.2,636.2 L1625.4,635.1 L1625.5,634.0 L1625.7,632.9 L1625.8,631.9 L1625.9,630.9 L1626.0,629.9 L1626.0,629.0 L1626.0,628.1 L1626.1,627.2 L1626.1,626.2 L1626.1,625.3 L1626.2,624.4 L1626.2,623.5 L1626.3,622.5 L1626.3,621.5 L1626.4,620.5 L1626.5,619.4 L1626.5,618.3 L1626.5,617.2 L1626.6,616.0 L1626.6,614.9 L1626.6,613.7 L1626.6,612.5 L1626.7,611.3" fill="none" stroke="#3B9BAE" stroke-width="11.6" stroke-linecap="butt" stroke-linejoin="round"/>
<path d="M1626.8,610.2 L1626.9,609.0 L1627.1,607.9 L1627.4,606.9 L1627.7,605.9 L1628.0,605.0 L1628.5,604.1 L1629.0,603.3 L1629.5,602.5 L1630.1,601.7 L1630.8,601.0 L1631.5,600.3 L1632.2,599.6 L1633.0,599.0 L1633.8,598.3 L1634.6,597.8 L1635.5,597.2 L1636.4,596.7 L1637.3,596.1 L1638.2,595.6" fill="none" stroke="#3B9BAE" stroke-width="11.2" stroke-linecap="butt" stroke-linejoin="round"/>
<path d="M1739.6,594.5 L1740.3,593.5 L1741.0,592.6 L1741.6,591.6 L1742.2,590.7 L1742.8,589.7 L1743.4,588.7 L1743.9,587.7 L1744.4,586.7 L1744.9,585.6 L1745.4,584.6 L1745.9,583.5 L1746.3,582.4 L1746.7,581.3 L1747.1,580.3 L1747.5,579.2 L1747.9,578.2 L1748.2,577.2 L1748.5,576.2 L1748.7,575.2 L1749.0,574.4 L1749.2,573.5 L1749.4,572.6 L1749.6,571.8 L1749.7,571.0 L1749.8,570.2 L1749.9,569.5 L1750.0,568.7 L1750.0,567.9 L1750.1,567.2 L1750.1,566.4 L1750.1,565.7 L1750.1,565.0 L1750.0,564.2 L1750.0,563.4 L1749.9,562.7 L1749.8,561.9 L1749.7,561.2 L1749.5,560.4 L1749.4,559.7 L1749.2,559.0 L1749.0,558.2 L1748.8,557.5 L1748.6,556.8 L1748.3,556.1 L1748.0,555.4 L1747.8,554.7 L1747.5,554.0 L1747.1,553.3 L1746.7,552.6 L1746.3,551.8 L1745.8,551.1 L1745.4,550.4 L1744.8,549.6 L1744.3,548.9 L1743.8,548.2 L1743.3,547.6 L1742.9,546.9 L1742.5,546.4 L1742.1,545.9 L1741.8,545.4 L1741.5,545.1" fill="none" stroke="#3B9BAE" stroke-width="11.6" stroke-linecap="butt" stroke-linejoin="round"/>
<path d="M1525.2,672.4 L1526.5,672.3 L1527.7,672.3 L1529.0,672.3 L1530.2,672.3 L1531.5,672.3 L1532.8,672.3 L1534.0,672.4 L1535.3,672.5 L1536.5,672.6 L1537.7,672.7 L1538.9,672.8 L1540.0,673.0 L1541.2,673.1 L1542.2,673.3 L1543.3,673.4 L1544.3,673.6 L1545.3,673.8 L1546.2,674.0 L1547.1,674.2 L1548.0,674.4 L1548.9,674.7 L1549.8,674.9 L1550.6,675.2 L1551.5,675.5 L1552.3,675.7 L1553.2,676.0 L1554.1,676.4 L1555.0,676.7 L1555.9,677.0 L1556.8,677.4 L1557.8,677.8 L1558.7,678.2 L1559.7,678.6 L1560.6,679.0 L1561.6,679.5 L1562.5,679.9 L1563.4,680.3 L1564.4,680.8 L1565.2,681.2 L1566.1,681.6 L1566.9,681.9 L1567.7,682.3 L1568.5,682.6 L1569.2,682.9 L1569.9,683.2 L1570.6,683.5 L1571.2,683.8 L1571.9,684.1 L1572.5,684.3 L1573.1,684.6 L1573.7,684.8 L1574.3,685.1 L1575.0,685.3 L1575.7,685.5 L1576.4,685.7 L1577.1,685.8 L1577.9,686.0 L1578.7,686.2 L1579.5,686.3 L1580.3,686.5 L1581.1,686.6 L1582.0,686.7 L1582.8,686.8 L1583.7,686.9 L1584.6,687.0 L1585.5,687.0 L1586.3,687.0 L1587.2,687.0 L1588.1,686.9 L1589.0,686.9 L1589.9,686.8 L1590.8,686.7 L1591.7,686.5 L1592.6,686.4 L1593.5,686.2 L1594.4,686.1 L1595.3,685.8 L1596.2,685.6 L1597.2,685.3 L1598.1,685.0 L1599.0,684.6 L1599.9,684.2 L1600.8,683.7 L1601.7,683.1 L1602.7,682.5 L1603.6,681.9 L1604.6,681.1 L1605.5,680.4 L1606.5,679.6" fill="none" stroke="#4CACBE" stroke-width="11.6" stroke-linecap="butt" stroke-linejoin="round"/>
<path d="M1664.0,591.5 L1665.3,591.6 L1666.5,591.7 L1667.7,591.8 L1668.9,592.0 L1670.0,592.1 L1671.2,592.3 L1672.2,592.4 L1673.3,592.6 L1674.3,592.8 L1675.3,593.0 L1676.3,593.2 L1677.2,593.5 L1678.1,593.7 L1679.0,594.0 L1679.9,594.3 L1680.7,594.6 L1681.6,594.9 L1682.5,595.2 L1683.3,595.5 L1684.1,595.8 L1685.0,596.1 L1685.8,596.4 L1686.7,596.7 L1687.5,597.0 L1688.3,597.3 L1689.1,597.7 L1689.9,598.0 L1690.7,598.4 L1691.5,598.7 L1692.2,599.1 L1693.0,599.4 L1693.8,599.8 L1694.5,600.1 L1695.3,600.4 L1696.0,600.7 L1696.8,601.1 L1697.5,601.4 L1698.2,601.7 L1698.9,602.1 L1699.6,602.4 L1700.3,602.7 L1701.0,603.0 L1701.7,603.4 L1702.5,603.7 L1703.2,604.0 L1703.9,604.3 L1704.7,604.5 L1705.4,604.8 L1706.2,605.0 L1707.1,605.2 L1707.9,605.5 L1708.8,605.7 L1709.7,605.9 L1710.6,606.1 L1711.5,606.3 L1712.4,606.5 L1713.3,606.7 L1714.3,606.8 L1715.2,606.9 L1716.2,607.0 L1717.1,607.0 L1718.1,607.0 L1719.0,606.9 L1720.0,606.7 L1720.9,606.6 L1721.9,606.4 L1722.9,606.1 L1723.9,605.8 L1724.9,605.5 L1726.0,605.2 L1727.0,604.8 L1728.0,604.4 L1728.9,603.9 L1729.9,603.4 L1730.8,602.9 L1731.7,602.4 L1732.6,601.8 L1733.4,601.1 L1734.3,600.4 L1735.1,599.7 L1735.9,598.9 L1736.7,598.1 L1737.4,597.2 L1738.2,596.3 L1738.9,595.4 L1739.6,594.5 L1740.3,593.5 L1741.0,592.6" fill="none" stroke="#4CACBE" stroke-width="11.6" stroke-linecap="butt" stroke-linejoin="round"/>
<path d="M1605.3,621.2 L1606.4,620.9 L1607.4,620.6 L1608.4,620.3 L1609.4,620.0 L1610.4,619.7 L1611.4,619.5 L1612.4,619.3 L1613.4,619.1 L1614.5,618.9 L1615.5,618.8 L1616.5,618.7 L1617.5,618.6 L1618.5,618.6 L1619.4,618.5 L1620.3,618.5 L1621.1,618.5 L1621.9,618.5 L1622.6,618.5 L1623.2,618.5 L1623.7,618.6 L1624.0,618.6 L1624.3,618.7 L1624.5,618.8 L1624.6,618.8 L1624.6,619.0 L1624.7,619.1 L1624.7,619.2 L1624.8,619.4 L1624.9,619.6 L1625.1,619.8 L1625.4,620.0 L1625.8,620.2 L1626.4,620.5 L1627.1,620.8 L1627.9,621.1 L1628.7,621.5 L1629.7,621.8 L1630.7,622.2 L1631.8,622.6 L1632.9,623.1 L1634.0,623.5 L1635.2,624.0 L1636.4,624.4 L1637.5,624.9 L1638.6,625.3 L1639.7,625.8 L1640.8,626.2 L1641.8,626.7 L1642.9,627.2 L1643.9,627.7 L1645.0,628.3 L1646.0,628.8 L1647.1,629.4 L1648.1,629.9 L1649.2,630.4 L1650.2,631.0 L1651.2,631.4 L1652.3,631.9 L1653.3,632.3 L1654.3,632.7 L1655.2,633.0 L1656.2,633.3 L1657.2,633.6 L1658.1,633.8 L1659.0,634.1 L1659.9,634.2 L1660.8,634.4 L1661.7,634.5 L1662.6,634.6 L1663.5,634.7 L1664.4,634.8 L1665.3,634.8 L1666.2,634.8 L1667.1,634.8 L1668.0,634.7 L1668.9,634.7 L1669.8,634.6 L1670.8,634.4 L1671.7,634.3 L1672.6,634.1 L1673.6,633.9 L1674.5,633.6" fill="none" stroke="#4CACBE" stroke-width="11.6" stroke-linecap="butt" stroke-linejoin="round"/>
<path d="M1507.3,676.5 L1508.2,676.1 L1509.3,675.7 L1510.4,675.3 L1511.5,675.0 L1512.7,674.6 L1513.9,674.3 L1515.1,674.0 L1516.4,673.7 L1517.7,673.5 L1518.9,673.2 L1520.2,673.0 L1521.5,672.8 L1522.8,672.7 L1524.0,672.5 L1525.2,672.4 L1526.5,672.3 L1527.7,672.3 L1529.0,672.3 L1530.2,672.3 L1531.5,672.3 L1532.8,672.3 L1534.0,672.4 L1535.3,672.5 L1536.5,672.6 L1537.7,672.7 L1538.9,672.8 L1540.0,673.0 L1541.2,673.1 L1542.2,673.3 L1543.3,673.4 L1544.3,673.6 L1545.3,673.8 L1546.2,674.0" fill="none" stroke="#7EC6D2" stroke-width="6.2" stroke-linecap="round" stroke-linejoin="round"/>
<path d="M1637.3,596.1 L1638.2,595.6 L1639.3,595.2 L1640.3,594.7 L1641.4,594.3 L1642.6,594.0 L1643.8,593.6 L1645.1,593.3 L1646.3,593.0 L1647.6,592.7 L1648.9,592.4 L1650.2,592.2 L1651.5,592.0 L1652.8,591.8 L1654.0,591.7 L1655.2,591.6 L1656.5,591.5 L1657.7,591.4 L1659.0,591.4 L1660.2,591.4 L1661.5,591.4 L1662.8,591.4 L1664.0,591.5 L1665.3,591.6 L1666.5,591.7 L1667.7,591.8 L1668.9,592.0 L1670.0,592.1 L1671.2,592.3 L1672.2,592.4 L1673.3,592.6 L1674.3,592.8 L1675.3,593.0 L1676.3,593.2" fill="none" stroke="#7EC6D2" stroke-width="6.2" stroke-linecap="round" stroke-linejoin="round"/>
<path d="M1599.0,623.9 L1600.1,623.3 L1601.1,622.8 L1602.2,622.4 L1603.2,622.0 L1604.3,621.6 L1605.3,621.2 L1606.4,620.9 L1607.4,620.6 L1608.4,620.3 L1609.4,620.0 L1610.4,619.7 L1611.4,619.5 L1612.4,619.3 L1613.4,619.1 L1614.5,618.9 L1615.5,618.8 L1616.5,618.7 L1617.5,618.6 L1618.5,618.6 L1619.4,618.5 L1620.3,618.5 L1621.1,618.5 L1621.9,618.5 L1622.6,618.5 L1623.2,618.5 L1623.7,618.6 L1624.0,618.6 L1624.3,618.7 L1624.5,618.8 L1624.6,618.8 L1624.6,619.0 L1624.7,619.1 L1624.7,619.2" fill="none" stroke="#7EC6D2" stroke-width="6.2" stroke-linecap="round" stroke-linejoin="round"/>
<path d="M1724.0,546.1 L1724.9,545.5 L1725.7,545.0 L1726.6,544.4 L1727.4,543.9 L1728.2,543.4 L1729.0,542.9 L1729.8,542.5 L1730.5,542.0 L1731.2,541.6 L1731.9,541.2 L1732.6,540.8 L1733.2,540.5 L1733.9,540.1 L1734.5,539.8 L1735.0,539.5 L1735.6,539.2 L1736.2,538.9 L1736.7,538.7 L1737.2,538.4 L1737.6,538.2 L1738.1,538.0 L1738.5,537.9 L1738.8,537.7 L1739.1,537.6 L1739.4,537.4" fill="none" stroke="#7EC6D2" stroke-width="6.5" stroke-linecap="round" stroke-linejoin="round"/>
<path d="M1738.4,531.8 L1742.9,542.4 L1735.4,543.4 Z" fill="#7EC6D2"/>
<path d="M1480.5,692.6 L1497.5,694.6 L1499.0,706.1 L1496.5,719.1 L1487.5,705.1 Z" fill="#4CACBE"/>
<ellipse cx="1490.5" cy="697.3" rx="9.8" ry="3.4" fill="#7EC6D2" transform="rotate(9 1490.0 697.1)"/>
</g>
<g id="vial">
<defs><clipPath id="vialclip"><path d="M782.8,1441.3 L782.8,1445.8 Q782.4,1450.3 769.8,1453.9 Q762.6,1456.2 762.6,1462.0 L762.6,1570.0 Q763.0,1579.0 775.2,1582.2 Q804.9,1587.1 833.7,1582.2 Q845.9,1579.0 846.3,1570.0 L846.3,1462.0 Q846.3,1456.2 839.1,1453.9 Q827.4,1450.3 827.0,1445.8 L827.0,1441.3 Z"/></clipPath></defs>
<path d="M782.8,1441.3 L782.8,1445.8 Q782.4,1450.3 769.8,1453.9 Q762.6,1456.2 762.6,1462.0 L762.6,1570.0 Q763.0,1579.0 775.2,1582.2 Q804.9,1587.1 833.7,1582.2 Q845.9,1579.0 846.3,1570.0 L846.3,1462.0 Q846.3,1456.2 839.1,1453.9 Q827.4,1450.3 827.0,1445.8 L827.0,1441.3 Z" fill="#F4F6F8"/>
<g clip-path="url(#vialclip)">
<rect x="760.8" y="1490.8" width="90" height="110" fill="#6DB3E4"/>
<path d="M760.8,1483.6 Q804.9,1478.2 848.1,1483.6 L848.1,1498.0 Q804.9,1507.9 760.8,1498.0 Z" fill="#9FD0EE"/>
<path d="M760.8,1566.4 Q804.9,1548.4 848.1,1566.4 L848.1,1588.0 L760.8,1588.0 Z" fill="#4A98DB"/>
<path d="M765.3,1465.6 L768.9,1465.6 L771.6,1577.2 L766.2,1573.6 Z" fill="#fff" opacity="0.22"/>
<path d="M846.3,1498.0 Q838.2,1552.0 804.0,1583.5 L846.3,1583.5 Z" fill="#fff" opacity="0.22"/>
<path d="M763.5,1469.2 Q804.9,1475.5 845.4,1469.2" fill="none" stroke="#fff" stroke-width="2.2" opacity="0.9"/>
</g>
<path d="M782.8,1441.3 L782.8,1445.8 Q782.4,1450.3 769.8,1453.9 Q762.6,1456.2 762.6,1462.0 L762.6,1570.0 Q763.0,1579.0 775.2,1582.2 Q804.9,1587.1 833.7,1582.2 Q845.9,1579.0 846.3,1570.0 L846.3,1462.0 Q846.3,1456.2 839.1,1453.9 Q827.4,1450.3 827.0,1445.8 L827.0,1441.3 Z" fill="none" stroke="#55555e" stroke-width="1.4"/>
<path d="M769.8,1417.0 L769.8,1434.1 Q770.2,1438.6 782.4,1441.3 Q804.9,1444.9 827.4,1441.3 Q838.7,1438.6 839.1,1434.1 L839.1,1417.0 Z" fill="#8A8A90" stroke="#55555e" stroke-width="1.1"/>
<ellipse cx="804.4" cy="1417.0" rx="34.6" ry="10.4" fill="#A4A5AD" stroke="#55555e" stroke-width="1.1"/>
<ellipse cx="800.8" cy="1416.6" rx="27.4" ry="6.3" fill="#DDE2EA"/>
<g transform="translate(677.1,1676.2) rotate(-28.45)">
<path d="M0,0.8 L7,-0.85 L84,-0.85 L84,0.85 L1,0.85 Z" fill="#85858d"/>
<path d="M83,-2.6 L92,-3.8 L103,-4.6 L105,-3 L105,3 L103,4.6 L92,3.8 L83,2.6 Z" fill="#57C2B6" stroke="#2f8f88" stroke-width="0.7"/>
<path d="M105,-2.8 L115,-3.3 L115,3.3 L105,2.8 Z" fill="#8FBCE2" stroke="#5c86ad" stroke-width="0.7"/>
<path d="M115,-9 L122,-9.5 L130,-15.5 L168,-15.5 L168,15.5 L130,15.5 L122,9.5 L115,9 Z" fill="#7FB4E1" stroke="#56779a" stroke-width="0.9"/>
<path d="M124,-9 L131,-13.5 L166,-13.5 L166,-5 L124,-4 Z" fill="#A6CCEC" opacity="0.8"/>
<rect x="160" y="-16.2" width="150" height="32.4" rx="2" fill="#D6D6DE" fill-opacity="0.8" stroke="#7f7f89" stroke-width="1.6"/>
<rect x="159" y="-16.2" width="9" height="32.4" rx="2.5" fill="#A9A9B2" stroke="#7c7c86" stroke-width="0.9"/>
<line x1="162" y1="-16" x2="162" y2="16" stroke="#85858f" stroke-width="0.8"/><line x1="165" y1="-16" x2="165" y2="16" stroke="#85858f" stroke-width="0.8"/>
<line x1="170" y1="-3.5" x2="306" y2="-3.5" stroke="#9a9aa4" stroke-width="1"/>
<line x1="170" y1="4.5" x2="306" y2="4.5" stroke="#9a9aa4" stroke-width="1"/>
<line x1="170" y1="-11" x2="306" y2="-11" stroke="#ececf2" stroke-width="2.2"/>
<line x1="170" y1="11" x2="306" y2="11" stroke="#b9b9c3" stroke-width="1.4"/>
<path d="M312,-10.5 L350,-6 L350,6 L312,10.5 Z" fill="#CFCFD8" stroke="#85858f" stroke-width="1"/>
<path d="M312,-2 L350,-1 L350,1 L312,2 Z" fill="#a9a9b3"/>
<ellipse cx="308" cy="0" rx="5.6" ry="36" fill="#DCDCE3" fill-opacity="0.9" stroke="#7f7f89" stroke-width="1.6"/>
<ellipse cx="309.5" cy="0" rx="2.6" ry="30" fill="none" stroke="#a6a6b0" stroke-width="0.9"/>
<ellipse cx="352" cy="0" rx="4.6" ry="22" fill="#DCDCE3" stroke="#7f7f89" stroke-width="1.6"/>
<ellipse cx="353" cy="0" rx="2" ry="17" fill="none" stroke="#a6a6b0" stroke-width="0.8"/>
</g>
</g>
<g id="pills">
<defs><clipPath id="capclip"><rect x="-127.0" y="-47.5" width="254.0" height="95.0" rx="47.5"/></clipPath></defs>
<g transform="translate(1212.6,1485.2) rotate(-7.6)">
<g clip-path="url(#capclip)">
<rect x="-127.0" y="-47.5" width="122.5" height="95.0" fill="#DCE3DF"/>
<rect x="-4.5" y="-47.5" width="131.5" height="95.0" fill="#DB5755"/>
<path d="M-132.0,8 C-117.0,38.5 -40,37.5 -4.5,32.5 L-4.5,52.5 L-132.0,52.5 Z" fill="#C6CBC8"/>
<path d="M-4.5,32.5 C60,33.5 97.0,31.5 132.0,-5 L132.0,52.5 L-4.5,52.5 Z" fill="#C44B4A"/>
<path d="M-115.0,10 C-117.0,-26 -70,-33 -20,-36 C-60,-25 -93.0,-20 -115.0,10 Z" fill="#F4F8F6"/>
<path d="M12,-30 C50,-38 92,-38 108.0,-8 C100.0,-22 82.0,-31 90,-29.5 C60,-28 30,-25 12,-30 Z" fill="#F2A3A3"/>
</g>
<line x1="-4.5" y1="-47.5" x2="-4.5" y2="47.5" stroke="#3A3242" stroke-width="1.1"/>
<rect x="-127.0" y="-47.5" width="254.0" height="95.0" rx="47.5" fill="none" stroke="#3A3242" stroke-width="1.5"/>
</g>
<path d="M1194.0,1559.9 L1194.0,1584.4 A65.0,49.6 0 0 0 1324.0,1584.4 L1324.0,1559.9 Z" fill="#A9B9CC" stroke="#3A3242" stroke-width="1.5"/>
<ellipse cx="1259.0" cy="1559.9" rx="65.0" ry="49.6" fill="#D8EBF8"/>
<ellipse cx="1259.0" cy="1560.4" rx="61.0" ry="45.6" fill="#DDEFFB"/>
<path d="M1196.0,1556.7 L1322.0,1556.7 L1323.0,1562.5 L1195.0,1562.5 Z" fill="#BBDDF2"/>
<path d="M1197.0,1562.5 L1321.0,1562.5 L1320.0,1565.9 L1198.0,1565.9 Z" fill="#EAF5FC"/>
<path d="M1194.0,1561.9 A65.0,49.6 0 0 1 1324.0,1561.9" fill="none" stroke="#3A3242" stroke-width="1.5"/>
<path d="M1194.8,1565.9 A65.0,49.6 0 0 0 1323.2,1565.9" fill="none" stroke="#C3D6E6" stroke-width="1.2"/>
</g>
<g id="labels">
<text x="207.0" y="385.0" font-size="36.6" font-weight="normal" fill="#111" textLength="204.0" lengthAdjust="spacing" stroke="#111" stroke-width="0.35">Female sex</text>
<text x="541.0" y="371.4" font-size="36.6" font-weight="normal" fill="#111" textLength="402.0" lengthAdjust="spacing" stroke="#111" stroke-width="0.35">Medical comorbidities</text>
<text x="528.0" y="413.8" font-size="36.6" font-weight="normal" fill="#111" textLength="429.0" lengthAdjust="spacing" stroke="#111" stroke-width="0.35">(e.g., diabetes, obesity)</text>
<text x="1085.0" y="382.2" font-size="36.6" font-weight="normal" fill="#111" textLength="232.0" lengthAdjust="spacing" stroke="#111" stroke-width="0.35">Pre-Omicron</text>
<text x="1132.0" y="425.2" font-size="36.6" font-weight="normal" fill="#111" textLength="141.0" lengthAdjust="spacing" stroke="#111" stroke-width="0.35">variants</text>
<text x="1515.0" y="371.4" font-size="36.6" font-weight="normal" fill="#111" textLength="233.0" lengthAdjust="spacing" stroke="#111" stroke-width="0.35">SARS-CoV-2</text>
<text x="1536.0" y="414.6" font-size="36.6" font-weight="normal" fill="#111" textLength="193.0" lengthAdjust="spacing" stroke="#111" stroke-width="0.35">reinfection</text>
<text x="266.0" y="778.0" font-size="36.6" font-weight="normal" fill="#111" textLength="89.0" lengthAdjust="spacing" stroke="#111" stroke-width="0.35">Ages</text>
<text x="203.0" y="820.8" font-size="36.6" font-weight="normal" fill="#111" textLength="214.0" lengthAdjust="spacing" stroke="#111" stroke-width="0.35">40-65 years</text>
<text x="630.0" y="778.0" font-size="36.6" font-weight="normal" fill="#111" textLength="224.0" lengthAdjust="spacing" stroke="#111" stroke-width="0.35">More severe</text>
<text x="608.0" y="820.8" font-size="36.6" font-weight="normal" fill="#111" textLength="270.0" lengthAdjust="spacing" stroke="#111" stroke-width="0.35">acute infection</text>
<text x="1082.0" y="778.0" font-size="36.6" font-weight="normal" fill="#111" textLength="237.0" lengthAdjust="spacing" stroke="#111" stroke-width="0.35">Lower socio-</text>
<text x="1052.0" y="820.8" font-size="36.6" font-weight="normal" fill="#111" textLength="299.0" lengthAdjust="spacing" stroke="#111" stroke-width="0.35">economic status</text>
<text x="1493.0" y="800.0" font-size="36.6" font-weight="normal" fill="#111" textLength="279.0" lengthAdjust="spacing" stroke="#111" stroke-width="0.35">Genetic factors</text>
<text x="877.0" y="993.8" font-size="35.8" font-weight="normal" fill="#111" textLength="262.0" lengthAdjust="spacing" stroke="#111" stroke-width="1.0">Increased risk</text>
<text x="914.0" y="1297.8" font-size="35.8" font-weight="normal" fill="#111" textLength="190.0" lengthAdjust="spacing" stroke="#111" stroke-width="1.0">Protective</text>
<text x="115.0" y="1120.0" font-size="36.3" font-weight="bold" fill="#111" textLength="239.0" lengthAdjust="spacing" stroke="#111" stroke-width="0.5">SARS-CoV-2</text>
<text x="149.0" y="1163.3" font-size="36.3" font-weight="bold" fill="#111" textLength="169.0" lengthAdjust="spacing" stroke="#111" stroke-width="0.5">infection</text>
<text x="1737.0" y="1120.0" font-size="36.3" font-weight="bold" fill="#111" textLength="96.0" lengthAdjust="spacing" stroke="#111" stroke-width="0.5">Long</text>
<text x="1722.0" y="1163.0" font-size="36.3" font-weight="bold" fill="#111" textLength="125.0" lengthAdjust="spacing" stroke="#111" stroke-width="0.5">COVID</text>
<text x="726.0" y="1692.3" font-size="36.6" font-weight="normal" fill="#111" textLength="232.0" lengthAdjust="spacing" stroke="#111" stroke-width="0.35">SARS-CoV-2</text>
<text x="740.0" y="1735.8" font-size="36.6" font-weight="normal" fill="#111" textLength="207.0" lengthAdjust="spacing" stroke="#111" stroke-width="0.35">vaccination</text>
<text x="1116.0" y="1692.3" font-size="36.6" font-weight="normal" fill="#111" textLength="182.0" lengthAdjust="spacing" stroke="#111" stroke-width="0.35">COVID-19</text>
<text x="1121.0" y="1735.8" font-size="36.6" font-weight="normal" fill="#111" textLength="171.0" lengthAdjust="spacing" stroke="#111" stroke-width="0.35">treatment</text>
</g>
</svg>
</body></html>
